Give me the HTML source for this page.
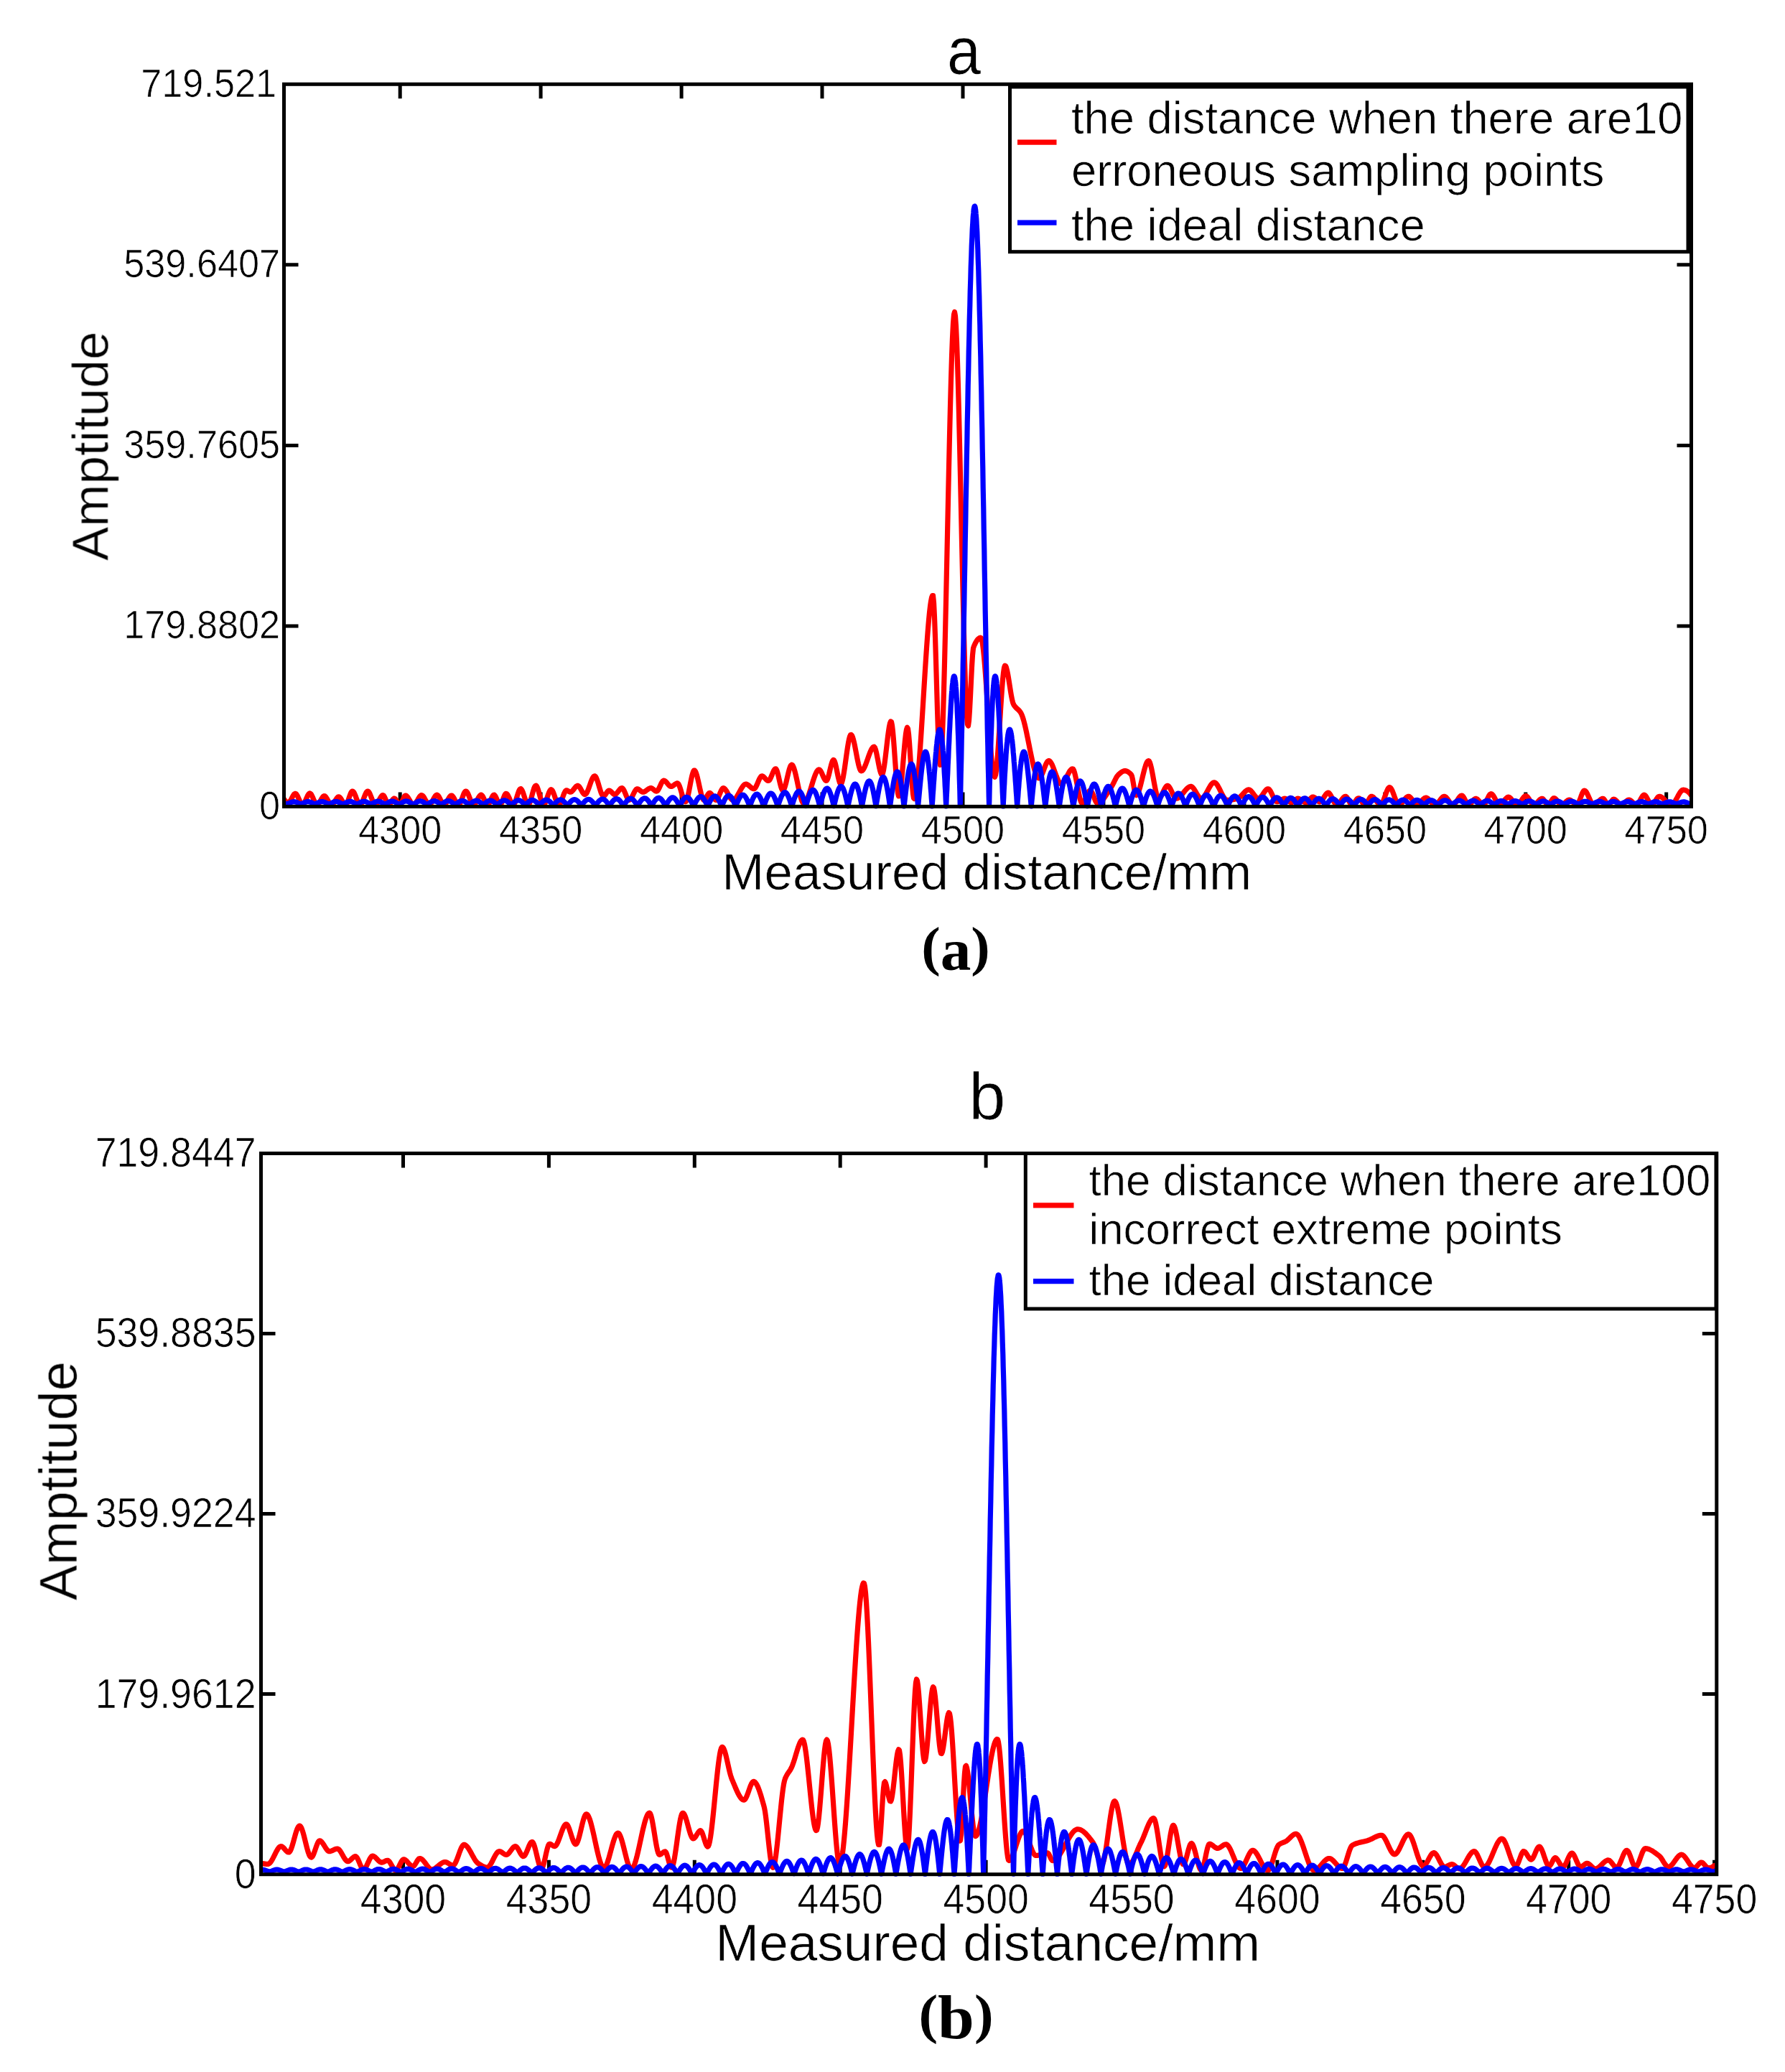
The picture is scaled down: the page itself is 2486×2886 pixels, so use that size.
<!DOCTYPE html>
<html><head><meta charset="utf-8"><title>Figure</title>
<style>html,body{margin:0;padding:0;background:#fff}svg{display:block}text{font-family:"Liberation Sans",Arial,Helvetica,sans-serif;fill:#000;stroke:#fff;stroke-width:0.7px}.cap{font-family:"Liberation Serif","Times New Roman",serif;font-weight:bold;stroke:none}</style></head><body>
<svg width="2486" height="2886" viewBox="0 0 2486 2886">
<rect width="2486" height="2886" fill="#fff"/>
<filter id="soft" x="0" y="0" width="100%" height="100%" filterUnits="userSpaceOnUse"><feGaussianBlur stdDeviation="0.75"/></filter>
<g filter="url(#soft)">
<!-- chart a -->
<clipPath id="clipa"><rect x="395.5" y="117.3" width="1960.0" height="1009.1000000000001"/></clipPath>
<path d="M557.2,1123.4 V1103.4 M557.2,117.3 V137.3 M753.1,1123.4 V1103.4 M753.1,117.3 V137.3 M949.1,1123.4 V1103.4 M949.1,117.3 V137.3 M1145.0,1123.4 V1103.4 M1145.0,117.3 V137.3 M1341.0,1123.4 V1103.4 M1341.0,117.3 V137.3 M1536.9,1123.4 V1103.4 M1536.9,117.3 V137.3 M1732.9,1123.4 V1103.4 M1732.9,117.3 V137.3 M1928.8,1123.4 V1103.4 M1928.8,117.3 V137.3 M2124.8,1123.4 V1103.4 M2124.8,117.3 V137.3 M2320.7,1123.4 V1103.4 M2320.7,117.3 V137.3 M395.5,871.9 H415.5 M2355.5,871.9 H2335.5 M395.5,620.4 H415.5 M2355.5,620.4 H2335.5 M395.5,368.8 H415.5 M2355.5,368.8 H2335.5" stroke="#000" stroke-width="5" fill="none"/>
<g clip-path="url(#clipa)" fill="none" stroke-linejoin="round" stroke-linecap="round">
<path d="M395.5,1113.0 L396.5,1114.5 L397.5,1115.8 L398.5,1116.7 L399.5,1117.4 L400.5,1117.9 L401.5,1118.0 L402.5,1117.6 L403.5,1116.6 L404.5,1115.2 L405.5,1113.4 L406.5,1111.5 L407.5,1109.5 L408.5,1107.8 L409.5,1106.4 L410.5,1105.6 L411.5,1105.3 L412.5,1105.9 L413.5,1107.3 L414.5,1109.1 L415.5,1111.2 L416.5,1113.6 L417.5,1115.8 L418.5,1117.9 L419.5,1119.6 L420.5,1120.7 L421.5,1121.0 L422.5,1120.4 L423.5,1119.1 L424.5,1117.3 L425.5,1115.1 L426.5,1112.7 L427.5,1110.4 L428.5,1108.2 L429.5,1106.5 L430.5,1105.3 L431.5,1104.9 L432.5,1105.4 L433.5,1106.6 L434.5,1108.4 L435.5,1110.6 L436.5,1112.9 L437.5,1115.3 L438.5,1117.5 L439.5,1119.3 L440.5,1120.5 L441.5,1121.0 L442.5,1120.7 L443.5,1119.8 L444.5,1118.4 L445.5,1116.8 L446.5,1115.0 L447.5,1113.2 L448.5,1111.5 L449.5,1110.1 L450.5,1109.1 L451.5,1108.7 L452.5,1108.9 L453.5,1109.8 L454.5,1111.1 L455.5,1112.7 L456.5,1114.5 L457.5,1116.4 L458.5,1118.1 L459.5,1119.5 L460.5,1120.5 L461.5,1121.0 L462.5,1120.8 L463.5,1120.1 L464.5,1118.9 L465.5,1117.4 L466.5,1115.8 L467.5,1114.2 L468.5,1112.6 L469.5,1111.3 L470.5,1110.3 L471.5,1109.8 L472.5,1110.0 L473.5,1110.8 L474.5,1112.0 L475.5,1113.6 L476.5,1115.3 L477.5,1117.0 L478.5,1118.6 L479.5,1119.9 L480.5,1120.8 L481.5,1121.0 L482.5,1120.2 L483.5,1118.5 L484.5,1116.0 L485.5,1113.2 L486.5,1110.2 L487.5,1107.3 L488.5,1104.8 L489.5,1103.0 L490.5,1102.0 L491.5,1102.2 L492.5,1103.2 L493.5,1104.9 L494.5,1107.2 L495.5,1109.7 L496.5,1112.4 L497.5,1115.0 L498.5,1117.3 L499.5,1119.3 L500.5,1120.5 L501.5,1121.0 L502.5,1120.5 L503.5,1119.2 L504.5,1117.3 L505.5,1114.9 L506.5,1112.3 L507.5,1109.6 L508.5,1107.1 L509.5,1104.9 L510.5,1103.2 L511.5,1102.2 L512.5,1102.0 L513.5,1102.8 L514.5,1104.4 L515.5,1106.5 L516.5,1109.0 L517.5,1111.6 L518.5,1114.3 L519.5,1116.7 L520.5,1118.8 L521.5,1120.2 L522.5,1121.0 L523.5,1120.8 L524.5,1120.1 L525.5,1118.8 L526.5,1117.2 L527.5,1115.4 L528.5,1113.5 L529.5,1111.7 L530.5,1110.0 L531.5,1108.7 L532.5,1107.8 L533.5,1107.6 L534.5,1108.3 L535.5,1109.9 L536.5,1112.2 L537.5,1114.7 L538.5,1117.2 L539.5,1119.3 L540.5,1120.6 L541.5,1121.0 L542.5,1120.4 L543.5,1119.2 L544.5,1117.7 L545.5,1116.0 L546.5,1114.4 L547.5,1113.0 L548.5,1112.2 L549.5,1112.1 L550.5,1112.8 L551.5,1114.0 L552.5,1115.6 L553.5,1117.3 L554.5,1118.9 L555.5,1120.2 L556.5,1120.9 L557.5,1120.8 L558.5,1119.7 L559.5,1117.8 L560.5,1115.4 L561.5,1113.0 L562.5,1110.7 L563.5,1108.9 L564.5,1108.1 L565.5,1108.2 L566.5,1108.8 L567.5,1109.9 L568.5,1111.3 L569.5,1113.0 L570.5,1114.7 L571.5,1116.4 L572.5,1118.0 L573.5,1119.4 L574.5,1120.4 L575.5,1120.9 L576.5,1120.9 L577.5,1120.3 L578.5,1119.3 L579.5,1117.9 L580.5,1116.2 L581.5,1114.5 L582.5,1112.7 L583.5,1111.0 L584.5,1109.5 L585.5,1108.4 L586.5,1107.7 L587.5,1107.6 L588.5,1108.1 L589.5,1109.2 L590.5,1110.6 L591.5,1112.4 L592.5,1114.2 L593.5,1116.1 L594.5,1117.9 L595.5,1119.3 L596.5,1120.4 L597.5,1121.0 L598.5,1120.8 L599.5,1120.1 L600.5,1118.8 L601.5,1117.2 L602.5,1115.4 L603.5,1113.4 L604.5,1111.5 L605.5,1109.8 L606.5,1108.4 L607.5,1107.5 L608.5,1107.1 L609.5,1107.5 L610.5,1108.6 L611.5,1110.1 L612.5,1112.0 L613.5,1114.0 L614.5,1116.0 L615.5,1117.9 L616.5,1119.5 L617.5,1120.6 L618.5,1121.0 L619.5,1120.7 L620.5,1119.8 L621.5,1118.3 L622.5,1116.6 L623.5,1114.7 L624.5,1112.8 L625.5,1111.0 L626.5,1109.5 L627.5,1108.5 L628.5,1108.0 L629.5,1108.3 L630.5,1109.2 L631.5,1110.5 L632.5,1112.2 L633.5,1114.1 L634.5,1116.0 L635.5,1117.8 L636.5,1119.4 L637.5,1120.5 L638.5,1121.0 L639.5,1120.7 L640.5,1119.5 L641.5,1117.5 L642.5,1115.0 L643.5,1112.3 L644.5,1109.5 L645.5,1106.8 L646.5,1104.5 L647.5,1102.9 L648.5,1102.0 L649.5,1102.2 L650.5,1103.2 L651.5,1105.0 L652.5,1107.2 L653.5,1109.8 L654.5,1112.4 L655.5,1115.0 L656.5,1117.4 L657.5,1119.3 L658.5,1120.6 L659.5,1121.0 L660.5,1120.6 L661.5,1119.7 L662.5,1118.3 L663.5,1116.5 L664.5,1114.6 L665.5,1112.7 L666.5,1110.8 L667.5,1109.2 L668.5,1108.0 L669.5,1107.2 L670.5,1107.2 L671.5,1108.0 L672.5,1109.5 L673.5,1111.6 L674.5,1113.8 L675.5,1116.1 L676.5,1118.2 L677.5,1119.9 L678.5,1120.8 L679.5,1120.9 L680.5,1120.1 L681.5,1118.5 L682.5,1116.5 L683.5,1114.2 L684.5,1111.9 L685.5,1109.8 L686.5,1108.2 L687.5,1107.3 L688.5,1107.2 L689.5,1108.2 L690.5,1110.0 L691.5,1112.2 L692.5,1114.7 L693.5,1117.1 L694.5,1119.1 L695.5,1120.5 L696.5,1121.0 L697.5,1120.3 L698.5,1118.6 L699.5,1116.3 L700.5,1113.6 L701.5,1110.8 L702.5,1108.3 L703.5,1106.4 L704.5,1105.4 L705.5,1105.5 L706.5,1106.4 L707.5,1108.0 L708.5,1110.0 L709.5,1112.3 L710.5,1114.6 L711.5,1116.8 L712.5,1118.7 L713.5,1120.1 L714.5,1120.9 L715.5,1120.8 L716.5,1119.5 L717.5,1117.4 L718.5,1114.6 L719.5,1111.4 L720.5,1108.0 L721.5,1104.9 L722.5,1102.1 L723.5,1100.0 L724.5,1098.8 L725.5,1098.7 L726.5,1099.8 L727.5,1101.7 L728.5,1104.2 L729.5,1107.2 L730.5,1110.3 L731.5,1113.4 L732.5,1116.3 L733.5,1118.6 L734.5,1120.3 L735.5,1121.0 L736.5,1120.5 L737.5,1118.9 L738.5,1116.3 L739.5,1113.0 L740.5,1109.4 L741.5,1105.6 L742.5,1102.0 L743.5,1098.7 L744.5,1096.2 L745.5,1094.6 L746.5,1094.1 L747.5,1095.1 L748.5,1097.1 L749.5,1099.9 L750.5,1103.4 L751.5,1107.1 L752.5,1110.8 L753.5,1114.4 L754.5,1117.4 L755.5,1119.6 L756.5,1120.9 L757.5,1120.8 L758.5,1119.8 L759.5,1117.9 L760.5,1115.5 L761.5,1112.6 L762.5,1109.7 L763.5,1106.7 L764.5,1104.1 L765.5,1101.9 L766.5,1100.3 L767.5,1099.7 L768.5,1100.2 L769.5,1101.5 L770.5,1103.6 L771.5,1106.2 L772.5,1109.1 L773.5,1112.1 L774.5,1115.0 L775.5,1117.5 L776.5,1119.5 L777.5,1120.7 L778.5,1121.0 L779.5,1120.2 L780.5,1118.7 L781.5,1116.5 L782.5,1113.9 L783.5,1111.1 L784.5,1108.3 L785.5,1105.6 L786.5,1103.4 L787.5,1101.8 L788.5,1100.9 L789.5,1100.9 L790.5,1101.3 L791.5,1101.9 L792.5,1102.6 L793.5,1103.1 L794.5,1103.2 L795.5,1103.0 L796.5,1102.3 L797.5,1101.3 L798.5,1100.1 L799.5,1098.8 L800.5,1097.5 L801.5,1096.3 L802.5,1095.3 L803.5,1094.6 L804.5,1094.3 L805.5,1094.6 L806.5,1095.5 L807.5,1096.8 L808.5,1098.4 L809.5,1100.3 L810.5,1102.1 L811.5,1103.8 L812.5,1105.2 L813.5,1106.2 L814.5,1106.6 L815.5,1106.3 L816.5,1105.3 L817.5,1103.6 L818.5,1101.5 L819.5,1099.0 L820.5,1096.2 L821.5,1093.4 L822.5,1090.5 L823.5,1087.8 L824.5,1085.4 L825.5,1083.4 L826.5,1081.8 L827.5,1081.0 L828.5,1080.9 L829.5,1081.8 L830.5,1083.6 L831.5,1086.1 L832.5,1089.0 L833.5,1092.3 L834.5,1095.7 L835.5,1099.0 L836.5,1102.2 L837.5,1104.9 L838.5,1107.0 L839.5,1108.4 L840.5,1108.8 L841.5,1108.4 L842.5,1107.5 L843.5,1106.2 L844.5,1104.7 L845.5,1103.2 L846.5,1102.0 L847.5,1101.2 L848.5,1101.0 L849.5,1101.4 L850.5,1102.1 L851.5,1103.1 L852.5,1104.1 L853.5,1105.2 L854.5,1106.0 L855.5,1106.5 L856.5,1106.6 L857.5,1106.1 L858.5,1105.3 L859.5,1104.2 L860.5,1103.0 L861.5,1101.7 L862.5,1100.4 L863.5,1099.2 L864.5,1098.3 L865.5,1097.8 L866.5,1097.7 L867.5,1098.4 L868.5,1099.9 L869.5,1101.9 L870.5,1104.2 L871.5,1106.7 L872.5,1109.2 L873.5,1111.3 L874.5,1113.1 L875.5,1114.2 L876.5,1114.4 L877.5,1113.9 L878.5,1112.8 L879.5,1111.3 L880.5,1109.4 L881.5,1107.4 L882.5,1105.3 L883.5,1103.3 L884.5,1101.5 L885.5,1100.1 L886.5,1099.1 L887.5,1098.8 L888.5,1099.0 L889.5,1099.5 L890.5,1100.3 L891.5,1101.1 L892.5,1101.9 L893.5,1102.6 L894.5,1103.1 L895.5,1103.2 L896.5,1103.1 L897.5,1102.7 L898.5,1102.2 L899.5,1101.5 L900.5,1100.8 L901.5,1100.0 L902.5,1099.3 L903.5,1098.7 L904.5,1098.1 L905.5,1097.8 L906.5,1097.6 L907.5,1097.8 L908.5,1098.4 L909.5,1099.1 L910.5,1099.9 L911.5,1100.8 L912.5,1101.5 L913.5,1102.0 L914.5,1102.1 L915.5,1101.6 L916.5,1100.4 L917.5,1098.7 L918.5,1096.6 L919.5,1094.4 L920.5,1092.2 L921.5,1090.2 L922.5,1088.6 L923.5,1087.5 L924.5,1087.1 L925.5,1087.4 L926.5,1088.0 L927.5,1088.9 L928.5,1090.0 L929.5,1091.3 L930.5,1092.5 L931.5,1093.6 L932.5,1094.5 L933.5,1095.2 L934.5,1095.4 L935.5,1095.3 L936.5,1094.9 L937.5,1094.3 L938.5,1093.6 L939.5,1092.8 L940.5,1092.1 L941.5,1091.5 L942.5,1091.1 L943.5,1090.9 L944.5,1091.5 L945.5,1093.1 L946.5,1095.5 L947.5,1098.4 L948.5,1101.7 L949.5,1105.2 L950.5,1108.5 L951.5,1111.6 L952.5,1114.1 L953.5,1115.9 L954.5,1116.7 L955.5,1116.2 L956.5,1114.2 L957.5,1111.0 L958.5,1106.8 L959.5,1102.0 L960.5,1096.8 L961.5,1091.5 L962.5,1086.4 L963.5,1081.7 L964.5,1077.8 L965.5,1074.9 L966.5,1073.2 L967.5,1073.1 L968.5,1074.4 L969.5,1076.7 L970.5,1079.9 L971.5,1083.7 L972.5,1088.0 L973.5,1092.6 L974.5,1097.2 L975.5,1101.6 L976.5,1105.7 L977.5,1109.3 L978.5,1112.0 L979.5,1113.8 L980.5,1114.5 L981.5,1114.0 L982.5,1112.8 L983.5,1111.1 L984.5,1109.2 L985.5,1107.3 L986.5,1105.7 L987.5,1104.7 L988.5,1104.4 L989.5,1104.8 L990.5,1105.9 L991.5,1107.3 L992.5,1108.9 L993.5,1110.6 L994.5,1112.1 L995.5,1113.4 L996.5,1114.2 L997.5,1114.4 L998.5,1113.8 L999.5,1112.4 L1000.5,1110.4 L1001.5,1108.1 L1002.5,1105.6 L1003.5,1103.2 L1004.5,1101.0 L1005.5,1099.2 L1006.5,1098.0 L1007.5,1097.7 L1008.5,1098.0 L1009.5,1098.8 L1010.5,1100.0 L1011.5,1101.4 L1012.5,1103.1 L1013.5,1104.9 L1014.5,1106.8 L1015.5,1108.7 L1016.5,1110.4 L1017.5,1111.9 L1018.5,1113.1 L1019.5,1114.0 L1020.5,1114.4 L1021.5,1114.4 L1022.5,1113.9 L1023.5,1113.1 L1024.5,1112.0 L1025.5,1110.7 L1026.5,1109.1 L1027.5,1107.4 L1028.5,1105.6 L1029.5,1103.8 L1030.5,1101.9 L1031.5,1100.1 L1032.5,1098.3 L1033.5,1096.7 L1034.5,1095.2 L1035.5,1094.0 L1036.5,1093.0 L1037.5,1092.4 L1038.5,1092.1 L1039.5,1092.1 L1040.5,1092.5 L1041.5,1093.1 L1042.5,1093.8 L1043.5,1094.7 L1044.5,1095.5 L1045.5,1096.4 L1046.5,1097.3 L1047.5,1097.9 L1048.5,1098.5 L1049.5,1098.7 L1050.5,1098.6 L1051.5,1097.8 L1052.5,1096.4 L1053.5,1094.5 L1054.5,1092.3 L1055.5,1089.9 L1056.5,1087.5 L1057.5,1085.3 L1058.5,1083.4 L1059.5,1081.9 L1060.5,1081.0 L1061.5,1080.9 L1062.5,1081.3 L1063.5,1082.0 L1064.5,1083.0 L1065.5,1084.1 L1066.5,1085.2 L1067.5,1086.2 L1068.5,1087.0 L1069.5,1087.5 L1070.5,1087.5 L1071.5,1086.7 L1072.5,1085.2 L1073.5,1083.1 L1074.5,1080.8 L1075.5,1078.3 L1076.5,1075.9 L1077.5,1073.7 L1078.5,1072.0 L1079.5,1071.0 L1080.5,1070.8 L1081.5,1072.1 L1082.5,1074.8 L1083.5,1078.4 L1084.5,1082.6 L1085.5,1087.1 L1086.5,1091.4 L1087.5,1095.4 L1088.5,1098.5 L1089.5,1100.5 L1090.5,1101.0 L1091.5,1100.0 L1092.5,1097.9 L1093.5,1094.9 L1094.5,1091.3 L1095.5,1087.2 L1096.5,1082.8 L1097.5,1078.5 L1098.5,1074.4 L1099.5,1070.8 L1100.5,1067.9 L1101.5,1066.0 L1102.5,1065.2 L1103.5,1065.6 L1104.5,1067.1 L1105.5,1069.4 L1106.5,1072.5 L1107.5,1076.2 L1108.5,1080.4 L1109.5,1084.9 L1110.5,1089.6 L1111.5,1094.4 L1112.5,1099.1 L1113.5,1103.7 L1114.5,1107.8 L1115.5,1111.6 L1116.5,1114.7 L1117.5,1117.0 L1118.5,1118.5 L1119.5,1118.9 L1120.5,1118.6 L1121.5,1117.7 L1122.5,1116.3 L1123.5,1114.4 L1124.5,1112.2 L1125.5,1109.6 L1126.5,1106.8 L1127.5,1103.7 L1128.5,1100.5 L1129.5,1097.2 L1130.5,1093.9 L1131.5,1090.6 L1132.5,1087.4 L1133.5,1084.4 L1134.5,1081.5 L1135.5,1078.9 L1136.5,1076.6 L1137.5,1074.7 L1138.5,1073.3 L1139.5,1072.3 L1140.5,1071.9 L1141.5,1072.2 L1142.5,1073.2 L1143.5,1074.8 L1144.5,1076.9 L1145.5,1079.2 L1146.5,1081.5 L1147.5,1083.7 L1148.5,1085.5 L1149.5,1086.9 L1150.5,1087.5 L1151.5,1087.1 L1152.5,1085.3 L1153.5,1082.4 L1154.5,1078.6 L1155.5,1074.4 L1156.5,1070.1 L1157.5,1066.0 L1158.5,1062.5 L1159.5,1059.9 L1160.5,1058.5 L1161.5,1058.8 L1162.5,1060.8 L1163.5,1064.1 L1164.5,1068.4 L1165.5,1073.2 L1166.5,1078.2 L1167.5,1082.9 L1168.5,1087.0 L1169.5,1090.2 L1170.5,1091.8 L1171.5,1091.7 L1172.5,1089.8 L1173.5,1086.2 L1174.5,1081.4 L1175.5,1075.5 L1176.5,1068.9 L1177.5,1061.8 L1178.5,1054.6 L1179.5,1047.5 L1180.5,1040.8 L1181.5,1034.8 L1182.5,1029.7 L1183.5,1026.0 L1184.5,1023.7 L1185.5,1023.3 L1186.5,1024.4 L1187.5,1026.7 L1188.5,1030.0 L1189.5,1034.1 L1190.5,1038.8 L1191.5,1043.9 L1192.5,1049.2 L1193.5,1054.5 L1194.5,1059.5 L1195.5,1064.1 L1196.5,1068.0 L1197.5,1071.1 L1198.5,1073.1 L1199.5,1073.9 L1200.5,1073.6 L1201.5,1072.8 L1202.5,1071.4 L1203.5,1069.7 L1204.5,1067.5 L1205.5,1065.1 L1206.5,1062.5 L1207.5,1059.7 L1208.5,1056.8 L1209.5,1054.0 L1210.5,1051.2 L1211.5,1048.6 L1212.5,1046.2 L1213.5,1044.1 L1214.5,1042.4 L1215.5,1041.1 L1216.5,1040.3 L1217.5,1040.2 L1218.5,1041.4 L1219.5,1044.2 L1220.5,1048.1 L1221.5,1052.9 L1222.5,1058.0 L1223.5,1063.3 L1224.5,1068.4 L1225.5,1072.8 L1226.5,1076.3 L1227.5,1078.4 L1228.5,1078.9 L1229.5,1077.0 L1230.5,1072.9 L1231.5,1067.0 L1232.5,1059.7 L1233.5,1051.5 L1234.5,1042.8 L1235.5,1034.1 L1236.5,1025.7 L1237.5,1018.2 L1238.5,1011.9 L1239.5,1007.3 L1240.5,1004.9 L1241.5,1005.4 L1242.5,1010.4 L1243.5,1019.0 L1244.5,1030.5 L1245.5,1043.8 L1246.5,1057.9 L1247.5,1072.1 L1248.5,1085.2 L1249.5,1096.3 L1250.5,1104.6 L1251.5,1108.9 L1252.5,1108.7 L1253.5,1104.7 L1254.5,1097.7 L1255.5,1088.3 L1256.5,1077.3 L1257.5,1065.4 L1258.5,1053.2 L1259.5,1041.5 L1260.5,1030.9 L1261.5,1022.2 L1262.5,1016.1 L1263.5,1013.2 L1264.5,1015.0 L1265.5,1022.4 L1266.5,1034.1 L1267.5,1048.7 L1268.5,1064.6 L1269.5,1080.4 L1270.5,1094.5 L1271.5,1105.5 L1272.5,1111.8 L1273.5,1112.5 L1274.5,1110.2 L1275.5,1105.7 L1276.5,1099.2 L1277.5,1090.9 L1278.5,1080.9 L1279.5,1069.5 L1280.5,1056.8 L1281.5,1043.0 L1282.5,1028.4 L1283.5,1013.1 L1284.5,997.3 L1285.5,981.1 L1286.5,964.9 L1287.5,948.7 L1288.5,932.8 L1289.5,917.3 L1290.5,902.5 L1291.5,888.5 L1292.5,875.5 L1293.5,863.7 L1294.5,853.4 L1295.5,844.6 L1296.5,837.6 L1297.5,832.5 L1298.5,829.6 L1299.5,829.5 L1300.5,839.3 L1301.5,859.4 L1302.5,887.2 L1303.5,919.8 L1304.5,954.6 L1305.5,988.8 L1306.5,1019.7 L1307.5,1044.5 L1308.5,1060.7 L1309.5,1065.4 L1310.5,1059.6 L1311.5,1045.4 L1312.5,1023.8 L1313.5,995.8 L1314.5,962.2 L1315.5,924.0 L1316.5,882.2 L1317.5,837.7 L1318.5,791.4 L1319.5,744.3 L1320.5,697.3 L1321.5,651.3 L1322.5,607.4 L1323.5,566.3 L1324.5,529.2 L1325.5,496.9 L1326.5,470.3 L1327.5,450.4 L1328.5,438.2 L1329.5,434.5 L1330.5,440.2 L1331.5,454.5 L1332.5,476.3 L1333.5,504.8 L1334.5,538.7 L1335.5,577.2 L1336.5,619.0 L1337.5,663.3 L1338.5,708.9 L1339.5,754.9 L1340.5,800.1 L1341.5,843.6 L1342.5,884.2 L1343.5,921.0 L1344.5,953.0 L1345.5,979.0 L1346.5,998.0 L1347.5,1009.0 L1348.5,1011.0 L1349.5,1003.5 L1350.5,988.7 L1351.5,969.6 L1352.5,948.6 L1353.5,928.7 L1354.5,912.6 L1355.5,902.9 L1356.5,899.9 L1357.5,897.6 L1358.5,895.6 L1359.5,893.8 L1360.5,892.2 L1361.5,890.8 L1362.5,889.8 L1363.5,889.0 L1364.5,888.4 L1365.5,888.1 L1366.5,888.6 L1367.5,891.6 L1368.5,897.3 L1369.5,905.2 L1370.5,915.1 L1371.5,926.7 L1372.5,939.5 L1373.5,953.4 L1374.5,967.9 L1375.5,982.9 L1376.5,997.8 L1377.5,1012.5 L1378.5,1026.6 L1379.5,1039.9 L1380.5,1051.8 L1381.5,1062.3 L1382.5,1070.9 L1383.5,1077.3 L1384.5,1081.2 L1385.5,1082.3 L1386.5,1079.6 L1387.5,1073.1 L1388.5,1063.4 L1389.5,1051.2 L1390.5,1037.0 L1391.5,1021.6 L1392.5,1005.5 L1393.5,989.3 L1394.5,973.8 L1395.5,959.5 L1396.5,947.0 L1397.5,937.0 L1398.5,930.2 L1399.5,927.1 L1400.5,927.5 L1401.5,929.8 L1402.5,933.6 L1403.5,938.4 L1404.5,944.2 L1405.5,950.4 L1406.5,956.8 L1407.5,963.1 L1408.5,969.0 L1409.5,974.1 L1410.5,978.2 L1411.5,980.9 L1412.5,982.6 L1413.5,984.0 L1414.5,985.1 L1415.5,986.1 L1416.5,987.1 L1417.5,987.9 L1418.5,988.9 L1419.5,989.9 L1420.5,991.1 L1421.5,992.5 L1422.5,994.4 L1423.5,996.7 L1424.5,999.6 L1425.5,1002.9 L1426.5,1006.6 L1427.5,1010.7 L1428.5,1015.0 L1429.5,1019.6 L1430.5,1024.4 L1431.5,1029.3 L1432.5,1034.3 L1433.5,1039.3 L1434.5,1044.4 L1435.5,1049.3 L1436.5,1054.1 L1437.5,1058.7 L1438.5,1063.1 L1439.5,1067.3 L1440.5,1071.1 L1441.5,1074.5 L1442.5,1077.5 L1443.5,1079.9 L1444.5,1081.9 L1445.5,1083.2 L1446.5,1084.0 L1447.5,1084.0 L1448.5,1083.3 L1449.5,1081.9 L1450.5,1080.1 L1451.5,1077.8 L1452.5,1075.3 L1453.5,1072.7 L1454.5,1070.0 L1455.5,1067.4 L1456.5,1064.9 L1457.5,1062.8 L1458.5,1061.1 L1459.5,1060.0 L1460.5,1059.6 L1461.5,1059.8 L1462.5,1060.6 L1463.5,1061.9 L1464.5,1063.7 L1465.5,1065.7 L1466.5,1068.1 L1467.5,1070.7 L1468.5,1073.4 L1469.5,1076.2 L1470.5,1079.0 L1471.5,1081.7 L1472.5,1084.2 L1473.5,1086.5 L1474.5,1088.5 L1475.5,1090.1 L1476.5,1091.3 L1477.5,1091.9 L1478.5,1092.0 L1479.5,1091.6 L1480.5,1090.7 L1481.5,1089.5 L1482.5,1088.0 L1483.5,1086.2 L1484.5,1084.3 L1485.5,1082.3 L1486.5,1080.3 L1487.5,1078.3 L1488.5,1076.4 L1489.5,1074.6 L1490.5,1073.2 L1491.5,1072.0 L1492.5,1071.2 L1493.5,1070.8 L1494.5,1071.2 L1495.5,1072.9 L1496.5,1075.9 L1497.5,1079.8 L1498.5,1084.4 L1499.5,1089.5 L1500.5,1094.8 L1501.5,1100.2 L1502.5,1105.3 L1503.5,1109.9 L1504.5,1113.8 L1505.5,1116.8 L1506.5,1118.5 L1507.5,1118.9 L1508.5,1118.3 L1509.5,1117.0 L1510.5,1115.2 L1511.5,1113.1 L1512.5,1110.8 L1513.5,1108.4 L1514.5,1106.1 L1515.5,1104.0 L1516.5,1102.4 L1517.5,1101.4 L1518.5,1101.0 L1519.5,1101.6 L1520.5,1103.0 L1521.5,1105.0 L1522.5,1107.4 L1523.5,1110.0 L1524.5,1112.7 L1525.5,1115.1 L1526.5,1117.1 L1527.5,1118.4 L1528.5,1118.9 L1529.5,1118.8 L1530.5,1118.5 L1531.5,1118.0 L1532.5,1117.3 L1533.5,1116.5 L1534.5,1115.5 L1535.5,1114.4 L1536.5,1113.2 L1537.5,1111.9 L1538.5,1110.5 L1539.5,1109.0 L1540.5,1107.5 L1541.5,1105.9 L1542.5,1104.3 L1543.5,1102.7 L1544.5,1101.2 L1545.5,1099.6 L1546.5,1098.1 L1547.5,1096.6 L1548.5,1095.1 L1549.5,1093.3 L1550.5,1091.4 L1551.5,1089.4 L1552.5,1087.3 L1553.5,1085.3 L1554.5,1083.4 L1555.5,1081.7 L1556.5,1080.3 L1557.5,1079.2 L1558.5,1078.3 L1559.5,1077.4 L1560.5,1076.6 L1561.5,1075.8 L1562.5,1075.1 L1563.5,1074.5 L1564.5,1074.1 L1565.5,1073.8 L1566.5,1073.7 L1567.5,1073.7 L1568.5,1073.9 L1569.5,1074.3 L1570.5,1074.8 L1571.5,1075.4 L1572.5,1076.1 L1573.5,1077.0 L1574.5,1077.9 L1575.5,1079.0 L1576.5,1081.3 L1577.5,1085.8 L1578.5,1091.6 L1579.5,1097.7 L1580.5,1103.1 L1581.5,1106.7 L1582.5,1107.7 L1583.5,1107.1 L1584.5,1105.6 L1585.5,1103.4 L1586.5,1100.5 L1587.5,1097.2 L1588.5,1093.5 L1589.5,1089.6 L1590.5,1085.4 L1591.5,1081.2 L1592.5,1077.1 L1593.5,1073.2 L1594.5,1069.5 L1595.5,1066.3 L1596.5,1063.5 L1597.5,1061.4 L1598.5,1060.1 L1599.5,1059.6 L1600.5,1060.2 L1601.5,1062.3 L1602.5,1065.5 L1603.5,1069.6 L1604.5,1074.4 L1605.5,1079.7 L1606.5,1085.3 L1607.5,1090.8 L1608.5,1096.2 L1609.5,1101.1 L1610.5,1105.4 L1611.5,1108.9 L1612.5,1111.2 L1613.5,1112.2 L1614.5,1112.0 L1615.5,1111.1 L1616.5,1109.8 L1617.5,1108.1 L1618.5,1106.1 L1619.5,1104.0 L1620.5,1101.8 L1621.5,1099.7 L1622.5,1097.8 L1623.5,1096.2 L1624.5,1095.0 L1625.5,1094.4 L1626.5,1094.4 L1627.5,1095.0 L1628.5,1096.2 L1629.5,1097.8 L1630.5,1099.7 L1631.5,1101.8 L1632.5,1104.0 L1633.5,1106.1 L1634.5,1108.1 L1635.5,1109.8 L1636.5,1111.2 L1637.5,1112.0 L1638.5,1112.2 L1639.5,1112.0 L1640.5,1111.7 L1641.5,1111.1 L1642.5,1110.3 L1643.5,1109.5 L1644.5,1108.4 L1645.5,1107.3 L1646.5,1106.2 L1647.5,1104.9 L1648.5,1103.7 L1649.5,1102.4 L1650.5,1101.2 L1651.5,1100.1 L1652.5,1099.0 L1653.5,1098.0 L1654.5,1097.1 L1655.5,1096.4 L1656.5,1095.9 L1657.5,1095.5 L1658.5,1095.4 L1659.5,1095.6 L1660.5,1096.3 L1661.5,1097.3 L1662.5,1098.5 L1663.5,1100.0 L1664.5,1101.6 L1665.5,1103.3 L1666.5,1105.1 L1667.5,1106.7 L1668.5,1108.3 L1669.5,1109.7 L1670.5,1110.8 L1671.5,1111.7 L1672.5,1112.1 L1673.5,1112.2 L1674.5,1111.8 L1675.5,1111.1 L1676.5,1110.0 L1677.5,1108.8 L1678.5,1107.3 L1679.5,1105.6 L1680.5,1103.8 L1681.5,1102.0 L1682.5,1100.1 L1683.5,1098.3 L1684.5,1096.5 L1685.5,1094.8 L1686.5,1093.3 L1687.5,1092.0 L1688.5,1091.0 L1689.5,1090.2 L1690.5,1089.9 L1691.5,1089.9 L1692.5,1090.3 L1693.5,1091.1 L1694.5,1092.3 L1695.5,1093.7 L1696.5,1095.4 L1697.5,1097.2 L1698.5,1099.2 L1699.5,1101.2 L1700.5,1103.3 L1701.5,1105.3 L1702.5,1107.3 L1703.5,1109.1 L1704.5,1110.7 L1705.5,1112.1 L1706.5,1113.2 L1707.5,1114.0 L1708.5,1114.4 L1709.5,1114.4 L1710.5,1114.4 L1711.5,1114.4 L1712.5,1114.3 L1713.5,1114.2 L1714.5,1114.1 L1715.5,1113.9 L1716.5,1113.7 L1717.5,1113.6 L1718.5,1113.4 L1719.5,1113.2 L1720.5,1112.9 L1721.5,1112.7 L1722.5,1112.5 L1723.5,1112.2 L1724.5,1111.8 L1725.5,1111.3 L1726.5,1110.5 L1727.5,1109.6 L1728.5,1108.6 L1729.5,1107.6 L1730.5,1106.5 L1731.5,1105.3 L1732.5,1104.3 L1733.5,1103.2 L1734.5,1102.3 L1735.5,1101.4 L1736.5,1100.7 L1737.5,1100.2 L1738.5,1099.9 L1739.5,1099.9 L1740.5,1100.2 L1741.5,1100.9 L1742.5,1101.8 L1743.5,1102.9 L1744.5,1104.2 L1745.5,1105.5 L1746.5,1106.9 L1747.5,1108.2 L1748.5,1109.5 L1749.5,1110.5 L1750.5,1111.4 L1751.5,1112.0 L1752.5,1112.2 L1753.5,1112.0 L1754.5,1111.5 L1755.5,1110.6 L1756.5,1109.5 L1757.5,1108.2 L1758.5,1106.7 L1759.5,1105.2 L1760.5,1103.7 L1761.5,1102.3 L1762.5,1101.1 L1763.5,1100.0 L1764.5,1099.3 L1765.5,1098.8 L1766.5,1098.8 L1767.5,1099.5 L1768.5,1100.6 L1769.5,1102.2 L1770.5,1104.1 L1771.5,1106.2 L1772.5,1108.4 L1773.5,1110.5 L1774.5,1112.5 L1775.5,1114.2 L1776.5,1115.6 L1777.5,1116.4 L1778.5,1116.7 L1779.5,1116.6 L1780.5,1116.3 L1781.5,1115.8 L1782.5,1115.3 L1783.5,1114.7 L1784.5,1114.1 L1785.5,1113.6 L1786.5,1113.0 L1787.5,1112.6 L1788.5,1112.3 L1789.5,1112.2 L1790.5,1112.4 L1791.5,1112.9 L1792.5,1113.6 L1793.5,1114.5 L1794.5,1115.4 L1795.5,1116.3 L1796.5,1117.1 L1797.5,1117.6 L1798.5,1117.8 L1799.5,1117.6 L1800.5,1117.1 L1801.5,1116.4 L1802.5,1115.5 L1803.5,1114.6 L1804.5,1113.7 L1805.5,1112.9 L1806.5,1112.4 L1807.5,1112.2 L1808.5,1112.3 L1809.5,1112.7 L1810.5,1113.2 L1811.5,1113.8 L1812.5,1114.6 L1813.5,1115.3 L1814.5,1116.0 L1815.5,1116.7 L1816.5,1117.2 L1817.5,1117.6 L1818.5,1117.8 L1819.5,1117.7 L1820.5,1117.2 L1821.5,1116.3 L1822.5,1115.3 L1823.5,1114.2 L1824.5,1113.0 L1825.5,1111.9 L1826.5,1111.0 L1827.5,1110.3 L1828.5,1110.0 L1829.5,1110.1 L1830.5,1110.6 L1831.5,1111.4 L1832.5,1112.5 L1833.5,1113.6 L1834.5,1114.7 L1835.5,1115.7 L1836.5,1116.5 L1837.5,1116.9 L1838.5,1116.9 L1839.5,1116.4 L1840.5,1115.5 L1841.5,1114.2 L1842.5,1112.7 L1843.5,1111.1 L1844.5,1109.5 L1845.5,1107.9 L1846.5,1106.4 L1847.5,1105.3 L1848.5,1104.5 L1849.5,1104.1 L1850.5,1104.3 L1851.5,1105.2 L1852.5,1106.5 L1853.5,1108.1 L1854.5,1110.1 L1855.5,1112.1 L1856.5,1114.2 L1857.5,1116.2 L1858.5,1118.0 L1859.5,1119.4 L1860.5,1120.5 L1861.5,1121.0 L1862.5,1120.9 L1863.5,1120.3 L1864.5,1119.5 L1865.5,1118.3 L1866.5,1117.0 L1867.5,1115.6 L1868.5,1114.1 L1869.5,1112.7 L1870.5,1111.5 L1871.5,1110.4 L1872.5,1109.7 L1873.5,1109.3 L1874.5,1109.4 L1875.5,1110.3 L1876.5,1111.7 L1877.5,1113.4 L1878.5,1115.3 L1879.5,1117.2 L1880.5,1118.9 L1881.5,1120.2 L1882.5,1120.9 L1883.5,1120.9 L1884.5,1120.3 L1885.5,1119.2 L1886.5,1117.8 L1887.5,1116.3 L1888.5,1114.8 L1889.5,1113.4 L1890.5,1112.4 L1891.5,1111.8 L1892.5,1111.8 L1893.5,1112.3 L1894.5,1113.4 L1895.5,1114.7 L1896.5,1116.3 L1897.5,1117.8 L1898.5,1119.2 L1899.5,1120.2 L1900.5,1120.9 L1901.5,1120.9 L1902.5,1120.2 L1903.5,1119.0 L1904.5,1117.3 L1905.5,1115.4 L1906.5,1113.5 L1907.5,1111.7 L1908.5,1110.3 L1909.5,1109.4 L1910.5,1109.3 L1911.5,1109.6 L1912.5,1110.3 L1913.5,1111.3 L1914.5,1112.5 L1915.5,1113.8 L1916.5,1115.2 L1917.5,1116.6 L1918.5,1117.9 L1919.5,1119.1 L1920.5,1120.0 L1921.5,1120.7 L1922.5,1121.0 L1923.5,1120.7 L1924.5,1119.7 L1925.5,1117.9 L1926.5,1115.7 L1927.5,1113.1 L1928.5,1110.2 L1929.5,1107.3 L1930.5,1104.5 L1931.5,1101.9 L1932.5,1099.6 L1933.5,1097.9 L1934.5,1096.8 L1935.5,1096.6 L1936.5,1097.1 L1937.5,1098.4 L1938.5,1100.2 L1939.5,1102.5 L1940.5,1105.1 L1941.5,1107.8 L1942.5,1110.6 L1943.5,1113.3 L1944.5,1115.7 L1945.5,1117.9 L1946.5,1119.6 L1947.5,1120.6 L1948.5,1121.0 L1949.5,1120.8 L1950.5,1120.2 L1951.5,1119.4 L1952.5,1118.3 L1953.5,1117.1 L1954.5,1115.8 L1955.5,1114.5 L1956.5,1113.2 L1957.5,1112.0 L1958.5,1110.9 L1959.5,1110.1 L1960.5,1109.5 L1961.5,1109.3 L1962.5,1109.4 L1963.5,1110.0 L1964.5,1111.0 L1965.5,1112.1 L1966.5,1113.5 L1967.5,1114.9 L1968.5,1116.4 L1969.5,1117.7 L1970.5,1119.0 L1971.5,1120.0 L1972.5,1120.7 L1973.5,1121.0 L1974.5,1120.9 L1975.5,1120.4 L1976.5,1119.6 L1977.5,1118.7 L1978.5,1117.5 L1979.5,1116.3 L1980.5,1115.1 L1981.5,1113.9 L1982.5,1112.9 L1983.5,1112.0 L1984.5,1111.4 L1985.5,1111.1 L1986.5,1111.2 L1987.5,1111.6 L1988.5,1112.2 L1989.5,1113.1 L1990.5,1114.1 L1991.5,1115.2 L1992.5,1116.4 L1993.5,1117.5 L1994.5,1118.6 L1995.5,1119.5 L1996.5,1120.3 L1997.5,1120.8 L1998.5,1121.0 L1999.5,1120.9 L2000.5,1120.3 L2001.5,1119.5 L2002.5,1118.5 L2003.5,1117.3 L2004.5,1115.9 L2005.5,1114.6 L2006.5,1113.2 L2007.5,1112.0 L2008.5,1110.9 L2009.5,1110.0 L2010.5,1109.5 L2011.5,1109.3 L2012.5,1109.5 L2013.5,1110.1 L2014.5,1111.1 L2015.5,1112.2 L2016.5,1113.6 L2017.5,1115.0 L2018.5,1116.5 L2019.5,1117.9 L2020.5,1119.1 L2021.5,1120.1 L2022.5,1120.7 L2023.5,1121.0 L2024.5,1120.8 L2025.5,1120.2 L2026.5,1119.1 L2027.5,1117.8 L2028.5,1116.4 L2029.5,1114.8 L2030.5,1113.2 L2031.5,1111.7 L2032.5,1110.3 L2033.5,1109.2 L2034.5,1108.4 L2035.5,1108.1 L2036.5,1108.3 L2037.5,1109.2 L2038.5,1110.6 L2039.5,1112.3 L2040.5,1114.3 L2041.5,1116.2 L2042.5,1118.0 L2043.5,1119.6 L2044.5,1120.6 L2045.5,1121.0 L2046.5,1120.8 L2047.5,1120.1 L2048.5,1119.1 L2049.5,1117.9 L2050.5,1116.6 L2051.5,1115.3 L2052.5,1114.1 L2053.5,1113.1 L2054.5,1112.5 L2055.5,1112.3 L2056.5,1112.6 L2057.5,1113.2 L2058.5,1114.1 L2059.5,1115.2 L2060.5,1116.4 L2061.5,1117.7 L2062.5,1118.8 L2063.5,1119.8 L2064.5,1120.5 L2065.5,1121.0 L2066.5,1120.9 L2067.5,1120.1 L2068.5,1118.8 L2069.5,1117.0 L2070.5,1115.0 L2071.5,1112.8 L2072.5,1110.7 L2073.5,1108.7 L2074.5,1107.1 L2075.5,1106.1 L2076.5,1105.6 L2077.5,1105.9 L2078.5,1106.7 L2079.5,1107.9 L2080.5,1109.5 L2081.5,1111.2 L2082.5,1113.1 L2083.5,1115.0 L2084.5,1116.8 L2085.5,1118.4 L2086.5,1119.7 L2087.5,1120.6 L2088.5,1121.0 L2089.5,1120.8 L2090.5,1120.3 L2091.5,1119.5 L2092.5,1118.4 L2093.5,1117.2 L2094.5,1115.9 L2095.5,1114.5 L2096.5,1113.2 L2097.5,1112.1 L2098.5,1111.2 L2099.5,1110.5 L2100.5,1110.2 L2101.5,1110.3 L2102.5,1110.8 L2103.5,1111.6 L2104.5,1112.6 L2105.5,1113.9 L2106.5,1115.2 L2107.5,1116.5 L2108.5,1117.8 L2109.5,1119.0 L2110.5,1119.9 L2111.5,1120.6 L2112.5,1121.0 L2113.5,1120.9 L2114.5,1120.4 L2115.5,1119.5 L2116.5,1118.3 L2117.5,1116.9 L2118.5,1115.4 L2119.5,1113.9 L2120.5,1112.4 L2121.5,1111.1 L2122.5,1110.0 L2123.5,1109.1 L2124.5,1108.7 L2125.5,1108.7 L2126.5,1109.3 L2127.5,1110.2 L2128.5,1111.5 L2129.5,1113.0 L2130.5,1114.6 L2131.5,1116.2 L2132.5,1117.8 L2133.5,1119.1 L2134.5,1120.2 L2135.5,1120.8 L2136.5,1121.0 L2137.5,1120.7 L2138.5,1120.1 L2139.5,1119.3 L2140.5,1118.3 L2141.5,1117.2 L2142.5,1116.0 L2143.5,1114.9 L2144.5,1113.9 L2145.5,1113.1 L2146.5,1112.5 L2147.5,1112.3 L2148.5,1112.5 L2149.5,1113.4 L2150.5,1114.7 L2151.5,1116.2 L2152.5,1117.7 L2153.5,1119.2 L2154.5,1120.3 L2155.5,1120.9 L2156.5,1120.9 L2157.5,1120.2 L2158.5,1118.9 L2159.5,1117.4 L2160.5,1115.7 L2161.5,1114.1 L2162.5,1112.8 L2163.5,1111.9 L2164.5,1111.7 L2165.5,1112.0 L2166.5,1112.7 L2167.5,1113.7 L2168.5,1114.9 L2169.5,1116.2 L2170.5,1117.5 L2171.5,1118.8 L2172.5,1119.8 L2173.5,1120.6 L2174.5,1121.0 L2175.5,1120.9 L2176.5,1120.6 L2177.5,1119.9 L2178.5,1119.1 L2179.5,1118.2 L2180.5,1117.2 L2181.5,1116.3 L2182.5,1115.4 L2183.5,1114.7 L2184.5,1114.3 L2185.5,1114.1 L2186.5,1114.3 L2187.5,1114.8 L2188.5,1115.5 L2189.5,1116.3 L2190.5,1117.3 L2191.5,1118.3 L2192.5,1119.2 L2193.5,1120.0 L2194.5,1120.6 L2195.5,1120.9 L2196.5,1120.9 L2197.5,1120.0 L2198.5,1118.3 L2199.5,1116.0 L2200.5,1113.4 L2201.5,1110.6 L2202.5,1107.8 L2203.5,1105.3 L2204.5,1103.2 L2205.5,1101.7 L2206.5,1101.1 L2207.5,1101.4 L2208.5,1102.2 L2209.5,1103.6 L2210.5,1105.4 L2211.5,1107.5 L2212.5,1109.7 L2213.5,1112.1 L2214.5,1114.3 L2215.5,1116.4 L2216.5,1118.3 L2217.5,1119.7 L2218.5,1120.7 L2219.5,1121.0 L2220.5,1120.8 L2221.5,1120.4 L2222.5,1119.8 L2223.5,1119.0 L2224.5,1118.1 L2225.5,1117.1 L2226.5,1116.1 L2227.5,1115.1 L2228.5,1114.2 L2229.5,1113.4 L2230.5,1112.8 L2231.5,1112.4 L2232.5,1112.3 L2233.5,1112.8 L2234.5,1114.0 L2235.5,1115.6 L2236.5,1117.3 L2237.5,1118.9 L2238.5,1120.2 L2239.5,1120.9 L2240.5,1120.9 L2241.5,1120.1 L2242.5,1118.9 L2243.5,1117.4 L2244.5,1115.9 L2245.5,1114.5 L2246.5,1113.5 L2247.5,1113.2 L2248.5,1113.4 L2249.5,1113.9 L2250.5,1114.7 L2251.5,1115.7 L2252.5,1116.8 L2253.5,1117.9 L2254.5,1118.9 L2255.5,1119.9 L2256.5,1120.5 L2257.5,1120.9 L2258.5,1121.0 L2259.5,1120.7 L2260.5,1120.1 L2261.5,1119.3 L2262.5,1118.4 L2263.5,1117.4 L2264.5,1116.4 L2265.5,1115.6 L2266.5,1114.8 L2267.5,1114.3 L2268.5,1114.1 L2269.5,1114.2 L2270.5,1114.7 L2271.5,1115.3 L2272.5,1116.2 L2273.5,1117.1 L2274.5,1118.1 L2275.5,1119.0 L2276.5,1119.9 L2277.5,1120.5 L2278.5,1120.9 L2279.5,1121.0 L2280.5,1120.5 L2281.5,1119.4 L2282.5,1117.9 L2283.5,1116.1 L2284.5,1114.1 L2285.5,1112.2 L2286.5,1110.4 L2287.5,1108.9 L2288.5,1107.7 L2289.5,1107.2 L2290.5,1107.3 L2291.5,1108.1 L2292.5,1109.3 L2293.5,1111.0 L2294.5,1112.9 L2295.5,1114.8 L2296.5,1116.7 L2297.5,1118.4 L2298.5,1119.8 L2299.5,1120.7 L2300.5,1121.0 L2301.5,1120.7 L2302.5,1119.8 L2303.5,1118.6 L2304.5,1117.1 L2305.5,1115.5 L2306.5,1113.8 L2307.5,1112.3 L2308.5,1110.9 L2309.5,1109.9 L2310.5,1109.3 L2311.5,1109.3 L2312.5,1109.5 L2313.5,1110.0 L2314.5,1110.6 L2315.5,1111.4 L2316.5,1112.3 L2317.5,1113.2 L2318.5,1114.3 L2319.5,1115.3 L2320.5,1116.4 L2321.5,1117.4 L2322.5,1118.3 L2323.5,1119.2 L2324.5,1119.9 L2325.5,1120.5 L2326.5,1120.8 L2327.5,1121.0 L2328.5,1120.8 L2329.5,1120.3 L2330.5,1119.4 L2331.5,1118.2 L2332.5,1116.7 L2333.5,1115.1 L2334.5,1113.3 L2335.5,1111.5 L2336.5,1109.6 L2337.5,1107.7 L2338.5,1106.0 L2339.5,1104.3 L2340.5,1102.9 L2341.5,1101.7 L2342.5,1100.8 L2343.5,1100.3 L2344.5,1100.2 L2345.5,1100.3 L2346.5,1100.5 L2347.5,1100.8 L2348.5,1101.2 L2349.5,1101.8 L2350.5,1102.5 L2351.5,1103.3 L2352.5,1104.2 L2353.5,1105.3 L2354.5,1106.6 L2355.5,1108.0" stroke="#f00" stroke-width="7.2"/>
<path d="M395.5,1118.4 L396.5,1118.9 L397.5,1119.2 L398.5,1119.5 L399.5,1119.6 L399.5,1119.6 L400.5,1119.5 L401.5,1119.2 L402.5,1118.8 L403.5,1118.4 L404.5,1117.9 L405.5,1117.5 L406.5,1117.2 L407.5,1116.9 L408.5,1116.8 L409.5,1116.7 L410.5,1116.8 L411.5,1117.0 L412.5,1117.3 L413.5,1117.7 L414.5,1118.1 L415.5,1118.6 L416.5,1119.0 L417.5,1119.4 L418.5,1119.6 L419.0,1119.6 L419.5,1119.6 L420.5,1119.4 L421.5,1119.0 L422.5,1118.6 L423.5,1118.1 L424.5,1117.7 L425.5,1117.3 L426.5,1117.0 L427.5,1116.7 L428.5,1116.6 L429.5,1116.7 L430.5,1116.8 L431.5,1117.1 L432.5,1117.4 L433.5,1117.8 L434.5,1118.3 L435.5,1118.8 L436.5,1119.2 L437.5,1119.5 L438.5,1119.6 L438.5,1119.6 L439.5,1119.5 L440.5,1119.2 L441.5,1118.8 L442.5,1118.3 L443.5,1117.9 L444.5,1117.4 L445.5,1117.0 L446.5,1116.8 L447.5,1116.6 L448.5,1116.6 L449.5,1116.6 L450.5,1116.8 L451.5,1117.1 L452.5,1117.6 L453.5,1118.0 L454.5,1118.5 L455.5,1119.0 L456.5,1119.4 L457.5,1119.6 L458.1,1119.7 L458.5,1119.6 L459.5,1119.4 L460.5,1119.1 L461.5,1118.6 L462.5,1118.1 L463.5,1117.6 L464.5,1117.2 L465.5,1116.8 L466.5,1116.6 L467.5,1116.5 L468.5,1116.5 L469.5,1116.6 L470.5,1116.9 L471.5,1117.3 L472.5,1117.7 L473.5,1118.2 L474.5,1118.7 L475.5,1119.2 L476.5,1119.5 L477.5,1119.7 L477.6,1119.7 L478.5,1119.6 L479.5,1119.3 L480.5,1118.8 L481.5,1118.3 L482.5,1117.8 L483.5,1117.3 L484.5,1116.9 L485.5,1116.6 L486.5,1116.4 L487.5,1116.4 L488.5,1116.4 L489.5,1116.6 L490.5,1117.0 L491.5,1117.4 L492.5,1117.9 L493.5,1118.4 L494.5,1118.9 L495.5,1119.4 L496.5,1119.7 L497.1,1119.7 L497.5,1119.7 L498.5,1119.5 L499.5,1119.1 L500.5,1118.6 L501.5,1118.0 L502.5,1117.5 L503.5,1117.0 L504.5,1116.7 L505.5,1116.4 L506.5,1116.3 L507.5,1116.3 L508.5,1116.4 L509.5,1116.7 L510.5,1117.1 L511.5,1117.6 L512.5,1118.1 L513.5,1118.7 L514.5,1119.2 L515.5,1119.6 L516.5,1119.7 L516.7,1119.7 L517.5,1119.7 L518.5,1119.3 L519.5,1118.8 L520.5,1118.3 L521.5,1117.7 L522.5,1117.2 L523.5,1116.8 L524.5,1116.4 L525.5,1116.2 L526.5,1116.2 L527.5,1116.2 L528.5,1116.4 L529.5,1116.8 L530.5,1117.2 L531.5,1117.7 L532.5,1118.3 L533.5,1118.9 L534.5,1119.4 L535.5,1119.7 L536.2,1119.8 L536.5,1119.8 L537.5,1119.6 L538.5,1119.1 L539.5,1118.6 L540.5,1118.0 L541.5,1117.4 L542.5,1116.9 L543.5,1116.5 L544.5,1116.2 L545.5,1116.1 L546.5,1116.1 L547.5,1116.2 L548.5,1116.5 L549.5,1116.9 L550.5,1117.4 L551.5,1118.0 L552.5,1118.6 L553.5,1119.1 L554.5,1119.6 L555.5,1119.8 L555.8,1119.8 L556.5,1119.7 L557.5,1119.4 L558.5,1118.9 L559.5,1118.3 L560.5,1117.6 L561.5,1117.1 L562.5,1116.6 L563.5,1116.2 L564.5,1116.0 L565.5,1115.9 L566.5,1116.0 L567.5,1116.2 L568.5,1116.5 L569.5,1117.0 L570.5,1117.6 L571.5,1118.2 L572.5,1118.8 L573.5,1119.4 L574.5,1119.8 L575.3,1119.9 L575.5,1119.8 L576.5,1119.6 L577.5,1119.2 L578.5,1118.6 L579.5,1117.9 L580.5,1117.3 L581.5,1116.7 L582.5,1116.3 L583.5,1116.0 L584.5,1115.8 L585.5,1115.8 L586.5,1115.9 L587.5,1116.2 L588.5,1116.7 L589.5,1117.2 L590.5,1117.8 L591.5,1118.5 L592.5,1119.1 L593.5,1119.6 L594.5,1119.9 L594.8,1119.9 L595.5,1119.8 L596.5,1119.5 L597.5,1118.9 L598.5,1118.2 L599.5,1117.6 L600.5,1116.9 L601.5,1116.4 L602.5,1116.0 L603.5,1115.8 L604.5,1115.7 L605.5,1115.7 L606.5,1115.9 L607.5,1116.3 L608.5,1116.8 L609.5,1117.4 L610.5,1118.1 L611.5,1118.8 L612.5,1119.4 L613.5,1119.8 L614.4,1120.0 L614.5,1119.9 L615.5,1119.7 L616.5,1119.2 L617.5,1118.6 L618.5,1117.9 L619.5,1117.2 L620.5,1116.6 L621.5,1116.1 L622.5,1115.7 L623.5,1115.6 L624.5,1115.5 L625.5,1115.7 L626.5,1116.0 L627.5,1116.4 L628.5,1117.0 L629.5,1117.6 L630.5,1118.4 L631.5,1119.1 L632.5,1119.6 L633.5,1120.0 L633.9,1120.0 L634.5,1119.9 L635.5,1119.5 L636.5,1118.9 L637.5,1118.2 L638.5,1117.5 L639.5,1116.8 L640.5,1116.2 L641.5,1115.8 L642.5,1115.5 L643.5,1115.4 L644.5,1115.4 L645.5,1115.6 L646.5,1116.0 L647.5,1116.5 L648.5,1117.2 L649.5,1117.9 L650.5,1118.7 L651.5,1119.4 L652.5,1119.9 L653.4,1120.1 L653.5,1120.1 L654.5,1119.8 L655.5,1119.3 L656.5,1118.6 L657.5,1117.8 L658.5,1117.0 L659.5,1116.4 L660.5,1115.9 L661.5,1115.5 L662.5,1115.3 L663.5,1115.2 L664.5,1115.3 L665.5,1115.7 L666.5,1116.1 L667.5,1116.7 L668.5,1117.4 L669.5,1118.2 L670.5,1119.0 L671.5,1119.7 L672.5,1120.1 L673.0,1120.1 L673.5,1120.1 L674.5,1119.6 L675.5,1119.0 L676.5,1118.2 L677.5,1117.4 L678.5,1116.6 L679.5,1116.0 L680.5,1115.5 L681.5,1115.2 L682.5,1115.0 L683.5,1115.1 L684.5,1115.3 L685.5,1115.7 L686.5,1116.3 L687.5,1116.9 L688.5,1117.7 L689.5,1118.6 L690.5,1119.3 L691.5,1120.0 L692.5,1120.2 L693.5,1120.0 L694.5,1119.4 L695.5,1118.6 L696.5,1117.7 L697.5,1116.9 L698.5,1116.2 L699.5,1115.6 L700.5,1115.2 L701.5,1114.9 L702.5,1114.8 L703.5,1115.0 L704.5,1115.3 L705.5,1115.8 L706.5,1116.4 L707.5,1117.2 L708.5,1118.1 L709.5,1118.9 L710.5,1119.7 L711.5,1120.2 L712.0,1120.3 L712.5,1120.2 L713.5,1119.8 L714.5,1119.0 L715.5,1118.1 L716.5,1117.2 L717.5,1116.4 L718.5,1115.7 L719.5,1115.2 L720.5,1114.8 L721.5,1114.7 L722.5,1114.7 L723.5,1114.9 L724.5,1115.3 L725.5,1115.9 L726.5,1116.6 L727.5,1117.5 L728.5,1118.4 L729.5,1119.3 L730.5,1120.0 L731.5,1120.3 L731.6,1120.4 L732.5,1120.1 L733.5,1119.4 L734.5,1118.5 L735.5,1117.6 L736.5,1116.7 L737.5,1115.9 L738.5,1115.3 L739.5,1114.8 L740.5,1114.5 L741.5,1114.4 L742.5,1114.6 L743.5,1114.9 L744.5,1115.4 L745.5,1116.1 L746.5,1116.9 L747.5,1117.8 L748.5,1118.8 L749.5,1119.7 L750.5,1120.3 L751.1,1120.4 L751.5,1120.4 L752.5,1119.9 L753.5,1119.0 L754.5,1118.0 L755.5,1117.1 L756.5,1116.2 L757.5,1115.4 L758.5,1114.8 L759.5,1114.4 L760.5,1114.2 L761.5,1114.2 L762.5,1114.5 L763.5,1114.9 L764.5,1115.5 L765.5,1116.3 L766.5,1117.2 L767.5,1118.2 L768.5,1119.2 L769.5,1120.1 L770.5,1120.5 L770.6,1120.5 L771.5,1120.3 L772.5,1119.5 L773.5,1118.5 L774.5,1117.5 L775.5,1116.5 L776.5,1115.6 L777.5,1114.9 L778.5,1114.4 L779.5,1114.0 L780.5,1113.9 L781.5,1114.1 L782.5,1114.4 L783.5,1114.9 L784.5,1115.7 L785.5,1116.6 L786.5,1117.6 L787.5,1118.7 L788.5,1119.7 L789.5,1120.4 L790.2,1120.6 L790.5,1120.6 L791.5,1120.0 L792.5,1119.1 L793.5,1118.0 L794.5,1116.9 L795.5,1115.9 L796.5,1115.0 L797.5,1114.4 L798.5,1113.9 L799.5,1113.7 L800.5,1113.7 L801.5,1113.9 L802.5,1114.4 L803.5,1115.0 L804.5,1115.9 L805.5,1116.9 L806.5,1118.0 L807.5,1119.1 L808.5,1120.1 L809.5,1120.7 L809.7,1120.7 L810.5,1120.5 L811.5,1119.6 L812.5,1118.5 L813.5,1117.3 L814.5,1116.2 L815.5,1115.3 L816.5,1114.5 L817.5,1113.9 L818.5,1113.5 L819.5,1113.4 L820.5,1113.5 L821.5,1113.8 L822.5,1114.4 L823.5,1115.2 L824.5,1116.2 L825.5,1117.3 L826.5,1118.5 L827.5,1119.6 L828.5,1120.6 L829.3,1120.8 L829.5,1120.8 L830.5,1120.2 L831.5,1119.1 L832.5,1117.8 L833.5,1116.6 L834.5,1115.5 L835.5,1114.6 L836.5,1113.9 L837.5,1113.4 L838.5,1113.1 L839.5,1113.1 L840.5,1113.3 L841.5,1113.8 L842.5,1114.5 L843.5,1115.4 L844.5,1116.5 L845.5,1117.7 L846.5,1119.0 L847.5,1120.1 L848.5,1120.9 L848.8,1120.9 L849.5,1120.7 L850.5,1119.7 L851.5,1118.4 L852.5,1117.1 L853.5,1115.9 L854.5,1114.8 L855.5,1113.9 L856.5,1113.3 L857.5,1112.9 L858.5,1112.7 L859.5,1112.8 L860.5,1113.1 L861.5,1113.7 L862.5,1114.6 L863.5,1115.6 L864.5,1116.9 L865.5,1118.2 L866.5,1119.5 L867.5,1120.6 L868.3,1121.0 L868.5,1121.0 L869.5,1120.3 L870.5,1119.1 L871.5,1117.7 L872.5,1116.3 L873.5,1115.1 L874.5,1114.1 L875.5,1113.3 L876.5,1112.7 L877.5,1112.4 L878.5,1112.3 L879.5,1112.5 L880.5,1113.0 L881.5,1113.8 L882.5,1114.8 L883.5,1116.0 L884.5,1117.3 L885.5,1118.7 L886.5,1120.1 L887.5,1121.1 L887.9,1121.2 L888.5,1120.9 L889.5,1119.7 L890.5,1118.3 L891.5,1116.8 L892.5,1115.5 L893.5,1114.3 L894.5,1113.3 L895.5,1112.6 L896.5,1112.1 L897.5,1111.9 L898.5,1112.0 L899.5,1112.3 L900.5,1113.0 L901.5,1113.9 L902.5,1115.0 L903.5,1116.3 L904.5,1117.8 L905.5,1119.3 L906.5,1120.7 L907.4,1121.3 L907.5,1121.3 L908.5,1120.5 L909.5,1119.0 L910.5,1117.4 L911.5,1115.9 L912.5,1114.6 L913.5,1113.4 L914.5,1112.5 L915.5,1111.9 L916.5,1111.5 L917.5,1111.4 L918.5,1111.6 L919.5,1112.1 L920.5,1112.9 L921.5,1114.0 L922.5,1115.3 L923.5,1116.8 L924.5,1118.4 L925.5,1120.0 L926.5,1121.2 L926.9,1121.4 L927.5,1121.1 L928.5,1119.8 L929.5,1118.1 L930.5,1116.5 L931.5,1115.0 L932.5,1113.6 L933.5,1112.5 L934.5,1111.7 L935.5,1111.1 L936.5,1110.9 L937.5,1110.9 L938.5,1111.3 L939.5,1112.0 L940.5,1113.0 L941.5,1114.2 L942.5,1115.7 L943.5,1117.3 L944.5,1119.0 L945.5,1120.7 L946.5,1121.5 L946.5,1121.5 L947.5,1120.6 L948.5,1118.9 L949.5,1117.1 L950.5,1115.5 L951.5,1113.9 L952.5,1112.6 L953.5,1111.6 L954.5,1110.8 L955.5,1110.4 L956.5,1110.3 L957.5,1110.5 L958.5,1111.1 L959.5,1111.9 L960.5,1113.1 L961.5,1114.5 L962.5,1116.1 L963.5,1117.9 L964.5,1119.8 L965.5,1121.3 L966.0,1121.7 L966.5,1121.4 L967.5,1119.8 L968.5,1117.9 L969.5,1116.0 L970.5,1114.3 L971.5,1112.8 L972.5,1111.6 L973.5,1110.6 L974.5,1110.0 L975.5,1109.7 L976.5,1109.7 L977.5,1110.1 L978.5,1110.8 L979.5,1111.9 L980.5,1113.2 L981.5,1114.8 L982.5,1116.7 L983.5,1118.6 L984.5,1120.6 L985.5,1121.8 L985.5,1121.8 L986.5,1120.7 L987.5,1118.8 L988.5,1116.7 L989.5,1114.8 L990.5,1113.1 L991.5,1111.7 L992.5,1110.5 L993.5,1109.6 L994.5,1109.1 L995.5,1108.9 L996.5,1109.1 L997.5,1109.7 L998.5,1110.7 L999.5,1111.9 L1000.5,1113.5 L1001.5,1115.3 L1002.5,1117.3 L1003.5,1119.4 L1004.5,1121.4 L1005.1,1121.9 L1005.5,1121.6 L1006.5,1119.7 L1007.5,1117.6 L1008.5,1115.5 L1009.5,1113.5 L1010.5,1111.8 L1011.5,1110.4 L1012.5,1109.3 L1013.5,1108.5 L1014.5,1108.2 L1015.5,1108.2 L1016.5,1108.6 L1017.5,1109.4 L1018.5,1110.5 L1019.5,1112.0 L1020.5,1113.8 L1021.5,1115.8 L1022.5,1118.0 L1023.5,1120.3 L1024.5,1122.0 L1024.6,1122.0 L1025.5,1120.8 L1026.5,1118.5 L1027.5,1116.2 L1028.5,1114.0 L1029.5,1112.1 L1030.5,1110.4 L1031.5,1109.0 L1032.5,1108.0 L1033.5,1107.4 L1034.5,1107.2 L1035.5,1107.4 L1036.5,1108.0 L1037.5,1109.1 L1038.5,1110.4 L1039.5,1112.2 L1040.5,1114.2 L1041.5,1116.5 L1042.5,1118.9 L1043.5,1121.3 L1044.2,1122.2 L1044.5,1121.9 L1045.5,1119.6 L1046.5,1117.1 L1047.5,1114.7 L1048.5,1112.5 L1049.5,1110.5 L1050.5,1108.9 L1051.5,1107.6 L1052.5,1106.7 L1053.5,1106.3 L1054.5,1106.2 L1055.5,1106.6 L1056.5,1107.5 L1057.5,1108.8 L1058.5,1110.4 L1059.5,1112.4 L1060.5,1114.7 L1061.5,1117.2 L1062.5,1119.9 L1063.5,1122.2 L1063.7,1122.3 L1064.5,1120.8 L1065.5,1118.2 L1066.5,1115.5 L1067.5,1113.0 L1068.5,1110.8 L1069.5,1108.8 L1070.5,1107.2 L1071.5,1106.0 L1072.5,1105.3 L1073.5,1105.0 L1074.5,1105.2 L1075.5,1105.9 L1076.5,1107.0 L1077.5,1108.5 L1078.5,1110.5 L1079.5,1112.8 L1080.5,1115.3 L1081.5,1118.1 L1082.5,1121.0 L1083.2,1122.4 L1083.5,1122.1 L1084.5,1119.4 L1085.5,1116.5 L1086.5,1113.7 L1087.5,1111.1 L1088.5,1108.8 L1089.5,1106.9 L1090.5,1105.4 L1091.5,1104.3 L1092.5,1103.8 L1093.5,1103.7 L1094.5,1104.1 L1095.5,1105.1 L1096.5,1106.5 L1097.5,1108.4 L1098.5,1110.6 L1099.5,1113.2 L1100.5,1116.1 L1101.5,1119.2 L1102.5,1122.2 L1102.8,1122.5 L1103.5,1120.8 L1104.5,1117.7 L1105.5,1114.5 L1106.5,1111.6 L1107.5,1109.0 L1108.5,1106.7 L1109.5,1104.8 L1110.5,1103.4 L1111.5,1102.5 L1112.5,1102.1 L1113.5,1102.3 L1114.5,1103.0 L1115.5,1104.2 L1116.5,1106.0 L1117.5,1108.2 L1118.5,1110.9 L1119.5,1113.8 L1120.5,1117.1 L1121.5,1120.5 L1122.3,1122.6 L1122.5,1122.4 L1123.5,1119.1 L1124.5,1115.6 L1125.5,1112.3 L1126.5,1109.3 L1127.5,1106.6 L1128.5,1104.3 L1129.5,1102.4 L1130.5,1101.1 L1131.5,1100.4 L1132.5,1100.3 L1133.5,1100.7 L1134.5,1101.8 L1135.5,1103.4 L1136.5,1105.5 L1137.5,1108.2 L1138.5,1111.2 L1139.5,1114.6 L1140.5,1118.2 L1141.5,1121.9 L1141.8,1122.8 L1142.5,1120.7 L1143.5,1116.9 L1144.5,1113.2 L1145.5,1109.7 L1146.5,1106.5 L1147.5,1103.8 L1148.5,1101.5 L1149.5,1099.7 L1150.5,1098.6 L1151.5,1098.1 L1152.5,1098.2 L1153.5,1099.0 L1154.5,1100.4 L1155.5,1102.5 L1156.5,1105.1 L1157.5,1108.2 L1158.0,1109.9 L1158.5,1111.7 L1159.0,1113.6 L1159.5,1115.6 L1160.0,1117.6 L1160.5,1119.7 L1161.0,1121.7 L1161.4,1122.9 L1161.5,1122.6 L1162.0,1120.7 L1162.5,1118.5 L1163.0,1116.4 L1163.5,1114.4 L1164.0,1112.3 L1164.5,1110.4 L1165.0,1108.5 L1165.5,1106.6 L1166.0,1104.9 L1166.5,1103.3 L1167.0,1101.8 L1167.5,1100.5 L1168.0,1099.3 L1168.5,1098.2 L1169.0,1097.3 L1169.5,1096.6 L1170.0,1096.0 L1170.5,1095.6 L1171.0,1095.4 L1171.5,1095.4 L1172.0,1095.5 L1172.5,1095.8 L1173.0,1096.4 L1173.5,1097.0 L1174.0,1097.9 L1174.5,1098.9 L1175.0,1100.1 L1175.5,1101.5 L1176.0,1103.0 L1176.5,1104.6 L1177.0,1106.4 L1177.5,1108.3 L1178.0,1110.3 L1178.5,1112.4 L1179.0,1114.5 L1179.5,1116.8 L1180.0,1119.1 L1180.5,1121.4 L1180.9,1123.0 L1181.0,1122.8 L1181.5,1120.5 L1182.0,1118.2 L1182.5,1115.8 L1183.0,1113.5 L1183.5,1111.2 L1184.0,1109.0 L1184.5,1106.9 L1185.0,1104.9 L1185.5,1103.0 L1186.0,1101.2 L1186.5,1099.5 L1187.0,1098.0 L1187.5,1096.6 L1188.0,1095.4 L1188.5,1094.4 L1189.0,1093.5 L1189.5,1092.9 L1190.0,1092.4 L1190.5,1092.1 L1191.0,1092.1 L1191.5,1092.2 L1192.0,1092.5 L1192.5,1093.1 L1193.0,1093.8 L1193.5,1094.8 L1194.0,1095.9 L1194.5,1097.2 L1195.0,1098.7 L1195.5,1100.4 L1196.0,1102.2 L1196.5,1104.2 L1197.0,1106.3 L1197.5,1108.5 L1198.0,1110.8 L1198.5,1113.3 L1199.0,1115.8 L1199.5,1118.4 L1200.0,1121.0 L1200.5,1123.0 L1200.5,1122.9 L1201.0,1120.4 L1201.5,1117.7 L1202.0,1115.1 L1202.5,1112.5 L1203.0,1109.9 L1203.5,1107.4 L1204.0,1105.0 L1204.5,1102.7 L1205.0,1100.5 L1205.5,1098.4 L1206.0,1096.5 L1206.5,1094.8 L1207.0,1093.2 L1207.5,1091.8 L1208.0,1090.6 L1208.5,1089.6 L1209.0,1088.9 L1209.5,1088.3 L1210.0,1088.0 L1210.5,1087.9 L1211.0,1088.0 L1211.5,1088.4 L1212.0,1088.9 L1212.5,1089.8 L1213.0,1090.8 L1213.5,1092.0 L1214.0,1093.5 L1214.5,1095.2 L1215.0,1097.1 L1215.5,1099.1 L1216.0,1101.3 L1216.5,1103.7 L1217.0,1106.2 L1217.5,1108.9 L1218.0,1111.7 L1218.5,1114.5 L1219.0,1117.5 L1219.5,1120.5 L1220.0,1123.1 L1220.0,1123.1 L1220.5,1120.2 L1221.0,1117.1 L1221.5,1114.1 L1222.0,1111.1 L1222.5,1108.1 L1223.0,1105.3 L1223.5,1102.5 L1224.0,1099.8 L1224.5,1097.3 L1225.0,1094.9 L1225.5,1092.7 L1226.0,1090.6 L1226.5,1088.8 L1227.0,1087.2 L1227.5,1085.8 L1228.0,1084.6 L1228.5,1083.7 L1229.0,1083.0 L1229.5,1082.6 L1230.0,1082.4 L1230.5,1082.5 L1231.0,1082.9 L1231.5,1083.5 L1232.0,1084.4 L1232.5,1085.6 L1233.0,1087.0 L1233.5,1088.6 L1234.0,1090.6 L1234.5,1092.7 L1235.0,1095.0 L1235.5,1097.6 L1236.0,1100.3 L1236.5,1103.2 L1237.0,1106.3 L1237.5,1109.5 L1238.0,1112.8 L1238.5,1116.2 L1239.0,1119.7 L1239.5,1123.2 L1239.5,1123.2 L1240.0,1119.9 L1240.5,1116.4 L1241.0,1112.8 L1241.5,1109.3 L1242.0,1105.8 L1242.5,1102.4 L1243.0,1099.1 L1243.5,1096.0 L1244.0,1093.0 L1244.5,1090.1 L1245.0,1087.5 L1245.5,1085.1 L1246.0,1082.8 L1246.5,1080.9 L1247.0,1079.2 L1247.5,1077.7 L1248.0,1076.6 L1248.5,1075.7 L1249.0,1075.2 L1249.5,1074.9 L1250.0,1075.0 L1250.5,1075.4 L1251.0,1076.1 L1251.5,1077.1 L1252.0,1078.4 L1252.5,1080.0 L1253.0,1082.0 L1253.5,1084.2 L1254.0,1086.6 L1254.5,1089.4 L1255.0,1092.4 L1255.5,1095.6 L1256.0,1099.1 L1256.5,1102.7 L1257.0,1106.5 L1257.5,1110.4 L1258.0,1114.5 L1258.5,1118.7 L1259.0,1122.9 L1259.0,1123.3 L1259.5,1119.6 L1260.0,1115.3 L1260.5,1110.9 L1261.0,1106.7 L1261.5,1102.5 L1262.0,1098.4 L1262.5,1094.4 L1263.0,1090.5 L1263.5,1086.8 L1264.0,1083.4 L1264.5,1080.1 L1265.0,1077.1 L1265.5,1074.3 L1266.0,1071.9 L1266.5,1069.7 L1267.0,1067.9 L1267.5,1066.4 L1268.0,1065.3 L1268.5,1064.5 L1269.0,1064.2 L1269.5,1064.1 L1270.0,1064.5 L1270.5,1065.3 L1271.0,1066.4 L1271.5,1068.0 L1272.0,1069.9 L1272.5,1072.2 L1273.0,1074.8 L1273.5,1077.8 L1274.0,1081.1 L1274.5,1084.7 L1275.0,1088.7 L1275.5,1092.9 L1276.0,1097.3 L1276.5,1102.0 L1277.0,1106.9 L1277.5,1112.0 L1278.0,1117.1 L1278.5,1122.4 L1278.6,1123.3 L1279.0,1119.0 L1279.5,1113.6 L1280.0,1108.2 L1280.5,1102.8 L1281.0,1097.5 L1281.5,1092.2 L1282.0,1087.1 L1282.5,1082.2 L1283.0,1077.5 L1283.5,1073.0 L1284.0,1068.8 L1284.5,1064.8 L1285.0,1061.2 L1285.5,1058.0 L1286.0,1055.1 L1286.5,1052.6 L1287.0,1050.6 L1287.5,1049.0 L1287.8,1048.4 L1288.0,1047.9 L1288.2,1047.5 L1288.5,1047.2 L1288.8,1047.1 L1289.0,1047.0 L1289.2,1047.1 L1289.5,1047.4 L1289.8,1047.7 L1290.0,1048.2 L1290.2,1048.8 L1290.5,1049.5 L1290.8,1050.4 L1291.0,1051.3 L1291.2,1052.4 L1291.5,1053.6 L1291.8,1055.0 L1292.0,1056.5 L1292.2,1058.0 L1292.5,1059.8 L1292.8,1061.6 L1293.0,1063.5 L1293.2,1065.6 L1293.5,1067.7 L1293.8,1070.0 L1294.0,1072.3 L1294.2,1074.8 L1294.5,1077.4 L1294.8,1080.1 L1295.0,1082.8 L1295.2,1085.7 L1295.5,1088.6 L1295.8,1091.6 L1296.0,1094.7 L1296.2,1097.9 L1296.5,1101.1 L1296.8,1104.4 L1297.0,1107.7 L1297.2,1111.1 L1297.5,1114.6 L1297.8,1118.1 L1298.0,1121.6 L1298.1,1123.3 L1298.2,1121.6 L1298.5,1118.0 L1298.8,1114.4 L1299.0,1110.8 L1299.2,1107.1 L1299.5,1103.5 L1299.8,1099.8 L1300.0,1096.2 L1300.2,1092.6 L1300.5,1089.0 L1300.8,1085.4 L1301.0,1081.8 L1301.2,1078.3 L1301.5,1074.8 L1301.8,1071.4 L1302.0,1068.0 L1302.2,1064.7 L1302.5,1061.4 L1302.8,1058.2 L1303.0,1055.1 L1303.2,1052.1 L1303.5,1049.1 L1303.8,1046.3 L1304.0,1043.5 L1304.2,1040.9 L1304.5,1038.3 L1304.8,1035.9 L1305.0,1033.6 L1305.2,1031.4 L1305.5,1029.3 L1305.8,1027.4 L1306.0,1025.6 L1306.2,1024.0 L1306.5,1022.5 L1306.8,1021.1 L1307.0,1019.9 L1307.2,1018.9 L1307.5,1018.0 L1307.8,1017.3 L1308.0,1016.7 L1308.2,1016.3 L1308.5,1016.1 L1308.8,1016.1 L1309.0,1016.2 L1309.2,1016.5 L1309.5,1017.0 L1309.8,1017.6 L1310.0,1018.5 L1310.2,1019.5 L1310.5,1020.7 L1310.8,1022.0 L1311.0,1023.6 L1311.2,1025.3 L1311.5,1027.2 L1311.8,1029.3 L1312.0,1031.6 L1312.2,1034.0 L1312.5,1036.6 L1312.8,1039.4 L1313.0,1042.4 L1313.2,1045.5 L1313.5,1048.7 L1313.8,1052.2 L1314.0,1055.8 L1314.2,1059.5 L1314.5,1063.4 L1314.8,1067.5 L1315.0,1071.6 L1315.2,1075.9 L1315.5,1080.4 L1315.8,1084.9 L1316.0,1089.6 L1316.2,1094.4 L1316.5,1099.3 L1316.8,1104.3 L1317.0,1109.4 L1317.2,1114.6 L1317.5,1119.9 L1317.7,1123.3 L1317.8,1121.6 L1318.0,1116.2 L1318.2,1110.7 L1318.5,1105.2 L1318.8,1099.7 L1319.0,1094.1 L1319.2,1088.5 L1319.5,1082.9 L1319.8,1077.2 L1320.0,1071.6 L1320.2,1065.9 L1320.5,1060.3 L1320.8,1054.7 L1321.0,1049.1 L1321.2,1043.6 L1321.5,1038.2 L1321.8,1032.7 L1322.0,1027.4 L1322.2,1022.1 L1322.5,1017.0 L1322.8,1011.9 L1323.0,1006.9 L1323.2,1002.1 L1323.5,997.3 L1323.8,992.7 L1324.0,988.3 L1324.2,984.0 L1324.5,979.8 L1324.8,975.9 L1325.0,972.1 L1325.2,968.5 L1325.5,965.1 L1325.8,961.8 L1326.0,958.8 L1326.2,956.0 L1326.5,953.5 L1326.8,951.2 L1327.0,949.1 L1327.2,947.2 L1327.5,945.6 L1327.8,944.3 L1328.0,943.3 L1328.2,942.5 L1328.5,942.0 L1328.8,941.8 L1329.0,941.8 L1329.2,942.2 L1329.5,942.9 L1329.8,943.8 L1330.0,945.1 L1330.2,946.7 L1330.5,948.6 L1330.8,950.9 L1331.0,953.4 L1331.2,956.3 L1331.5,959.5 L1331.8,963.0 L1332.0,966.9 L1332.2,971.1 L1332.5,975.6 L1332.8,980.5 L1333.0,985.7 L1333.2,991.2 L1333.5,997.0 L1333.8,1003.2 L1334.0,1009.7 L1334.2,1016.5 L1334.5,1023.7 L1334.8,1031.2 L1335.0,1039.0 L1335.2,1047.1 L1335.5,1055.5 L1335.8,1064.2 L1336.0,1073.2 L1336.2,1082.6 L1336.5,1092.2 L1336.8,1102.1 L1337.0,1112.2 L1337.2,1120.6 L1337.2,1122.7 L1337.5,1113.4 L1337.8,1102.4 L1338.0,1091.2 L1338.2,1079.7 L1338.5,1068.0 L1338.8,1056.1 L1339.0,1044.0 L1339.2,1031.6 L1339.5,1019.0 L1339.8,1006.3 L1340.0,993.4 L1340.2,980.3 L1340.5,967.0 L1340.8,953.6 L1341.0,940.0 L1341.2,926.4 L1341.5,912.5 L1341.8,898.6 L1342.0,884.6 L1342.2,870.5 L1342.5,856.4 L1342.8,842.2 L1343.0,827.9 L1343.2,813.6 L1343.5,799.3 L1343.8,784.9 L1344.0,770.6 L1344.2,756.2 L1344.5,741.9 L1344.8,727.6 L1345.0,713.4 L1345.2,699.2 L1345.5,685.1 L1345.8,671.1 L1346.0,657.2 L1346.2,643.3 L1346.5,629.6 L1346.8,616.1 L1347.0,602.6 L1347.2,589.4 L1347.5,576.3 L1347.8,563.3 L1348.0,550.6 L1348.2,538.0 L1348.5,525.7 L1348.8,513.6 L1349.0,501.7 L1349.2,490.0 L1349.5,478.6 L1349.8,467.4 L1350.0,456.5 L1350.2,445.9 L1350.5,435.6 L1350.8,425.5 L1351.0,415.8 L1351.2,406.3 L1351.5,397.2 L1351.8,388.4 L1352.0,380.0 L1352.2,371.8 L1352.5,364.0 L1352.8,356.6 L1353.0,349.5 L1353.2,342.8 L1353.5,336.4 L1353.8,330.4 L1354.0,324.8 L1354.2,319.6 L1354.5,314.7 L1354.8,310.2 L1355.0,306.1 L1355.2,302.4 L1355.5,299.2 L1355.8,296.3 L1356.0,293.8 L1356.2,291.7 L1356.5,290.0 L1356.8,288.7 L1357.0,287.8 L1357.2,287.3 L1357.5,287.2 L1357.8,287.6 L1358.0,288.3 L1358.2,289.5 L1358.5,291.0 L1358.8,293.0 L1359.0,295.3 L1359.2,298.1 L1359.5,301.3 L1359.8,304.8 L1360.0,308.8 L1360.2,313.1 L1360.5,317.8 L1360.8,322.9 L1361.0,328.4 L1361.2,334.3 L1361.5,340.5 L1361.8,347.1 L1362.0,354.1 L1362.2,361.4 L1362.5,369.1 L1362.8,377.1 L1363.0,385.4 L1363.2,394.1 L1363.5,403.1 L1363.8,412.5 L1364.0,422.1 L1364.2,432.0 L1364.5,442.3 L1364.8,452.8 L1365.0,463.6 L1365.2,474.7 L1365.5,486.0 L1365.8,497.6 L1366.0,509.4 L1366.2,521.4 L1366.5,533.7 L1366.8,546.2 L1367.0,558.9 L1367.2,571.7 L1367.5,584.8 L1367.8,598.0 L1368.0,611.4 L1368.2,624.9 L1368.5,638.6 L1368.8,652.3 L1369.0,666.2 L1369.2,680.2 L1369.5,694.3 L1369.8,708.4 L1370.0,722.7 L1370.2,736.9 L1370.5,751.2 L1370.8,765.6 L1371.0,779.9 L1371.2,794.3 L1371.5,808.6 L1371.8,822.9 L1372.0,837.2 L1372.2,851.4 L1372.5,865.6 L1372.8,879.7 L1373.0,893.8 L1373.2,907.7 L1373.5,921.6 L1373.8,935.3 L1374.0,948.9 L1374.2,962.3 L1374.5,975.7 L1374.8,988.8 L1375.0,1001.8 L1375.2,1014.6 L1375.5,1027.2 L1375.8,1039.7 L1376.0,1051.9 L1376.2,1063.9 L1376.5,1075.7 L1376.8,1087.2 L1377.0,1098.5 L1377.2,1109.6 L1377.5,1120.4 L1377.6,1120.5 L1377.8,1115.9 L1378.0,1105.6 L1378.2,1095.6 L1378.5,1085.9 L1378.8,1076.5 L1379.0,1067.3 L1379.2,1058.5 L1379.5,1050.0 L1379.8,1041.8 L1380.0,1033.9 L1380.2,1026.3 L1380.5,1019.0 L1380.8,1012.1 L1381.0,1005.4 L1381.2,999.1 L1381.5,993.2 L1381.8,987.5 L1382.0,982.2 L1382.2,977.3 L1382.5,972.6 L1382.8,968.3 L1383.0,964.3 L1383.2,960.7 L1383.5,957.4 L1383.8,954.4 L1384.0,951.7 L1384.2,949.4 L1384.5,947.4 L1384.8,945.7 L1385.0,944.3 L1385.2,943.2 L1385.5,942.4 L1385.8,941.9 L1386.0,941.8 L1386.2,941.9 L1386.5,942.3 L1386.8,943.0 L1387.0,943.9 L1387.2,945.2 L1387.5,946.6 L1387.8,948.4 L1388.0,950.4 L1388.2,952.6 L1388.5,955.1 L1388.8,957.8 L1389.0,960.8 L1389.2,963.9 L1389.5,967.3 L1389.8,970.8 L1390.0,974.5 L1390.2,978.4 L1390.5,982.5 L1390.8,986.8 L1391.0,991.2 L1391.2,995.7 L1391.5,1000.4 L1391.8,1005.2 L1392.0,1010.2 L1392.2,1015.2 L1392.5,1020.3 L1392.8,1025.6 L1393.0,1030.9 L1393.2,1036.3 L1393.5,1041.7 L1393.8,1047.2 L1394.0,1052.8 L1394.2,1058.4 L1394.5,1064.0 L1394.8,1069.6 L1395.0,1075.2 L1395.2,1080.9 L1395.5,1086.5 L1395.8,1092.1 L1396.0,1097.7 L1396.2,1103.3 L1396.5,1108.8 L1396.8,1114.3 L1397.0,1119.7 L1397.2,1123.4 L1397.2,1121.7 L1397.5,1116.4 L1397.8,1111.2 L1398.0,1106.1 L1398.2,1101.0 L1398.5,1096.1 L1398.8,1091.3 L1399.0,1086.6 L1399.2,1082.0 L1399.5,1077.5 L1399.8,1073.1 L1400.0,1068.9 L1400.2,1064.8 L1400.5,1060.9 L1400.8,1057.1 L1401.0,1053.4 L1401.2,1049.9 L1401.5,1046.6 L1401.8,1043.4 L1402.0,1040.4 L1402.2,1037.6 L1402.5,1034.9 L1402.8,1032.4 L1403.0,1030.1 L1403.2,1027.9 L1403.5,1026.0 L1403.8,1024.2 L1404.0,1022.5 L1404.2,1021.1 L1404.5,1019.9 L1404.8,1018.8 L1405.0,1017.9 L1405.2,1017.2 L1405.5,1016.6 L1405.8,1016.3 L1406.0,1016.1 L1406.2,1016.1 L1406.5,1016.2 L1406.8,1016.6 L1407.0,1017.1 L1407.2,1017.7 L1407.5,1018.6 L1407.8,1019.6 L1408.0,1020.7 L1408.2,1022.0 L1408.5,1023.4 L1408.8,1025.0 L1409.0,1026.8 L1409.2,1028.7 L1409.5,1030.7 L1409.8,1032.8 L1410.0,1035.1 L1410.2,1037.5 L1410.5,1040.0 L1410.8,1042.6 L1411.0,1045.3 L1411.2,1048.1 L1411.5,1051.0 L1411.8,1054.0 L1412.0,1057.1 L1412.2,1060.3 L1412.5,1063.5 L1412.8,1066.8 L1413.0,1070.2 L1413.2,1073.6 L1413.5,1077.1 L1413.8,1080.6 L1414.0,1084.1 L1414.2,1087.7 L1414.5,1091.3 L1414.8,1094.9 L1415.0,1098.6 L1415.2,1102.2 L1415.5,1105.9 L1415.8,1109.5 L1416.0,1113.2 L1416.2,1116.8 L1416.5,1120.4 L1416.7,1123.3 L1416.8,1122.8 L1417.0,1119.3 L1417.2,1115.8 L1417.5,1112.3 L1417.8,1108.9 L1418.0,1105.5 L1418.2,1102.2 L1418.5,1099.0 L1418.8,1095.8 L1419.0,1092.7 L1419.2,1089.6 L1419.5,1086.7 L1419.8,1083.8 L1420.0,1081.0 L1420.2,1078.3 L1420.5,1075.7 L1420.8,1073.2 L1421.0,1070.8 L1421.2,1068.5 L1421.5,1066.3 L1421.8,1064.2 L1422.0,1062.2 L1422.2,1060.4 L1422.5,1058.6 L1422.8,1057.0 L1423.0,1055.5 L1423.2,1054.1 L1423.5,1052.8 L1423.8,1051.7 L1424.0,1050.7 L1424.2,1049.8 L1424.5,1049.0 L1424.8,1048.4 L1425.0,1047.9 L1425.2,1047.5 L1425.5,1047.2 L1425.8,1047.1 L1426.0,1047.0 L1426.2,1047.1 L1426.5,1047.4 L1426.8,1047.7 L1427.0,1048.2 L1427.2,1048.8 L1427.5,1049.5 L1428.0,1051.2 L1428.5,1053.4 L1429.0,1056.0 L1429.5,1059.0 L1430.0,1062.4 L1430.5,1066.1 L1431.0,1070.1 L1431.5,1074.4 L1432.0,1079.0 L1432.5,1083.8 L1433.0,1088.8 L1433.5,1093.9 L1434.0,1099.2 L1434.5,1104.5 L1435.0,1109.9 L1435.5,1115.3 L1436.0,1120.7 L1436.2,1123.3 L1436.5,1120.7 L1437.0,1115.4 L1437.5,1110.3 L1438.0,1105.3 L1438.5,1100.5 L1439.0,1095.9 L1439.5,1091.5 L1440.0,1087.4 L1440.5,1083.5 L1441.0,1080.0 L1441.5,1076.8 L1442.0,1073.9 L1442.5,1071.4 L1443.0,1069.2 L1443.5,1067.4 L1444.0,1066.0 L1444.5,1065.0 L1445.0,1064.4 L1445.5,1064.1 L1446.0,1064.2 L1446.5,1064.8 L1447.0,1065.6 L1447.5,1066.9 L1448.0,1068.5 L1448.5,1070.4 L1449.0,1072.7 L1449.5,1075.2 L1450.0,1078.0 L1450.5,1081.1 L1451.0,1084.5 L1451.5,1088.0 L1452.0,1091.7 L1452.5,1095.6 L1453.0,1099.7 L1453.5,1103.8 L1454.0,1108.1 L1454.5,1112.3 L1455.0,1116.7 L1455.5,1121.0 L1455.8,1123.3 L1456.0,1121.5 L1456.5,1117.3 L1457.0,1113.2 L1457.5,1109.1 L1458.0,1105.2 L1458.5,1101.5 L1459.0,1097.9 L1459.5,1094.5 L1460.0,1091.4 L1460.5,1088.5 L1461.0,1085.8 L1461.5,1083.4 L1462.0,1081.3 L1462.5,1079.5 L1463.0,1077.9 L1463.5,1076.7 L1464.0,1075.8 L1464.5,1075.2 L1465.0,1074.9 L1465.5,1075.0 L1466.0,1075.3 L1466.5,1076.0 L1467.0,1076.9 L1467.5,1078.2 L1468.0,1079.7 L1468.5,1081.5 L1469.0,1083.5 L1469.5,1085.8 L1470.0,1088.3 L1470.5,1091.0 L1471.0,1093.9 L1471.5,1097.0 L1472.0,1100.2 L1472.5,1103.5 L1473.0,1106.9 L1473.5,1110.4 L1474.0,1113.9 L1474.5,1117.5 L1475.0,1121.1 L1475.3,1123.2 L1475.5,1122.1 L1476.0,1118.6 L1476.5,1115.1 L1477.0,1111.7 L1477.5,1108.4 L1478.0,1105.3 L1478.5,1102.3 L1479.0,1099.4 L1479.5,1096.7 L1480.0,1094.2 L1480.5,1092.0 L1481.0,1089.9 L1481.5,1088.1 L1482.0,1086.5 L1482.5,1085.2 L1483.0,1084.1 L1483.5,1083.3 L1484.0,1082.7 L1484.5,1082.4 L1485.0,1082.4 L1485.5,1082.7 L1486.0,1083.2 L1486.5,1083.9 L1487.0,1085.0 L1487.5,1086.2 L1488.0,1087.7 L1488.5,1089.4 L1489.0,1091.3 L1489.5,1093.4 L1490.0,1095.6 L1490.5,1098.1 L1491.0,1100.7 L1491.5,1103.4 L1492.0,1106.2 L1492.5,1109.1 L1493.0,1112.1 L1493.5,1115.1 L1494.0,1118.1 L1494.5,1121.2 L1494.9,1123.1 L1495.0,1122.5 L1495.5,1119.5 L1496.0,1116.5 L1496.5,1113.6 L1497.0,1110.7 L1497.5,1108.0 L1498.0,1105.4 L1498.5,1102.9 L1499.0,1100.6 L1499.5,1098.4 L1500.0,1096.4 L1500.5,1094.6 L1501.0,1093.0 L1501.5,1091.6 L1502.0,1090.4 L1502.5,1089.5 L1503.0,1088.7 L1503.5,1088.2 L1504.0,1087.9 L1504.5,1087.9 L1505.0,1088.1 L1505.5,1088.5 L1506.0,1089.1 L1506.5,1089.9 L1507.0,1091.0 L1507.5,1092.2 L1508.0,1093.7 L1508.5,1095.3 L1509.0,1097.1 L1509.5,1099.1 L1510.0,1101.2 L1510.5,1103.4 L1511.0,1105.8 L1511.5,1108.2 L1512.0,1110.7 L1512.5,1113.3 L1513.0,1115.9 L1513.5,1118.6 L1514.0,1121.3 L1514.4,1123.0 L1514.5,1122.7 L1515.0,1120.1 L1515.5,1117.5 L1516.0,1115.0 L1516.5,1112.5 L1517.0,1110.1 L1517.5,1107.8 L1518.0,1105.6 L1518.5,1103.5 L1519.0,1101.6 L1519.5,1099.8 L1520.0,1098.2 L1520.5,1096.8 L1521.0,1095.5 L1521.5,1094.4 L1522.0,1093.6 L1522.5,1092.9 L1523.0,1092.4 L1523.5,1092.1 L1524.0,1092.1 L1524.5,1092.2 L1525.0,1092.5 L1525.5,1093.1 L1526.0,1093.8 L1526.5,1094.7 L1527.0,1095.8 L1527.5,1097.0 L1528.0,1098.4 L1528.5,1100.0 L1529.0,1101.7 L1529.5,1103.6 L1530.0,1105.5 L1530.5,1107.6 L1531.0,1109.7 L1531.5,1112.0 L1532.0,1114.3 L1532.5,1116.6 L1533.0,1119.0 L1533.5,1121.3 L1533.9,1123.0 L1534.0,1122.8 L1534.5,1120.7 L1535.0,1118.3 L1535.5,1116.1 L1536.0,1113.8 L1536.5,1111.7 L1537.0,1109.6 L1537.5,1107.6 L1538.0,1105.8 L1538.5,1104.1 L1539.0,1102.5 L1539.5,1101.0 L1540.0,1099.7 L1540.5,1098.6 L1541.0,1097.6 L1541.5,1096.8 L1542.0,1096.2 L1542.5,1095.7 L1543.0,1095.4 L1543.5,1095.4 L1544.0,1095.5 L1544.5,1095.7 L1545.0,1096.2 L1545.5,1096.8 L1546.0,1097.6 L1546.5,1098.6 L1547.0,1099.7 L1547.5,1100.9 L1548.0,1102.3 L1548.5,1103.8 L1549.0,1105.5 L1549.5,1107.2 L1550.0,1109.1 L1550.5,1111.0 L1551.0,1113.0 L1551.5,1115.0 L1552.0,1117.1 L1552.5,1119.2 L1553.0,1121.3 L1553.5,1122.9 L1553.5,1122.8 L1554.0,1121.1 L1554.5,1119.0 L1555.0,1116.9 L1555.5,1114.9 L1556.0,1113.0 L1556.5,1111.1 L1557.0,1109.3 L1557.5,1107.6 L1558.5,1104.6 L1559.5,1102.1 L1560.5,1100.1 L1561.5,1098.8 L1562.5,1098.1 L1563.5,1098.1 L1564.5,1098.7 L1565.5,1100.0 L1566.5,1101.8 L1567.5,1104.2 L1568.5,1107.0 L1569.5,1110.3 L1570.5,1113.8 L1571.5,1117.5 L1572.5,1121.3 L1573.0,1122.8 L1573.5,1121.4 L1574.5,1117.6 L1575.5,1114.0 L1576.5,1110.7 L1577.5,1107.7 L1578.5,1105.1 L1579.5,1103.1 L1580.5,1101.5 L1581.5,1100.6 L1582.5,1100.2 L1583.5,1100.5 L1584.5,1101.3 L1585.5,1102.7 L1586.5,1104.6 L1587.5,1107.0 L1588.5,1109.7 L1589.5,1112.8 L1590.5,1116.2 L1591.5,1119.6 L1592.5,1122.6 L1592.5,1122.6 L1593.5,1119.9 L1594.5,1116.5 L1595.5,1113.3 L1596.5,1110.4 L1597.5,1107.8 L1598.5,1105.7 L1599.5,1104.0 L1600.5,1102.8 L1601.5,1102.2 L1602.5,1102.1 L1603.5,1102.6 L1604.5,1103.6 L1605.5,1105.1 L1606.5,1107.0 L1607.5,1109.4 L1608.5,1112.1 L1609.5,1115.0 L1610.5,1118.2 L1611.5,1121.3 L1612.1,1122.5 L1612.5,1121.8 L1613.5,1118.7 L1614.5,1115.6 L1615.5,1112.8 L1616.5,1110.2 L1617.5,1108.0 L1618.5,1106.2 L1619.5,1104.9 L1620.5,1104.0 L1621.5,1103.7 L1622.5,1103.8 L1623.5,1104.5 L1624.5,1105.6 L1625.5,1107.2 L1626.5,1109.2 L1627.5,1111.5 L1628.5,1114.1 L1629.5,1117.0 L1630.5,1119.9 L1631.5,1122.4 L1631.6,1122.4 L1632.5,1120.5 L1633.5,1117.7 L1634.5,1114.9 L1635.5,1112.4 L1636.5,1110.1 L1637.5,1108.3 L1638.5,1106.8 L1639.5,1105.7 L1640.5,1105.1 L1641.5,1105.0 L1642.5,1105.4 L1643.5,1106.2 L1644.5,1107.4 L1645.5,1109.1 L1646.5,1111.1 L1647.5,1113.4 L1648.5,1115.9 L1649.5,1118.6 L1650.5,1121.3 L1651.2,1122.3 L1651.5,1121.9 L1652.5,1119.4 L1653.5,1116.8 L1654.5,1114.3 L1655.5,1112.1 L1656.5,1110.1 L1657.5,1108.5 L1658.5,1107.3 L1659.5,1106.6 L1660.5,1106.2 L1661.5,1106.3 L1662.5,1106.8 L1663.5,1107.8 L1664.5,1109.1 L1665.5,1110.8 L1666.5,1112.8 L1667.5,1115.1 L1668.5,1117.5 L1669.5,1120.0 L1670.5,1122.1 L1670.7,1122.2 L1671.5,1120.9 L1672.5,1118.5 L1673.5,1116.1 L1674.5,1113.8 L1675.5,1111.9 L1676.5,1110.2 L1677.5,1108.9 L1678.5,1107.9 L1679.5,1107.4 L1680.5,1107.2 L1681.5,1107.5 L1682.5,1108.2 L1683.5,1109.2 L1684.5,1110.7 L1685.5,1112.4 L1686.5,1114.4 L1687.5,1116.6 L1688.5,1118.9 L1689.5,1121.1 L1690.2,1122.0 L1690.5,1121.9 L1691.5,1119.9 L1692.5,1117.7 L1693.5,1115.5 L1694.5,1113.5 L1695.5,1111.7 L1696.5,1110.3 L1697.5,1109.2 L1698.5,1108.5 L1699.5,1108.1 L1700.5,1108.2 L1701.5,1108.6 L1702.5,1109.4 L1703.5,1110.6 L1704.5,1112.1 L1705.5,1113.8 L1706.5,1115.8 L1707.5,1117.9 L1708.5,1120.1 L1709.5,1121.8 L1709.8,1121.9 L1710.5,1121.1 L1711.5,1119.1 L1712.5,1117.0 L1713.5,1115.0 L1714.5,1113.2 L1715.5,1111.7 L1716.5,1110.5 L1717.5,1109.6 L1718.5,1109.1 L1719.5,1108.9 L1720.5,1109.1 L1721.5,1109.7 L1722.5,1110.6 L1723.5,1111.9 L1724.5,1113.4 L1725.5,1115.1 L1726.5,1117.1 L1727.5,1119.1 L1728.5,1121.0 L1729.3,1121.8 L1729.5,1121.7 L1730.5,1120.2 L1731.5,1118.3 L1732.5,1116.4 L1733.5,1114.6 L1734.5,1113.0 L1735.5,1111.7 L1736.5,1110.7 L1737.5,1110.0 L1738.5,1109.7 L1739.5,1109.7 L1740.5,1110.1 L1741.5,1110.8 L1742.5,1111.8 L1743.5,1113.1 L1744.5,1114.6 L1745.5,1116.3 L1746.5,1118.2 L1747.5,1120.1 L1748.5,1121.5 L1748.8,1121.7 L1749.5,1121.1 L1750.5,1119.5 L1751.5,1117.6 L1752.5,1115.8 L1753.5,1114.2 L1754.5,1112.9 L1755.5,1111.8 L1756.5,1111.0 L1757.5,1110.5 L1758.5,1110.3 L1759.5,1110.5 L1760.5,1110.9 L1761.5,1111.7 L1762.5,1112.8 L1763.5,1114.2 L1764.5,1115.7 L1765.5,1117.4 L1766.5,1119.2 L1767.5,1120.8 L1768.4,1121.5 L1768.5,1121.5 L1769.5,1120.4 L1770.5,1118.8 L1771.5,1117.0 L1772.5,1115.4 L1773.5,1114.0 L1774.5,1112.8 L1775.5,1111.9 L1776.5,1111.2 L1777.5,1110.9 L1778.5,1110.9 L1779.5,1111.2 L1780.5,1111.8 L1781.5,1112.7 L1782.5,1113.8 L1783.5,1115.2 L1784.5,1116.8 L1785.5,1118.4 L1786.5,1120.0 L1787.5,1121.3 L1787.9,1121.4 L1788.5,1121.1 L1789.5,1119.7 L1790.5,1118.1 L1791.5,1116.5 L1792.5,1115.1 L1793.5,1113.8 L1794.5,1112.8 L1795.5,1112.0 L1796.5,1111.6 L1797.5,1111.4 L1798.5,1111.5 L1799.5,1111.9 L1800.5,1112.6 L1801.5,1113.6 L1802.5,1114.8 L1803.5,1116.2 L1804.5,1117.7 L1805.5,1119.3 L1806.5,1120.7 L1807.4,1121.3 L1807.5,1121.3 L1808.5,1120.5 L1809.5,1119.1 L1810.5,1117.6 L1811.5,1116.1 L1812.5,1114.8 L1813.5,1113.7 L1814.5,1112.8 L1815.5,1112.2 L1816.5,1111.9 L1817.5,1111.9 L1818.5,1112.1 L1819.5,1112.7 L1820.5,1113.5 L1821.5,1114.5 L1822.5,1115.7 L1823.5,1117.1 L1824.5,1118.5 L1825.5,1120.0 L1826.5,1121.0 L1827.0,1121.2 L1827.5,1121.0 L1828.5,1119.9 L1829.5,1118.5 L1830.5,1117.1 L1831.5,1115.7 L1832.5,1114.6 L1833.5,1113.6 L1834.5,1112.9 L1835.5,1112.5 L1836.5,1112.3 L1837.5,1112.4 L1838.5,1112.8 L1839.5,1113.4 L1840.5,1114.2 L1841.5,1115.3 L1842.5,1116.5 L1843.5,1117.9 L1844.5,1119.3 L1845.5,1120.5 L1846.5,1121.0 L1846.5,1121.0 L1847.5,1120.5 L1848.5,1119.3 L1849.5,1118.0 L1850.5,1116.6 L1851.5,1115.5 L1852.5,1114.4 L1853.5,1113.6 L1854.5,1113.1 L1855.5,1112.8 L1856.5,1112.7 L1857.5,1112.9 L1858.5,1113.4 L1859.5,1114.1 L1860.5,1115.0 L1861.5,1116.1 L1862.5,1117.3 L1863.5,1118.6 L1864.5,1119.9 L1865.5,1120.8 L1866.0,1120.9 L1866.5,1120.8 L1867.5,1120.0 L1868.5,1118.8 L1869.5,1117.5 L1870.5,1116.3 L1871.5,1115.2 L1872.5,1114.3 L1873.5,1113.7 L1874.5,1113.2 L1875.5,1113.1 L1876.5,1113.1 L1877.5,1113.4 L1878.5,1114.0 L1879.5,1114.7 L1880.5,1115.7 L1881.5,1116.8 L1882.5,1118.0 L1883.5,1119.3 L1884.5,1120.3 L1885.5,1120.8 L1885.6,1120.8 L1886.5,1120.4 L1887.5,1119.4 L1888.5,1118.3 L1889.5,1117.1 L1890.5,1116.0 L1891.5,1115.0 L1892.5,1114.3 L1893.5,1113.8 L1894.5,1113.4 L1895.5,1113.4 L1896.5,1113.5 L1897.5,1114.0 L1898.5,1114.6 L1899.5,1115.4 L1900.5,1116.4 L1901.5,1117.5 L1902.5,1118.7 L1903.5,1119.8 L1904.5,1120.6 L1905.1,1120.7 L1905.5,1120.7 L1906.5,1120.0 L1907.5,1119.0 L1908.5,1117.8 L1909.5,1116.7 L1910.5,1115.7 L1911.5,1114.9 L1912.5,1114.3 L1913.5,1113.9 L1914.5,1113.7 L1915.5,1113.7 L1916.5,1114.0 L1917.5,1114.5 L1918.5,1115.2 L1919.5,1116.0 L1920.5,1117.0 L1921.5,1118.1 L1922.5,1119.2 L1923.5,1120.1 L1924.5,1120.6 L1924.7,1120.6 L1925.5,1120.3 L1926.5,1119.5 L1927.5,1118.5 L1928.5,1117.4 L1929.5,1116.4 L1930.5,1115.5 L1931.5,1114.8 L1932.5,1114.3 L1933.5,1114.0 L1934.5,1113.9 L1935.5,1114.1 L1936.5,1114.4 L1937.5,1115.0 L1938.5,1115.8 L1939.5,1116.6 L1940.5,1117.6 L1941.5,1118.7 L1942.5,1119.7 L1943.5,1120.4 L1944.2,1120.5 L1944.5,1120.5 L1945.5,1120.0 L1946.5,1119.1 L1947.5,1118.1 L1948.5,1117.1 L1949.5,1116.2 L1950.5,1115.4 L1951.5,1114.8 L1952.5,1114.4 L1953.5,1114.2 L1954.5,1114.2 L1955.5,1114.5 L1956.5,1114.9 L1957.5,1115.5 L1958.5,1116.3 L1959.5,1117.2 L1960.5,1118.2 L1961.5,1119.2 L1962.5,1120.0 L1963.5,1120.4 L1963.7,1120.4 L1964.5,1120.2 L1965.5,1119.6 L1966.5,1118.7 L1967.5,1117.7 L1968.5,1116.8 L1969.5,1116.0 L1970.5,1115.3 L1971.5,1114.8 L1972.5,1114.5 L1973.5,1114.4 L1974.5,1114.5 L1975.5,1114.9 L1976.5,1115.4 L1977.5,1116.0 L1978.5,1116.8 L1979.5,1117.8 L1980.5,1118.7 L1981.5,1119.6 L1982.5,1120.2 L1983.3,1120.4 L1983.5,1120.3 L1984.5,1119.9 L1985.5,1119.2 L1986.5,1118.3 L1987.5,1117.4 L1988.5,1116.5 L1989.5,1115.8 L1990.5,1115.2 L1991.5,1114.9 L1992.5,1114.7 L1993.5,1114.7 L1994.5,1114.9 L1995.5,1115.3 L1996.5,1115.8 L1997.5,1116.5 L1998.5,1117.4 L1999.5,1118.3 L2000.5,1119.1 L2001.5,1119.9 L2002.5,1120.2 L2002.8,1120.3 L2003.5,1120.1 L2004.5,1119.6 L2005.5,1118.8 L2006.5,1117.9 L2007.5,1117.1 L2008.5,1116.3 L2009.5,1115.7 L2010.5,1115.2 L2011.5,1114.9 L2012.5,1114.8 L2013.5,1114.9 L2014.5,1115.2 L2015.5,1115.7 L2016.5,1116.3 L2017.5,1117.0 L2018.5,1117.8 L2019.5,1118.7 L2020.5,1119.5 L2021.5,1120.0 L2022.3,1120.2 L2022.5,1120.2 L2023.5,1119.9 L2024.5,1119.2 L2025.5,1118.4 L2026.5,1117.6 L2027.5,1116.8 L2028.5,1116.2 L2029.5,1115.6 L2030.5,1115.3 L2031.5,1115.1 L2032.5,1115.1 L2033.5,1115.2 L2034.5,1115.6 L2035.5,1116.1 L2036.5,1116.7 L2037.5,1117.5 L2038.5,1118.3 L2039.5,1119.1 L2040.5,1119.7 L2041.5,1120.1 L2041.9,1120.1 L2042.5,1120.0 L2043.5,1119.6 L2044.5,1118.9 L2045.5,1118.1 L2046.5,1117.3 L2047.5,1116.6 L2048.5,1116.0 L2049.5,1115.6 L2050.5,1115.3 L2051.5,1115.2 L2052.5,1115.3 L2053.5,1115.5 L2054.5,1115.9 L2055.5,1116.5 L2056.5,1117.2 L2057.5,1117.9 L2058.5,1118.7 L2059.5,1119.4 L2060.5,1119.9 L2061.4,1120.1 L2061.5,1120.1 L2062.5,1119.8 L2063.5,1119.3 L2064.5,1118.5 L2065.5,1117.8 L2066.5,1117.1 L2067.5,1116.4 L2068.5,1115.9 L2069.5,1115.6 L2070.5,1115.4 L2071.5,1115.4 L2072.5,1115.5 L2073.5,1115.8 L2074.5,1116.3 L2075.5,1116.9 L2076.5,1117.6 L2077.5,1118.3 L2078.5,1119.0 L2079.5,1119.6 L2080.5,1120.0 L2080.9,1120.0 L2081.5,1119.9 L2082.5,1119.6 L2083.5,1119.0 L2084.5,1118.2 L2085.5,1117.5 L2086.5,1116.9 L2087.5,1116.3 L2088.5,1115.9 L2089.5,1115.6 L2090.5,1115.5 L2091.5,1115.6 L2092.5,1115.8 L2093.5,1116.2 L2094.5,1116.7 L2095.5,1117.3 L2096.5,1118.0 L2097.5,1118.7 L2098.5,1119.3 L2099.5,1119.8 L2100.5,1120.0 L2100.5,1120.0 L2101.5,1119.8 L2102.5,1119.3 L2103.5,1118.7 L2104.5,1118.0 L2105.5,1117.3 L2106.5,1116.7 L2107.5,1116.2 L2108.5,1115.9 L2109.5,1115.7 L2110.5,1115.7 L2111.5,1115.8 L2112.5,1116.1 L2113.5,1116.5 L2114.5,1117.0 L2115.5,1117.7 L2116.5,1118.3 L2117.5,1119.0 L2118.5,1119.5 L2119.5,1119.9 L2120.0,1119.9 L2120.5,1119.9 L2121.5,1119.5 L2122.5,1119.0 L2123.5,1118.4 L2124.5,1117.7 L2125.5,1117.1 L2126.5,1116.6 L2127.5,1116.2 L2128.5,1115.9 L2129.5,1115.8 L2130.5,1115.8 L2131.5,1116.0 L2132.5,1116.4 L2133.5,1116.8 L2134.5,1117.4 L2135.5,1118.0 L2136.5,1118.7 L2137.5,1119.3 L2138.5,1119.7 L2139.5,1119.9 L2139.6,1119.9 L2140.5,1119.7 L2141.5,1119.3 L2142.5,1118.7 L2143.5,1118.1 L2144.5,1117.5 L2145.5,1116.9 L2146.5,1116.5 L2147.5,1116.2 L2148.5,1116.0 L2149.5,1115.9 L2150.5,1116.0 L2151.5,1116.3 L2152.5,1116.7 L2153.5,1117.2 L2154.5,1117.7 L2155.5,1118.4 L2156.5,1119.0 L2157.5,1119.5 L2158.5,1119.8 L2159.1,1119.8 L2159.5,1119.8 L2160.5,1119.5 L2161.5,1119.1 L2162.5,1118.5 L2163.5,1117.9 L2164.5,1117.3 L2165.5,1116.8 L2166.5,1116.4 L2167.5,1116.2 L2168.5,1116.0 L2169.5,1116.1 L2170.5,1116.2 L2171.5,1116.5 L2172.5,1117.0 L2173.5,1117.5 L2174.5,1118.1 L2175.5,1118.7 L2176.5,1119.2 L2177.5,1119.6 L2178.5,1119.8 L2178.6,1119.8 L2179.5,1119.7 L2180.5,1119.3 L2181.5,1118.8 L2182.5,1118.2 L2183.5,1117.7 L2184.5,1117.1 L2185.5,1116.7 L2186.5,1116.4 L2187.5,1116.2 L2188.5,1116.2 L2189.5,1116.2 L2190.5,1116.5 L2191.5,1116.8 L2192.5,1117.3 L2193.5,1117.8 L2194.5,1118.4 L2195.5,1118.9 L2196.5,1119.4 L2197.5,1119.7 L2198.2,1119.7 L2198.5,1119.7 L2199.5,1119.5 L2200.5,1119.1 L2201.5,1118.6 L2202.5,1118.0 L2203.5,1117.5 L2204.5,1117.0 L2205.5,1116.6 L2206.5,1116.4 L2207.5,1116.3 L2208.5,1116.3 L2209.5,1116.4 L2210.5,1116.7 L2211.5,1117.1 L2212.5,1117.6 L2213.5,1118.1 L2214.5,1118.7 L2215.5,1119.2 L2216.5,1119.5 L2217.5,1119.7 L2217.7,1119.7 L2218.5,1119.6 L2219.5,1119.3 L2220.5,1118.9 L2221.5,1118.3 L2222.5,1117.8 L2223.5,1117.3 L2224.5,1116.9 L2225.5,1116.6 L2226.5,1116.4 L2227.5,1116.4 L2228.5,1116.4 L2229.5,1116.6 L2230.5,1117.0 L2231.5,1117.4 L2232.5,1117.9 L2233.5,1118.4 L2234.5,1118.9 L2235.5,1119.3 L2236.5,1119.6 L2237.2,1119.7 L2237.5,1119.7 L2238.5,1119.5 L2239.5,1119.1 L2240.5,1118.6 L2241.5,1118.1 L2242.5,1117.6 L2243.5,1117.2 L2244.5,1116.8 L2245.5,1116.6 L2246.5,1116.5 L2247.5,1116.5 L2248.5,1116.6 L2249.5,1116.9 L2250.5,1117.2 L2251.5,1117.7 L2252.5,1118.2 L2253.5,1118.7 L2254.5,1119.1 L2255.5,1119.5 L2256.5,1119.7 L2256.8,1119.7 L2257.5,1119.6 L2258.5,1119.3 L2259.5,1118.9 L2260.5,1118.4 L2261.5,1117.9 L2262.5,1117.5 L2263.5,1117.1 L2264.5,1116.8 L2265.5,1116.6 L2266.5,1116.6 L2267.5,1116.6 L2268.5,1116.8 L2269.5,1117.1 L2270.5,1117.5 L2271.5,1117.9 L2272.5,1118.4 L2273.5,1118.9 L2274.5,1119.3 L2275.5,1119.6 L2276.3,1119.6 L2276.5,1119.6 L2277.5,1119.5 L2278.5,1119.2 L2279.5,1118.7 L2280.5,1118.2 L2281.5,1117.8 L2282.5,1117.4 L2283.5,1117.0 L2284.5,1116.8 L2285.5,1116.7 L2286.5,1116.7 L2287.5,1116.8 L2288.5,1117.0 L2289.5,1117.3 L2290.5,1117.7 L2291.5,1118.2 L2292.5,1118.7 L2293.5,1119.1 L2294.5,1119.4 L2295.5,1119.6 L2295.8,1119.6 L2296.5,1119.6 L2297.5,1119.3 L2298.5,1119.0 L2299.5,1118.5 L2300.5,1118.1 L2301.5,1117.6 L2302.5,1117.3 L2303.5,1117.0 L2304.5,1116.8 L2305.5,1116.7 L2306.5,1116.8 L2307.5,1116.9 L2308.5,1117.2 L2309.5,1117.6 L2310.5,1118.0 L2311.5,1118.4 L2312.5,1118.9 L2313.5,1119.3 L2314.5,1119.5 L2315.4,1119.6 L2315.5,1119.6 L2316.5,1119.5 L2317.5,1119.2 L2318.5,1118.8 L2319.5,1118.3 L2320.5,1117.9 L2321.5,1117.5 L2322.5,1117.2 L2323.5,1117.0 L2324.5,1116.8 L2325.5,1116.8 L2326.5,1116.9 L2327.5,1117.1 L2328.5,1117.4 L2329.5,1117.8 L2330.5,1118.2 L2331.5,1118.7 L2332.5,1119.1 L2333.5,1119.4 L2334.5,1119.6 L2334.9,1119.6 L2335.5,1119.6 L2336.5,1119.4 L2337.5,1119.0 L2338.5,1118.6 L2339.5,1118.2 L2340.5,1117.8 L2341.5,1117.4 L2342.5,1117.1 L2343.5,1117.0 L2344.5,1116.9 L2345.5,1116.9 L2346.5,1117.1 L2347.5,1117.3 L2348.5,1117.7 L2349.5,1118.0 L2350.5,1118.5 L2351.5,1118.9 L2352.5,1119.2 L2353.5,1119.5 L2354.4,1119.6 L2354.5,1119.6 L2355.5,1119.5" stroke="#00f" stroke-width="7.2"/>
</g>
<rect x="395.5" y="117.3" width="1960.0" height="1006.1000000000001" fill="none" stroke="#000" stroke-width="5"/>
<rect x="1406.5" y="121.0" width="944.5" height="229.7" fill="#fff" stroke="#000" stroke-width="5"/>
<path d="M1417,198.2 H1471.5" stroke="#f00" stroke-width="7.2"/>
<path d="M1417,310.2 H1471.5" stroke="#00f" stroke-width="7.2"/>
<text transform="translate(1492.00,185.60)" font-size="63.3">the distance when there are10</text>
<text transform="translate(1492.00,258.80)" font-size="63.3">erroneous sampling points</text>
<text transform="translate(1492.00,334.70)" font-size="63.3">the ideal distance</text>
<text transform="translate(557.16,1174.60) scale(1.0000,1.0450)" font-size="52.3" text-anchor="middle">4300</text>
<text transform="translate(753.11,1174.60) scale(1.0000,1.0450)" font-size="52.3" text-anchor="middle">4350</text>
<text transform="translate(949.06,1174.60) scale(1.0000,1.0450)" font-size="52.3" text-anchor="middle">4400</text>
<text transform="translate(1145.01,1174.60) scale(1.0000,1.0450)" font-size="52.3" text-anchor="middle">4450</text>
<text transform="translate(1340.96,1174.60) scale(1.0000,1.0450)" font-size="52.3" text-anchor="middle">4500</text>
<text transform="translate(1536.91,1174.60) scale(1.0000,1.0450)" font-size="52.3" text-anchor="middle">4550</text>
<text transform="translate(1732.86,1174.60) scale(1.0000,1.0450)" font-size="52.3" text-anchor="middle">4600</text>
<text transform="translate(1928.81,1174.60) scale(1.0000,1.0450)" font-size="52.3" text-anchor="middle">4650</text>
<text transform="translate(2124.76,1174.60) scale(1.0000,1.0450)" font-size="52.3" text-anchor="middle">4700</text>
<text transform="translate(2320.71,1174.60) scale(1.0000,1.0450)" font-size="52.3" text-anchor="middle">4750</text>
<text transform="translate(390.20,1141.00) scale(1.0000,1.0450)" font-size="52.3" text-anchor="end">0</text>
<text transform="translate(390.20,889.48) scale(1.0000,1.0450)" font-size="52.3" text-anchor="end">179.8802</text>
<text transform="translate(390.20,637.95) scale(1.0000,1.0450)" font-size="52.3" text-anchor="end">359.7605</text>
<text transform="translate(390.20,386.43) scale(1.0000,1.0450)" font-size="52.3" text-anchor="end">539.6407</text>
<text transform="translate(385.20,134.90) scale(1.0000,1.0450)" font-size="52.3" text-anchor="end">719.521</text>
<text transform="translate(1342.50,102.50) scale(0.9200,1.0000)" font-size="92" text-anchor="middle">a</text>
<text transform="translate(1374.30,1238.60)" font-size="71" text-anchor="middle">Measured distance/mm</text>
<text transform="translate(150.40,621.30) rotate(-90)" font-size="71" text-anchor="middle">Amptitude</text>
<text class="cap" transform="translate(1331,1350.8) scale(1.04,1)" text-anchor="middle" font-size="82"><tspan font-size="76.4" dy="-7.1">(</tspan><tspan dy="7.1">a</tspan><tspan font-size="76.4" dy="-7.1">)</tspan></text>
<!-- chart b -->
<clipPath id="clipb"><rect x="363.5" y="1606.5" width="2027.3000000000002" height="1007.1999999999998"/></clipPath>
<path d="M561.5,2610.7 V2590.7 M561.5,1606.5 V1626.5 M764.4,2610.7 V2590.7 M764.4,1606.5 V1626.5 M967.3,2610.7 V2590.7 M967.3,1606.5 V1626.5 M1170.2,2610.7 V2590.7 M1170.2,1606.5 V1626.5 M1373.1,2610.7 V2590.7 M1373.1,1606.5 V1626.5 M1576.0,2610.7 V2590.7 M1576.0,1606.5 V1626.5 M1778.9,2610.7 V2590.7 M1778.9,1606.5 V1626.5 M1981.8,2610.7 V2590.7 M1981.8,1606.5 V1626.5 M2184.7,2610.7 V2590.7 M2184.7,1606.5 V1626.5 M2387.6,2610.7 V2590.7 M2387.6,1606.5 V1626.5 M363.5,2359.6 H383.5 M2390.8,2359.6 H2370.8 M363.5,2108.6 H383.5 M2390.8,2108.6 H2370.8 M363.5,1857.5 H383.5 M2390.8,1857.5 H2370.8" stroke="#000" stroke-width="5" fill="none"/>
<g clip-path="url(#clipb)" fill="none" stroke-linejoin="round" stroke-linecap="round">
<path d="M363.5,2594.5 L364.5,2595.0 L365.5,2595.4 L366.5,2595.7 L367.5,2595.9 L368.5,2596.1 L369.5,2596.2 L370.5,2596.3 L371.5,2596.3 L372.5,2596.3 L373.5,2596.3 L374.5,2595.9 L375.5,2595.2 L376.5,2594.2 L377.5,2592.8 L378.5,2591.3 L379.5,2589.5 L380.5,2587.6 L381.5,2585.6 L382.5,2583.6 L383.5,2581.6 L384.5,2579.6 L385.5,2577.8 L386.5,2576.1 L387.5,2574.6 L388.5,2573.3 L389.5,2572.4 L390.5,2571.8 L391.5,2571.7 L392.5,2571.9 L393.5,2572.5 L394.5,2573.4 L395.5,2574.4 L396.5,2575.6 L397.5,2576.8 L398.5,2577.9 L399.5,2578.8 L400.5,2579.6 L401.5,2580.0 L402.5,2580.0 L403.5,2579.1 L404.5,2577.5 L405.5,2575.2 L406.5,2572.4 L407.5,2569.1 L408.5,2565.7 L409.5,2562.0 L410.5,2558.4 L411.5,2554.8 L412.5,2551.5 L413.5,2548.6 L414.5,2546.2 L415.5,2544.4 L416.5,2543.3 L417.5,2543.1 L418.5,2543.9 L419.5,2545.5 L420.5,2547.8 L421.5,2550.7 L422.5,2554.1 L423.5,2557.8 L424.5,2561.8 L425.5,2565.8 L426.5,2569.9 L427.5,2573.8 L428.5,2577.4 L429.5,2580.6 L430.5,2583.3 L431.5,2585.3 L432.5,2586.6 L433.5,2587.1 L434.5,2586.5 L435.5,2585.2 L436.5,2583.1 L437.5,2580.6 L438.5,2577.8 L439.5,2574.9 L440.5,2572.0 L441.5,2569.3 L442.5,2566.9 L443.5,2565.1 L444.5,2564.0 L445.5,2563.8 L446.5,2564.2 L447.5,2565.0 L448.5,2566.1 L449.5,2567.4 L450.5,2568.9 L451.5,2570.5 L452.5,2572.2 L453.5,2573.8 L454.5,2575.3 L455.5,2576.6 L456.5,2577.6 L457.5,2578.4 L458.5,2578.7 L459.5,2578.6 L460.5,2578.4 L461.5,2578.1 L462.5,2577.7 L463.5,2577.2 L464.5,2576.7 L465.5,2576.2 L466.5,2575.8 L467.5,2575.4 L468.5,2575.2 L469.5,2575.0 L470.5,2575.1 L471.5,2575.6 L472.5,2576.6 L473.5,2577.8 L474.5,2579.3 L475.5,2580.9 L476.5,2582.7 L477.5,2584.5 L478.5,2586.3 L479.5,2588.0 L480.5,2589.5 L481.5,2590.8 L482.5,2591.8 L483.5,2592.5 L484.5,2592.7 L485.5,2592.5 L486.5,2592.0 L487.5,2591.2 L488.5,2590.4 L489.5,2589.4 L490.5,2588.4 L491.5,2587.5 L492.5,2586.7 L493.5,2586.1 L494.5,2585.7 L495.5,2585.7 L496.5,2586.5 L497.5,2587.9 L498.5,2589.8 L499.5,2592.0 L500.5,2594.4 L501.5,2596.8 L502.5,2599.1 L503.5,2601.1 L504.5,2602.7 L505.5,2603.6 L506.5,2603.8 L507.5,2603.4 L508.5,2602.3 L509.5,2600.8 L510.5,2598.9 L511.5,2596.8 L512.5,2594.6 L513.5,2592.4 L514.5,2590.3 L515.5,2588.4 L516.5,2586.8 L517.5,2585.7 L518.5,2585.1 L519.5,2585.2 L520.5,2585.5 L521.5,2586.1 L522.5,2586.9 L523.5,2587.8 L524.5,2588.9 L525.5,2589.9 L526.5,2591.0 L527.5,2592.0 L528.5,2592.8 L529.5,2593.5 L530.5,2593.9 L531.5,2594.1 L532.5,2593.9 L533.5,2593.7 L534.5,2593.2 L535.5,2592.7 L536.5,2592.3 L537.5,2591.8 L538.5,2591.5 L539.5,2591.3 L540.5,2591.4 L541.5,2592.1 L542.5,2593.2 L543.5,2594.7 L544.5,2596.5 L545.5,2598.3 L546.5,2600.2 L547.5,2601.9 L548.5,2603.4 L549.5,2604.5 L550.5,2605.2 L551.5,2605.2 L552.5,2604.6 L553.5,2603.4 L554.5,2601.8 L555.5,2600.0 L556.5,2597.9 L557.5,2595.9 L558.5,2593.9 L559.5,2592.2 L560.5,2590.9 L561.5,2590.1 L562.5,2589.9 L563.5,2590.1 L564.5,2590.7 L565.5,2591.4 L566.5,2592.4 L567.5,2593.5 L568.5,2594.7 L569.5,2595.8 L570.5,2596.9 L571.5,2597.9 L572.5,2598.7 L573.5,2599.3 L574.5,2599.6 L575.5,2599.5 L576.5,2598.9 L577.5,2597.7 L578.5,2596.2 L579.5,2594.6 L580.5,2592.9 L581.5,2591.2 L582.5,2589.9 L583.5,2588.9 L584.5,2588.5 L585.5,2588.6 L586.5,2589.0 L587.5,2589.6 L588.5,2590.5 L589.5,2591.5 L590.5,2592.7 L591.5,2594.0 L592.5,2595.3 L593.5,2596.7 L594.5,2598.1 L595.5,2599.4 L596.5,2600.6 L597.5,2601.7 L598.5,2602.6 L599.5,2603.3 L600.5,2603.7 L601.5,2603.9 L602.5,2603.8 L603.5,2603.5 L604.5,2603.1 L605.5,2602.6 L606.5,2601.9 L607.5,2601.2 L608.5,2600.4 L609.5,2599.6 L610.5,2598.8 L611.5,2597.9 L612.5,2597.1 L613.5,2596.3 L614.5,2595.6 L615.5,2594.9 L616.5,2594.4 L617.5,2593.9 L618.5,2593.6 L619.5,2593.5 L620.5,2593.6 L621.5,2593.8 L622.5,2594.2 L623.5,2594.8 L624.5,2595.4 L625.5,2596.0 L626.5,2596.6 L627.5,2597.2 L628.5,2597.7 L629.5,2598.1 L630.5,2598.2 L631.5,2598.1 L632.5,2597.4 L633.5,2596.1 L634.5,2594.3 L635.5,2592.1 L636.5,2589.6 L637.5,2586.9 L638.5,2584.2 L639.5,2581.4 L640.5,2578.6 L641.5,2576.1 L642.5,2573.8 L643.5,2572.0 L644.5,2570.5 L645.5,2569.6 L646.5,2569.4 L647.5,2569.6 L648.5,2570.2 L649.5,2571.0 L650.5,2572.0 L651.5,2573.3 L652.5,2574.7 L653.5,2576.3 L654.5,2578.0 L655.5,2579.7 L656.5,2581.6 L657.5,2583.4 L658.5,2585.2 L659.5,2587.0 L660.5,2588.8 L661.5,2590.4 L662.5,2591.9 L663.5,2593.2 L664.5,2594.3 L665.5,2595.2 L666.5,2595.8 L667.5,2596.5 L668.5,2597.1 L669.5,2597.7 L670.5,2598.3 L671.5,2598.9 L672.5,2599.4 L673.5,2599.9 L674.5,2600.3 L675.5,2600.6 L676.5,2600.9 L677.5,2601.0 L678.5,2601.1 L679.5,2600.8 L680.5,2600.2 L681.5,2599.2 L682.5,2597.9 L683.5,2596.3 L684.5,2594.6 L685.5,2592.7 L686.5,2590.7 L687.5,2588.7 L688.5,2586.8 L689.5,2584.9 L690.5,2583.2 L691.5,2581.6 L692.5,2580.4 L693.5,2579.4 L694.5,2578.8 L695.5,2578.7 L696.5,2578.8 L697.5,2579.2 L698.5,2579.8 L699.5,2580.5 L700.5,2581.2 L701.5,2581.9 L702.5,2582.6 L703.5,2583.1 L704.5,2583.4 L705.5,2583.4 L706.5,2583.0 L707.5,2582.3 L708.5,2581.4 L709.5,2580.2 L710.5,2578.8 L711.5,2577.5 L712.5,2576.1 L713.5,2574.8 L714.5,2573.6 L715.5,2572.6 L716.5,2572.0 L717.5,2571.7 L718.5,2571.8 L719.5,2572.6 L720.5,2573.8 L721.5,2575.3 L722.5,2577.1 L723.5,2578.9 L724.5,2580.8 L725.5,2582.5 L726.5,2583.9 L727.5,2585.0 L728.5,2585.6 L729.5,2585.5 L730.5,2584.7 L731.5,2583.3 L732.5,2581.4 L733.5,2579.2 L734.5,2576.8 L735.5,2574.3 L736.5,2571.8 L737.5,2569.6 L738.5,2567.7 L739.5,2566.3 L740.5,2565.6 L741.5,2565.6 L742.5,2566.8 L743.5,2569.0 L744.5,2572.0 L745.5,2575.5 L746.5,2579.5 L747.5,2583.7 L748.5,2587.8 L749.5,2591.8 L750.5,2595.5 L751.5,2598.5 L752.5,2600.9 L753.5,2602.2 L754.5,2602.4 L755.5,2601.1 L756.5,2598.6 L757.5,2595.2 L758.5,2591.1 L759.5,2586.6 L760.5,2582.0 L761.5,2577.7 L762.5,2573.8 L763.5,2570.8 L764.5,2568.9 L765.5,2568.3 L766.5,2568.5 L767.5,2569.0 L768.5,2569.7 L769.5,2570.4 L770.5,2571.1 L771.5,2571.5 L772.5,2571.6 L773.5,2571.2 L774.5,2570.2 L775.5,2568.7 L776.5,2566.7 L777.5,2564.4 L778.5,2561.8 L779.5,2559.0 L780.5,2556.2 L781.5,2553.4 L782.5,2550.6 L783.5,2548.1 L784.5,2545.8 L785.5,2543.8 L786.5,2542.3 L787.5,2541.3 L788.5,2540.8 L789.5,2541.2 L790.5,2542.4 L791.5,2544.3 L792.5,2546.7 L793.5,2549.6 L794.5,2552.6 L795.5,2555.8 L796.5,2559.0 L797.5,2561.9 L798.5,2564.5 L799.5,2566.6 L800.5,2568.1 L801.5,2568.8 L802.5,2568.6 L803.5,2567.3 L804.5,2565.1 L805.5,2562.3 L806.5,2558.8 L807.5,2554.9 L808.5,2550.8 L809.5,2546.6 L810.5,2542.4 L811.5,2538.4 L812.5,2534.8 L813.5,2531.6 L814.5,2529.2 L815.5,2527.5 L816.5,2526.8 L817.5,2527.1 L818.5,2528.1 L819.5,2529.7 L820.5,2531.9 L821.5,2534.6 L822.5,2537.8 L823.5,2541.4 L824.5,2545.3 L825.5,2549.5 L826.5,2553.8 L827.5,2558.3 L828.5,2562.9 L829.5,2567.6 L830.5,2572.1 L831.5,2576.6 L832.5,2580.9 L833.5,2585.0 L834.5,2588.8 L835.5,2592.2 L836.5,2595.2 L837.5,2597.7 L838.5,2599.7 L839.5,2601.1 L840.5,2601.8 L841.5,2601.8 L842.5,2601.1 L843.5,2599.7 L844.5,2597.8 L845.5,2595.4 L846.5,2592.5 L847.5,2589.4 L848.5,2585.9 L849.5,2582.3 L850.5,2578.6 L851.5,2574.9 L852.5,2571.2 L853.5,2567.7 L854.5,2564.4 L855.5,2561.3 L856.5,2558.7 L857.5,2556.4 L858.5,2554.7 L859.5,2553.6 L860.5,2553.1 L861.5,2553.4 L862.5,2554.6 L863.5,2556.4 L864.5,2558.8 L865.5,2561.7 L866.5,2565.1 L867.5,2568.7 L868.5,2572.6 L869.5,2576.6 L870.5,2580.7 L871.5,2584.7 L872.5,2588.6 L873.5,2592.2 L874.5,2595.4 L875.5,2598.3 L876.5,2600.6 L877.5,2602.3 L878.5,2603.3 L879.5,2603.5 L880.5,2602.9 L881.5,2601.7 L882.5,2599.9 L883.5,2597.6 L884.5,2594.7 L885.5,2591.4 L886.5,2587.8 L887.5,2583.8 L888.5,2579.6 L889.5,2575.2 L890.5,2570.7 L891.5,2566.1 L892.5,2561.4 L893.5,2556.8 L894.5,2552.3 L895.5,2547.9 L896.5,2543.8 L897.5,2539.9 L898.5,2536.3 L899.5,2533.2 L900.5,2530.4 L901.5,2528.2 L902.5,2526.5 L903.5,2525.5 L904.5,2525.1 L905.5,2525.9 L906.5,2528.3 L907.5,2531.9 L908.5,2536.6 L909.5,2542.1 L910.5,2548.1 L911.5,2554.3 L912.5,2560.6 L913.5,2566.6 L914.5,2572.0 L915.5,2576.7 L916.5,2580.3 L917.5,2582.6 L918.5,2583.4 L919.5,2583.1 L920.5,2582.6 L921.5,2581.8 L922.5,2581.0 L923.5,2580.2 L924.5,2579.5 L925.5,2579.0 L926.5,2578.9 L927.5,2580.0 L928.5,2582.3 L929.5,2585.5 L930.5,2589.1 L931.5,2592.8 L932.5,2596.3 L933.5,2599.1 L934.5,2600.9 L935.5,2601.2 L936.5,2599.9 L937.5,2597.0 L938.5,2592.8 L939.5,2587.5 L940.5,2581.3 L941.5,2574.6 L942.5,2567.4 L943.5,2560.1 L944.5,2553.0 L945.5,2546.1 L946.5,2539.9 L947.5,2534.4 L948.5,2530.0 L949.5,2526.9 L950.5,2525.3 L951.5,2525.3 L952.5,2526.3 L953.5,2528.1 L954.5,2530.5 L955.5,2533.5 L956.5,2536.8 L957.5,2540.4 L958.5,2544.1 L959.5,2547.7 L960.5,2551.2 L961.5,2554.4 L962.5,2557.0 L963.5,2559.1 L964.5,2560.5 L965.5,2561.0 L966.5,2560.6 L967.5,2559.8 L968.5,2558.6 L969.5,2557.0 L970.5,2555.4 L971.5,2553.8 L972.5,2552.2 L973.5,2551.0 L974.5,2550.1 L975.5,2549.7 L976.5,2550.3 L977.5,2551.9 L978.5,2554.3 L979.5,2557.3 L980.5,2560.6 L981.5,2563.9 L982.5,2566.9 L983.5,2569.5 L984.5,2571.3 L985.5,2572.1 L986.5,2571.5 L987.5,2568.9 L988.5,2564.7 L989.5,2559.0 L990.5,2552.0 L991.5,2543.9 L992.5,2535.0 L993.5,2525.5 L994.5,2515.5 L995.5,2505.2 L996.5,2494.9 L997.5,2484.7 L998.5,2474.9 L999.5,2465.7 L1000.5,2457.2 L1001.5,2449.7 L1002.5,2443.3 L1003.5,2438.3 L1004.5,2434.9 L1005.5,2433.3 L1006.5,2433.5 L1007.5,2434.7 L1008.5,2436.9 L1009.5,2439.7 L1010.5,2443.3 L1011.5,2447.2 L1012.5,2451.5 L1013.5,2456.0 L1014.5,2460.5 L1015.5,2464.9 L1016.5,2469.1 L1017.5,2472.8 L1018.5,2476.0 L1019.5,2478.6 L1020.5,2480.9 L1021.5,2483.3 L1022.5,2485.7 L1023.5,2488.1 L1024.5,2490.5 L1025.5,2492.8 L1026.5,2495.0 L1027.5,2497.1 L1028.5,2499.1 L1029.5,2500.9 L1030.5,2502.5 L1031.5,2504.0 L1032.5,2505.2 L1033.5,2506.1 L1034.5,2506.8 L1035.5,2507.1 L1036.5,2507.1 L1037.5,2506.4 L1038.5,2505.0 L1039.5,2503.0 L1040.5,2500.6 L1041.5,2498.0 L1042.5,2495.2 L1043.5,2492.3 L1044.5,2489.5 L1045.5,2486.9 L1046.5,2484.7 L1047.5,2483.0 L1048.5,2481.8 L1049.5,2481.4 L1050.5,2481.6 L1051.5,2482.3 L1052.5,2483.4 L1053.5,2484.9 L1054.5,2486.8 L1055.5,2488.9 L1056.5,2491.4 L1057.5,2494.1 L1058.5,2497.1 L1059.5,2500.2 L1060.5,2503.5 L1061.5,2506.9 L1062.5,2510.4 L1063.5,2514.0 L1064.5,2517.8 L1065.5,2523.2 L1066.5,2530.2 L1067.5,2538.5 L1068.5,2547.6 L1069.5,2557.1 L1070.5,2566.6 L1071.5,2575.7 L1072.5,2584.0 L1073.5,2591.1 L1074.5,2596.7 L1075.5,2600.2 L1076.5,2601.3 L1077.5,2600.0 L1078.5,2596.7 L1079.5,2591.6 L1080.5,2585.0 L1081.5,2577.1 L1082.5,2568.3 L1083.5,2558.6 L1084.5,2548.5 L1085.5,2538.2 L1086.5,2527.8 L1087.5,2517.8 L1088.5,2508.2 L1089.5,2499.5 L1090.5,2491.8 L1091.5,2485.3 L1092.5,2480.5 L1093.5,2477.3 L1094.5,2475.0 L1095.5,2473.0 L1096.5,2471.3 L1097.5,2469.8 L1098.5,2468.3 L1099.5,2466.9 L1100.5,2465.4 L1101.5,2463.7 L1102.5,2461.7 L1103.5,2459.3 L1104.5,2456.6 L1105.5,2453.7 L1106.5,2450.5 L1107.5,2447.2 L1108.5,2443.8 L1109.5,2440.5 L1110.5,2437.3 L1111.5,2434.2 L1112.5,2431.3 L1113.5,2428.8 L1114.5,2426.6 L1115.5,2424.9 L1116.5,2423.8 L1117.5,2423.2 L1118.5,2423.5 L1119.5,2425.8 L1120.5,2429.7 L1121.5,2435.2 L1122.5,2441.9 L1123.5,2449.8 L1124.5,2458.5 L1125.5,2467.8 L1126.5,2477.5 L1127.5,2487.5 L1128.5,2497.4 L1129.5,2507.1 L1130.5,2516.3 L1131.5,2524.8 L1132.5,2532.5 L1133.5,2539.0 L1134.5,2544.1 L1135.5,2547.7 L1136.5,2549.6 L1137.5,2549.2 L1138.5,2545.6 L1139.5,2539.2 L1140.5,2530.6 L1141.5,2520.1 L1142.5,2508.2 L1143.5,2495.6 L1144.5,2482.6 L1145.5,2469.7 L1146.5,2457.5 L1147.5,2446.4 L1148.5,2436.9 L1149.5,2429.5 L1150.5,2424.8 L1151.5,2423.1 L1152.5,2424.7 L1153.5,2429.2 L1154.5,2436.2 L1155.5,2445.4 L1156.5,2456.3 L1157.5,2468.7 L1158.5,2482.1 L1159.5,2496.2 L1160.5,2510.7 L1161.5,2525.2 L1162.5,2539.3 L1163.5,2552.6 L1164.5,2564.8 L1165.5,2575.6 L1166.5,2584.6 L1167.5,2591.3 L1168.5,2595.5 L1169.5,2596.8 L1170.5,2595.6 L1171.5,2592.5 L1172.5,2587.5 L1173.5,2580.8 L1174.5,2572.6 L1175.5,2562.9 L1176.5,2551.8 L1177.5,2539.6 L1178.5,2526.3 L1179.5,2512.0 L1180.5,2496.9 L1181.5,2481.1 L1182.5,2464.7 L1183.5,2447.9 L1184.5,2430.7 L1185.5,2413.3 L1186.5,2395.8 L1187.5,2378.3 L1188.5,2361.0 L1189.5,2344.0 L1190.5,2327.4 L1191.5,2311.3 L1192.5,2295.9 L1193.5,2281.3 L1194.5,2267.5 L1195.5,2254.8 L1196.5,2243.2 L1197.5,2233.0 L1198.5,2224.1 L1199.5,2216.7 L1200.5,2211.0 L1201.5,2207.0 L1202.5,2204.9 L1203.5,2205.2 L1204.5,2209.8 L1205.5,2218.6 L1206.5,2231.3 L1207.5,2247.2 L1208.5,2266.0 L1209.5,2287.2 L1210.5,2310.3 L1211.5,2334.8 L1212.5,2360.3 L1213.5,2386.3 L1214.5,2412.2 L1215.5,2437.8 L1216.5,2462.4 L1217.5,2485.6 L1218.5,2507.0 L1219.5,2526.0 L1220.5,2542.3 L1221.5,2555.2 L1222.5,2564.4 L1223.5,2569.4 L1224.5,2569.4 L1225.5,2562.7 L1226.5,2550.7 L1227.5,2535.5 L1228.5,2519.1 L1229.5,2503.5 L1230.5,2490.8 L1231.5,2482.9 L1232.5,2481.6 L1233.5,2483.5 L1234.5,2487.2 L1235.5,2491.9 L1236.5,2497.0 L1237.5,2502.0 L1238.5,2506.0 L1239.5,2508.6 L1240.5,2509.0 L1241.5,2506.7 L1242.5,2501.8 L1243.5,2495.0 L1244.5,2486.8 L1245.5,2477.8 L1246.5,2468.4 L1247.5,2459.4 L1248.5,2451.1 L1249.5,2444.3 L1250.5,2439.3 L1251.5,2436.8 L1252.5,2437.8 L1253.5,2444.2 L1254.5,2454.9 L1255.5,2468.9 L1256.5,2485.3 L1257.5,2502.9 L1258.5,2520.7 L1259.5,2537.6 L1260.5,2552.6 L1261.5,2564.6 L1262.5,2572.6 L1263.5,2575.5 L1264.5,2571.6 L1265.5,2560.7 L1266.5,2544.0 L1267.5,2522.8 L1268.5,2498.4 L1269.5,2472.0 L1270.5,2444.9 L1271.5,2418.4 L1272.5,2393.8 L1273.5,2372.2 L1274.5,2355.1 L1275.5,2343.5 L1276.5,2338.9 L1277.5,2341.1 L1278.5,2347.9 L1279.5,2358.4 L1280.5,2371.5 L1281.5,2386.3 L1282.5,2401.7 L1283.5,2416.8 L1284.5,2430.5 L1285.5,2441.9 L1286.5,2449.9 L1287.5,2453.5 L1288.5,2452.3 L1289.5,2447.3 L1290.5,2439.4 L1291.5,2429.0 L1292.5,2417.1 L1293.5,2404.4 L1294.5,2391.4 L1295.5,2379.1 L1296.5,2368.0 L1297.5,2359.0 L1298.5,2352.6 L1299.5,2349.7 L1300.5,2350.9 L1301.5,2355.9 L1302.5,2363.8 L1303.5,2374.0 L1304.5,2385.6 L1305.5,2397.9 L1306.5,2410.1 L1307.5,2421.4 L1308.5,2431.1 L1309.5,2438.3 L1310.5,2442.3 L1311.5,2442.5 L1312.5,2439.9 L1313.5,2435.1 L1314.5,2428.7 L1315.5,2421.2 L1316.5,2413.3 L1317.5,2405.4 L1318.5,2398.2 L1319.5,2392.1 L1320.5,2387.7 L1321.5,2385.6 L1322.5,2386.7 L1323.5,2391.9 L1324.5,2400.7 L1325.5,2412.5 L1326.5,2426.6 L1327.5,2442.5 L1328.5,2459.6 L1329.5,2477.1 L1330.5,2494.6 L1331.5,2511.5 L1332.5,2527.0 L1333.5,2540.7 L1334.5,2551.8 L1335.5,2559.9 L1336.5,2564.2 L1337.5,2563.6 L1338.5,2555.2 L1339.5,2540.7 L1340.5,2522.4 L1341.5,2502.9 L1342.5,2484.4 L1343.5,2469.5 L1344.5,2460.5 L1345.5,2459.3 L1346.5,2462.1 L1347.5,2467.5 L1348.5,2474.9 L1349.5,2484.0 L1350.5,2494.2 L1351.5,2505.0 L1352.5,2516.0 L1353.5,2526.6 L1354.5,2536.4 L1355.5,2544.9 L1356.5,2551.6 L1357.5,2556.0 L1358.5,2557.6 L1359.5,2557.2 L1360.5,2556.0 L1361.5,2554.0 L1362.5,2551.3 L1363.5,2547.9 L1364.5,2544.0 L1365.5,2539.5 L1366.5,2534.6 L1367.5,2529.3 L1368.5,2523.6 L1369.5,2517.5 L1370.5,2511.3 L1371.5,2504.9 L1372.5,2498.3 L1373.5,2491.6 L1374.5,2485.0 L1375.5,2478.4 L1376.5,2471.8 L1377.5,2465.5 L1378.5,2459.3 L1379.5,2453.5 L1380.5,2447.9 L1381.5,2442.8 L1382.5,2438.1 L1383.5,2433.9 L1384.5,2430.2 L1385.5,2427.2 L1386.5,2424.8 L1387.5,2423.2 L1388.5,2422.4 L1389.5,2422.7 L1390.5,2426.4 L1391.5,2433.2 L1392.5,2442.7 L1393.5,2454.5 L1394.5,2467.9 L1395.5,2482.6 L1396.5,2498.1 L1397.5,2513.8 L1398.5,2529.3 L1399.5,2544.2 L1400.5,2557.8 L1401.5,2569.8 L1402.5,2579.6 L1403.5,2586.8 L1404.5,2590.9 L1405.5,2591.6 L1406.5,2591.1 L1407.5,2590.0 L1408.5,2588.5 L1409.5,2586.5 L1410.5,2584.2 L1411.5,2581.5 L1412.5,2578.7 L1413.5,2575.7 L1414.5,2572.6 L1415.5,2569.4 L1416.5,2566.3 L1417.5,2563.3 L1418.5,2560.5 L1419.5,2557.9 L1420.5,2555.6 L1421.5,2553.6 L1422.5,2552.0 L1423.5,2551.0 L1424.5,2550.5 L1425.5,2550.6 L1426.5,2551.2 L1427.5,2552.4 L1428.5,2554.1 L1429.5,2556.1 L1430.5,2558.4 L1431.5,2561.0 L1432.5,2563.7 L1433.5,2566.6 L1434.5,2569.4 L1435.5,2572.2 L1436.5,2574.9 L1437.5,2577.4 L1438.5,2579.6 L1439.5,2581.5 L1440.5,2583.0 L1441.5,2584.0 L1442.5,2584.5 L1443.5,2584.5 L1444.5,2584.4 L1445.5,2584.2 L1446.5,2584.0 L1447.5,2583.7 L1448.5,2583.5 L1449.5,2583.1 L1450.5,2582.8 L1451.5,2582.5 L1452.5,2582.2 L1453.5,2581.8 L1454.5,2581.6 L1455.5,2581.3 L1456.5,2581.1 L1457.5,2581.0 L1458.5,2580.9 L1459.5,2581.1 L1460.5,2582.2 L1461.5,2584.1 L1462.5,2586.3 L1463.5,2588.5 L1464.5,2590.3 L1465.5,2591.5 L1466.5,2591.6 L1467.5,2591.5 L1468.5,2591.1 L1469.5,2590.5 L1470.5,2589.7 L1471.5,2588.8 L1472.5,2587.8 L1473.5,2586.6 L1474.5,2585.3 L1475.5,2583.8 L1476.5,2582.3 L1477.5,2580.7 L1478.5,2579.0 L1479.5,2577.2 L1480.5,2575.4 L1481.5,2573.6 L1482.5,2571.7 L1483.5,2569.8 L1484.5,2568.0 L1485.5,2566.1 L1486.5,2564.2 L1487.5,2562.4 L1488.5,2560.7 L1489.5,2559.0 L1490.5,2557.4 L1491.5,2555.8 L1492.5,2554.4 L1493.5,2553.0 L1494.5,2551.8 L1495.5,2550.8 L1496.5,2549.8 L1497.5,2549.1 L1498.5,2548.5 L1499.5,2548.1 L1500.5,2547.9 L1501.5,2547.9 L1502.5,2548.0 L1503.5,2548.2 L1504.5,2548.5 L1505.5,2549.0 L1506.5,2549.5 L1507.5,2550.1 L1508.5,2550.8 L1509.5,2551.6 L1510.5,2552.5 L1511.5,2553.4 L1512.5,2554.4 L1513.5,2555.5 L1514.5,2556.6 L1515.5,2557.7 L1516.5,2558.9 L1517.5,2560.2 L1518.5,2561.4 L1519.5,2562.7 L1520.5,2564.0 L1521.5,2565.4 L1522.5,2566.8 L1523.5,2568.8 L1524.5,2571.3 L1525.5,2574.2 L1526.5,2577.5 L1527.5,2580.8 L1528.5,2584.2 L1529.5,2587.4 L1530.5,2590.3 L1531.5,2592.9 L1532.5,2594.9 L1533.5,2596.3 L1534.5,2596.9 L1535.5,2596.2 L1536.5,2594.1 L1537.5,2590.6 L1538.5,2586.0 L1539.5,2580.4 L1540.5,2574.0 L1541.5,2567.1 L1542.5,2559.8 L1543.5,2552.3 L1544.5,2544.9 L1545.5,2537.6 L1546.5,2530.8 L1547.5,2524.5 L1548.5,2519.0 L1549.5,2514.5 L1550.5,2511.1 L1551.5,2509.1 L1552.5,2508.7 L1553.5,2509.6 L1554.5,2511.6 L1555.5,2514.7 L1556.5,2518.6 L1557.5,2523.4 L1558.5,2528.7 L1559.5,2534.5 L1560.5,2540.7 L1561.5,2547.2 L1562.5,2553.7 L1563.5,2560.2 L1564.5,2566.6 L1565.5,2572.7 L1566.5,2578.4 L1567.5,2583.6 L1568.5,2588.1 L1569.5,2591.8 L1570.5,2594.6 L1571.5,2596.3 L1572.5,2596.9 L1573.5,2596.6 L1574.5,2596.0 L1575.5,2595.0 L1576.5,2593.7 L1577.5,2592.2 L1578.5,2590.4 L1579.5,2588.4 L1580.5,2586.2 L1581.5,2583.9 L1582.5,2581.5 L1583.5,2579.1 L1584.5,2576.6 L1585.5,2574.2 L1586.5,2571.9 L1587.5,2569.6 L1588.5,2567.5 L1589.5,2565.6 L1590.5,2563.5 L1591.5,2561.3 L1592.5,2558.9 L1593.5,2556.4 L1594.5,2553.9 L1595.5,2551.3 L1596.5,2548.7 L1597.5,2546.2 L1598.5,2543.8 L1599.5,2541.5 L1600.5,2539.4 L1601.5,2537.5 L1602.5,2535.8 L1603.5,2534.4 L1604.5,2533.4 L1605.5,2532.7 L1606.5,2532.4 L1607.5,2533.1 L1608.5,2535.4 L1609.5,2539.1 L1610.5,2543.9 L1611.5,2549.5 L1612.5,2555.8 L1613.5,2562.4 L1614.5,2569.2 L1615.5,2575.9 L1616.5,2582.2 L1617.5,2587.9 L1618.5,2592.7 L1619.5,2596.5 L1620.5,2598.9 L1621.5,2599.7 L1622.5,2598.5 L1623.5,2595.6 L1624.5,2591.2 L1625.5,2585.7 L1626.5,2579.4 L1627.5,2572.7 L1628.5,2565.9 L1629.5,2559.4 L1630.5,2553.4 L1631.5,2548.4 L1632.5,2544.7 L1633.5,2542.6 L1634.5,2542.4 L1635.5,2543.9 L1636.5,2546.6 L1637.5,2550.5 L1638.5,2555.2 L1639.5,2560.6 L1640.5,2566.3 L1641.5,2572.1 L1642.5,2577.8 L1643.5,2583.2 L1644.5,2588.0 L1645.5,2592.0 L1646.5,2595.0 L1647.5,2596.6 L1648.5,2596.7 L1649.5,2595.5 L1650.5,2593.3 L1651.5,2590.3 L1652.5,2586.7 L1653.5,2582.8 L1654.5,2578.9 L1655.5,2575.2 L1656.5,2572.0 L1657.5,2569.4 L1658.5,2567.9 L1659.5,2567.5 L1660.5,2568.3 L1661.5,2570.0 L1662.5,2572.6 L1663.5,2575.7 L1664.5,2579.3 L1665.5,2583.2 L1666.5,2587.3 L1667.5,2591.3 L1668.5,2595.1 L1669.5,2598.5 L1670.5,2601.4 L1671.5,2603.6 L1672.5,2604.9 L1673.5,2605.2 L1674.5,2604.0 L1675.5,2601.5 L1676.5,2597.8 L1677.5,2593.5 L1678.5,2588.7 L1679.5,2583.7 L1680.5,2579.0 L1681.5,2574.8 L1682.5,2571.4 L1683.5,2569.1 L1684.5,2568.3 L1685.5,2568.4 L1686.5,2568.8 L1687.5,2569.4 L1688.5,2570.1 L1689.5,2570.9 L1690.5,2571.7 L1691.5,2572.5 L1692.5,2573.2 L1693.5,2573.8 L1694.5,2574.3 L1695.5,2574.4 L1696.5,2574.4 L1697.5,2574.1 L1698.5,2573.6 L1699.5,2573.1 L1700.5,2572.4 L1701.5,2571.7 L1702.5,2571.0 L1703.5,2570.3 L1704.5,2569.7 L1705.5,2569.3 L1706.5,2569.0 L1707.5,2568.9 L1708.5,2569.1 L1709.5,2569.8 L1710.5,2570.9 L1711.5,2572.3 L1712.5,2574.0 L1713.5,2575.9 L1714.5,2578.1 L1715.5,2580.4 L1716.5,2582.8 L1717.5,2585.2 L1718.5,2587.7 L1719.5,2590.1 L1720.5,2592.4 L1721.5,2594.6 L1722.5,2596.7 L1723.5,2598.5 L1724.5,2600.0 L1725.5,2601.2 L1726.5,2602.0 L1727.5,2602.4 L1728.5,2602.4 L1729.5,2601.8 L1730.5,2600.8 L1731.5,2599.5 L1732.5,2597.8 L1733.5,2595.9 L1734.5,2593.9 L1735.5,2591.7 L1736.5,2589.4 L1737.5,2587.2 L1738.5,2585.0 L1739.5,2583.0 L1740.5,2581.2 L1741.5,2579.7 L1742.5,2578.4 L1743.5,2577.6 L1744.5,2577.3 L1745.5,2577.4 L1746.5,2577.8 L1747.5,2578.6 L1748.5,2579.7 L1749.5,2581.0 L1750.5,2582.5 L1751.5,2584.1 L1752.5,2586.0 L1753.5,2587.9 L1754.5,2589.8 L1755.5,2591.8 L1756.5,2593.8 L1757.5,2595.8 L1758.5,2597.6 L1759.5,2599.4 L1760.5,2600.9 L1761.5,2602.3 L1762.5,2603.5 L1763.5,2604.4 L1764.5,2605.0 L1765.5,2605.3 L1766.5,2605.0 L1767.5,2604.1 L1768.5,2602.5 L1769.5,2600.4 L1770.5,2597.8 L1771.5,2594.9 L1772.5,2591.8 L1773.5,2588.5 L1774.5,2585.2 L1775.5,2582.0 L1776.5,2578.9 L1777.5,2576.0 L1778.5,2573.6 L1779.5,2571.5 L1780.5,2570.0 L1781.5,2569.1 L1782.5,2568.5 L1783.5,2567.9 L1784.5,2567.4 L1785.5,2567.0 L1786.5,2566.6 L1787.5,2566.2 L1788.5,2565.8 L1789.5,2565.4 L1790.5,2564.9 L1791.5,2564.3 L1792.5,2563.6 L1793.5,2562.7 L1794.5,2561.8 L1795.5,2560.9 L1796.5,2559.9 L1797.5,2558.9 L1798.5,2557.9 L1799.5,2557.0 L1800.5,2556.2 L1801.5,2555.5 L1802.5,2554.9 L1803.5,2554.5 L1804.5,2554.3 L1805.5,2554.4 L1806.5,2554.9 L1807.5,2555.8 L1808.5,2557.1 L1809.5,2558.7 L1810.5,2560.7 L1811.5,2562.9 L1812.5,2565.3 L1813.5,2568.0 L1814.5,2570.7 L1815.5,2573.7 L1816.5,2576.6 L1817.5,2579.7 L1818.5,2582.7 L1819.5,2585.7 L1820.5,2588.6 L1821.5,2591.4 L1822.5,2594.1 L1823.5,2596.5 L1824.5,2598.8 L1825.5,2600.7 L1826.5,2602.4 L1827.5,2603.7 L1828.5,2604.6 L1829.5,2605.2 L1830.5,2605.3 L1831.5,2605.1 L1832.5,2604.7 L1833.5,2604.1 L1834.5,2603.4 L1835.5,2602.5 L1836.5,2601.6 L1837.5,2600.5 L1838.5,2599.4 L1839.5,2598.2 L1840.5,2597.0 L1841.5,2595.8 L1842.5,2594.7 L1843.5,2593.5 L1844.5,2592.4 L1845.5,2591.5 L1846.5,2590.6 L1847.5,2589.8 L1848.5,2589.2 L1849.5,2588.8 L1850.5,2588.5 L1851.5,2588.5 L1852.5,2588.7 L1853.5,2589.1 L1854.5,2589.7 L1855.5,2590.5 L1856.5,2591.4 L1857.5,2592.4 L1858.5,2593.5 L1859.5,2594.6 L1860.5,2595.7 L1861.5,2596.9 L1862.5,2598.0 L1863.5,2599.1 L1864.5,2600.0 L1865.5,2600.8 L1866.5,2601.5 L1867.5,2602.1 L1868.5,2602.4 L1869.5,2602.5 L1870.5,2601.9 L1871.5,2600.6 L1872.5,2598.6 L1873.5,2596.2 L1874.5,2593.3 L1875.5,2590.2 L1876.5,2586.9 L1877.5,2583.6 L1878.5,2580.4 L1879.5,2577.4 L1880.5,2574.8 L1881.5,2572.6 L1882.5,2571.0 L1883.5,2570.2 L1884.5,2569.6 L1885.5,2569.1 L1886.5,2568.7 L1887.5,2568.2 L1888.5,2567.8 L1889.5,2567.5 L1890.5,2567.2 L1891.5,2566.9 L1892.5,2566.6 L1893.5,2566.3 L1894.5,2566.1 L1895.5,2565.9 L1896.5,2565.6 L1897.5,2565.4 L1898.5,2565.2 L1899.5,2565.0 L1900.5,2564.7 L1901.5,2564.5 L1902.5,2564.2 L1903.5,2564.0 L1904.5,2563.7 L1905.5,2563.3 L1906.5,2563.0 L1907.5,2562.6 L1908.5,2562.1 L1909.5,2561.7 L1910.5,2561.2 L1911.5,2560.7 L1912.5,2560.2 L1913.5,2559.6 L1914.5,2559.1 L1915.5,2558.7 L1916.5,2558.2 L1917.5,2557.8 L1918.5,2557.4 L1919.5,2557.0 L1920.5,2556.7 L1921.5,2556.5 L1922.5,2556.3 L1923.5,2556.3 L1924.5,2556.3 L1925.5,2556.8 L1926.5,2557.6 L1927.5,2558.8 L1928.5,2560.4 L1929.5,2562.1 L1930.5,2564.0 L1931.5,2566.1 L1932.5,2568.3 L1933.5,2570.5 L1934.5,2572.6 L1935.5,2574.7 L1936.5,2576.7 L1937.5,2578.5 L1938.5,2580.0 L1939.5,2581.3 L1940.5,2582.2 L1941.5,2582.7 L1942.5,2582.8 L1943.5,2582.5 L1944.5,2581.8 L1945.5,2580.7 L1946.5,2579.3 L1947.5,2577.7 L1948.5,2575.9 L1949.5,2573.9 L1950.5,2571.8 L1951.5,2569.7 L1952.5,2567.5 L1953.5,2565.4 L1954.5,2563.3 L1955.5,2561.4 L1956.5,2559.6 L1957.5,2558.1 L1958.5,2556.7 L1959.5,2555.7 L1960.5,2555.1 L1961.5,2554.8 L1962.5,2555.1 L1963.5,2555.9 L1964.5,2557.2 L1965.5,2559.0 L1966.5,2561.2 L1967.5,2563.7 L1968.5,2566.4 L1969.5,2569.4 L1970.5,2572.5 L1971.5,2575.7 L1972.5,2578.9 L1973.5,2582.1 L1974.5,2585.2 L1975.5,2588.1 L1976.5,2590.8 L1977.5,2593.3 L1978.5,2595.4 L1979.5,2597.1 L1980.5,2598.3 L1981.5,2599.0 L1982.5,2599.1 L1983.5,2598.8 L1984.5,2598.0 L1985.5,2596.8 L1986.5,2595.3 L1987.5,2593.7 L1988.5,2591.9 L1989.5,2590.0 L1990.5,2588.1 L1991.5,2586.3 L1992.5,2584.6 L1993.5,2583.1 L1994.5,2581.9 L1995.5,2581.1 L1996.5,2580.6 L1997.5,2580.7 L1998.5,2581.2 L1999.5,2582.2 L2000.5,2583.5 L2001.5,2585.1 L2002.5,2586.9 L2003.5,2588.8 L2004.5,2590.8 L2005.5,2592.7 L2006.5,2594.6 L2007.5,2596.4 L2008.5,2597.9 L2009.5,2599.1 L2010.5,2600.0 L2011.5,2600.4 L2012.5,2600.4 L2013.5,2600.2 L2014.5,2599.8 L2015.5,2599.3 L2016.5,2598.8 L2017.5,2598.2 L2018.5,2597.7 L2019.5,2597.2 L2020.5,2596.9 L2021.5,2596.6 L2022.5,2596.6 L2023.5,2596.9 L2024.5,2597.4 L2025.5,2598.2 L2026.5,2599.1 L2027.5,2600.0 L2028.5,2600.9 L2029.5,2601.7 L2030.5,2602.4 L2031.5,2602.9 L2032.5,2603.0 L2033.5,2602.8 L2034.5,2602.4 L2035.5,2601.6 L2036.5,2600.6 L2037.5,2599.4 L2038.5,2598.0 L2039.5,2596.4 L2040.5,2594.8 L2041.5,2593.0 L2042.5,2591.3 L2043.5,2589.5 L2044.5,2587.7 L2045.5,2586.0 L2046.5,2584.4 L2047.5,2583.0 L2048.5,2581.6 L2049.5,2580.5 L2050.5,2579.6 L2051.5,2579.0 L2052.5,2578.6 L2053.5,2578.6 L2054.5,2579.2 L2055.5,2580.2 L2056.5,2581.8 L2057.5,2583.6 L2058.5,2585.7 L2059.5,2588.0 L2060.5,2590.3 L2061.5,2592.5 L2062.5,2594.7 L2063.5,2596.7 L2064.5,2598.3 L2065.5,2599.5 L2066.5,2600.3 L2067.5,2600.4 L2068.5,2600.2 L2069.5,2599.5 L2070.5,2598.6 L2071.5,2597.3 L2072.5,2595.8 L2073.5,2594.1 L2074.5,2592.1 L2075.5,2590.0 L2076.5,2587.8 L2077.5,2585.5 L2078.5,2583.1 L2079.5,2580.7 L2080.5,2578.3 L2081.5,2575.9 L2082.5,2573.6 L2083.5,2571.4 L2084.5,2569.3 L2085.5,2567.4 L2086.5,2565.7 L2087.5,2564.2 L2088.5,2562.9 L2089.5,2561.9 L2090.5,2561.3 L2091.5,2561.0 L2092.5,2561.2 L2093.5,2561.9 L2094.5,2563.1 L2095.5,2564.8 L2096.5,2566.8 L2097.5,2569.2 L2098.5,2571.8 L2099.5,2574.5 L2100.5,2577.4 L2101.5,2580.4 L2102.5,2583.3 L2103.5,2586.2 L2104.5,2588.9 L2105.5,2591.5 L2106.5,2593.8 L2107.5,2595.7 L2108.5,2597.3 L2109.5,2598.5 L2110.5,2599.1 L2111.5,2599.1 L2112.5,2598.2 L2113.5,2596.6 L2114.5,2594.4 L2115.5,2591.9 L2116.5,2589.1 L2117.5,2586.4 L2118.5,2583.8 L2119.5,2581.5 L2120.5,2579.8 L2121.5,2578.7 L2122.5,2578.6 L2123.5,2579.1 L2124.5,2580.1 L2125.5,2581.4 L2126.5,2583.0 L2127.5,2584.7 L2128.5,2586.3 L2129.5,2587.8 L2130.5,2589.0 L2131.5,2589.9 L2132.5,2590.1 L2133.5,2589.7 L2134.5,2588.6 L2135.5,2586.9 L2136.5,2584.9 L2137.5,2582.6 L2138.5,2580.2 L2139.5,2577.9 L2140.5,2575.8 L2141.5,2574.0 L2142.5,2572.8 L2143.5,2572.1 L2144.5,2572.3 L2145.5,2573.3 L2146.5,2574.9 L2147.5,2577.0 L2148.5,2579.5 L2149.5,2582.3 L2150.5,2585.3 L2151.5,2588.2 L2152.5,2591.1 L2153.5,2593.7 L2154.5,2595.9 L2155.5,2597.7 L2156.5,2598.8 L2157.5,2599.2 L2158.5,2598.7 L2159.5,2597.5 L2160.5,2595.8 L2161.5,2593.8 L2162.5,2591.8 L2163.5,2589.9 L2164.5,2588.5 L2165.5,2587.7 L2166.5,2587.7 L2167.5,2588.3 L2168.5,2589.4 L2169.5,2590.8 L2170.5,2592.5 L2171.5,2594.2 L2172.5,2596.0 L2173.5,2597.6 L2174.5,2599.0 L2175.5,2600.0 L2176.5,2600.4 L2177.5,2600.3 L2178.5,2599.4 L2179.5,2598.1 L2180.5,2596.3 L2181.5,2594.2 L2182.5,2591.9 L2183.5,2589.5 L2184.5,2587.3 L2185.5,2585.2 L2186.5,2583.4 L2187.5,2582.1 L2188.5,2581.3 L2189.5,2581.2 L2190.5,2581.8 L2191.5,2583.0 L2192.5,2584.7 L2193.5,2586.8 L2194.5,2589.1 L2195.5,2591.5 L2196.5,2593.8 L2197.5,2596.0 L2198.5,2597.9 L2199.5,2599.3 L2200.5,2600.2 L2201.5,2600.4 L2202.5,2600.2 L2203.5,2599.7 L2204.5,2598.9 L2205.5,2598.1 L2206.5,2597.3 L2207.5,2596.5 L2208.5,2595.8 L2209.5,2595.4 L2210.5,2595.3 L2211.5,2595.5 L2212.5,2596.0 L2213.5,2596.8 L2214.5,2597.6 L2215.5,2598.6 L2216.5,2599.6 L2217.5,2600.6 L2218.5,2601.4 L2219.5,2602.2 L2220.5,2602.7 L2221.5,2603.0 L2222.5,2603.0 L2223.5,2602.8 L2224.5,2602.3 L2225.5,2601.8 L2226.5,2601.0 L2227.5,2600.2 L2228.5,2599.3 L2229.5,2598.4 L2230.5,2597.4 L2231.5,2596.4 L2232.5,2595.4 L2233.5,2594.4 L2234.5,2593.5 L2235.5,2592.7 L2236.5,2592.1 L2237.5,2591.5 L2238.5,2591.1 L2239.5,2590.9 L2240.5,2591.0 L2241.5,2591.4 L2242.5,2592.2 L2243.5,2593.3 L2244.5,2594.5 L2245.5,2595.8 L2246.5,2597.1 L2247.5,2598.4 L2248.5,2599.5 L2249.5,2600.4 L2250.5,2601.0 L2251.5,2601.2 L2252.5,2600.9 L2253.5,2599.9 L2254.5,2598.5 L2255.5,2596.6 L2256.5,2594.4 L2257.5,2592.0 L2258.5,2589.5 L2259.5,2587.0 L2260.5,2584.5 L2261.5,2582.3 L2262.5,2580.3 L2263.5,2578.8 L2264.5,2577.7 L2265.5,2577.3 L2266.5,2577.6 L2267.5,2578.7 L2268.5,2580.4 L2269.5,2582.7 L2270.5,2585.3 L2271.5,2588.1 L2272.5,2591.0 L2273.5,2593.8 L2274.5,2596.2 L2275.5,2598.3 L2276.5,2599.7 L2277.5,2600.4 L2278.5,2600.3 L2279.5,2599.4 L2280.5,2597.8 L2281.5,2595.8 L2282.5,2593.4 L2283.5,2590.7 L2284.5,2587.9 L2285.5,2585.1 L2286.5,2582.4 L2287.5,2579.9 L2288.5,2577.8 L2289.5,2576.1 L2290.5,2575.0 L2291.5,2574.7 L2292.5,2574.7 L2293.5,2574.9 L2294.5,2575.1 L2295.5,2575.3 L2296.5,2575.7 L2297.5,2576.1 L2298.5,2576.6 L2299.5,2577.1 L2300.5,2577.6 L2301.5,2578.2 L2302.5,2578.9 L2303.5,2579.6 L2304.5,2580.3 L2305.5,2581.0 L2306.5,2581.7 L2307.5,2582.5 L2308.5,2583.2 L2309.5,2584.0 L2310.5,2584.8 L2311.5,2585.6 L2312.5,2586.7 L2313.5,2588.0 L2314.5,2589.5 L2315.5,2591.1 L2316.5,2592.8 L2317.5,2594.4 L2318.5,2595.9 L2319.5,2597.3 L2320.5,2598.5 L2321.5,2599.5 L2322.5,2600.2 L2323.5,2600.4 L2324.5,2600.3 L2325.5,2600.0 L2326.5,2599.3 L2327.5,2598.4 L2328.5,2597.4 L2329.5,2596.2 L2330.5,2594.9 L2331.5,2593.5 L2332.5,2592.1 L2333.5,2590.7 L2334.5,2589.3 L2335.5,2587.9 L2336.5,2586.7 L2337.5,2585.6 L2338.5,2584.6 L2339.5,2583.9 L2340.5,2583.4 L2341.5,2583.2 L2342.5,2583.3 L2343.5,2583.7 L2344.5,2584.4 L2345.5,2585.3 L2346.5,2586.4 L2347.5,2587.7 L2348.5,2589.1 L2349.5,2590.6 L2350.5,2592.1 L2351.5,2593.6 L2352.5,2595.2 L2353.5,2596.6 L2354.5,2597.9 L2355.5,2599.1 L2356.5,2600.1 L2357.5,2600.9 L2358.5,2601.5 L2359.5,2601.7 L2360.5,2601.6 L2361.5,2601.1 L2362.5,2600.3 L2363.5,2599.2 L2364.5,2598.0 L2365.5,2596.9 L2366.5,2595.8 L2367.5,2594.9 L2368.5,2594.3 L2369.5,2594.0 L2370.5,2594.2 L2371.5,2594.8 L2372.5,2595.8 L2373.5,2596.9 L2374.5,2598.1 L2375.5,2599.3 L2376.5,2600.3 L2377.5,2601.2 L2378.5,2601.7 L2379.5,2601.7 L2380.5,2601.7 L2381.5,2601.5 L2382.5,2601.3 L2383.5,2601.0 L2384.5,2600.6 L2385.5,2600.0 L2386.5,2599.3 L2387.5,2598.5" stroke="#f00" stroke-width="7.2"/>
<path d="M363.5,2604.4 L364.5,2604.2 L365.5,2604.2 L366.5,2604.3 L367.5,2604.5 L368.5,2604.7 L369.5,2605.1 L370.5,2605.4 L371.5,2605.9 L372.5,2606.3 L373.5,2606.6 L374.5,2606.8 L375.4,2606.9 L375.5,2606.9 L376.5,2606.8 L377.5,2606.5 L378.5,2606.2 L379.5,2605.7 L380.5,2605.3 L381.5,2604.9 L382.5,2604.6 L383.5,2604.3 L384.5,2604.2 L385.5,2604.1 L386.5,2604.2 L387.5,2604.3 L388.5,2604.6 L389.5,2604.9 L390.5,2605.3 L391.5,2605.7 L392.5,2606.1 L393.5,2606.5 L394.5,2606.8 L395.5,2606.9 L395.7,2606.9 L396.5,2606.8 L397.5,2606.6 L398.5,2606.3 L399.5,2605.8 L400.5,2605.4 L401.5,2605.0 L402.5,2604.6 L403.5,2604.3 L404.5,2604.1 L405.5,2604.0 L406.5,2604.1 L407.5,2604.2 L408.5,2604.4 L409.5,2604.7 L410.5,2605.1 L411.5,2605.5 L412.5,2606.0 L413.5,2606.4 L414.5,2606.7 L415.5,2606.9 L415.9,2606.9 L416.5,2606.9 L417.5,2606.7 L418.5,2606.4 L419.5,2605.9 L420.5,2605.5 L421.5,2605.0 L422.5,2604.6 L423.5,2604.3 L424.5,2604.1 L425.5,2604.0 L426.5,2604.0 L427.5,2604.1 L428.5,2604.3 L429.5,2604.6 L430.5,2604.9 L431.5,2605.4 L432.5,2605.8 L433.5,2606.3 L434.5,2606.7 L435.5,2606.9 L436.2,2606.9 L436.5,2606.9 L437.5,2606.8 L438.5,2606.5 L439.5,2606.0 L440.5,2605.6 L441.5,2605.1 L442.5,2604.7 L443.5,2604.3 L444.5,2604.1 L445.5,2603.9 L446.5,2603.9 L447.5,2603.9 L448.5,2604.1 L449.5,2604.4 L450.5,2604.8 L451.5,2605.2 L452.5,2605.7 L453.5,2606.1 L454.5,2606.6 L455.5,2606.9 L456.5,2607.0 L456.5,2607.0 L457.5,2606.9 L458.5,2606.6 L459.5,2606.2 L460.5,2605.7 L461.5,2605.2 L462.5,2604.7 L463.5,2604.4 L464.5,2604.1 L465.5,2603.9 L466.5,2603.8 L467.5,2603.8 L468.5,2604.0 L469.5,2604.2 L470.5,2604.6 L471.5,2605.0 L472.5,2605.5 L473.5,2606.0 L474.5,2606.4 L475.5,2606.8 L476.5,2607.0 L476.8,2607.0 L477.5,2606.9 L478.5,2606.7 L479.5,2606.3 L480.5,2605.8 L481.5,2605.3 L482.5,2604.8 L483.5,2604.4 L484.5,2604.0 L485.5,2603.8 L486.5,2603.7 L487.5,2603.7 L488.5,2603.8 L489.5,2604.0 L490.5,2604.4 L491.5,2604.8 L492.5,2605.3 L493.5,2605.8 L494.5,2606.3 L495.5,2606.7 L496.5,2607.0 L497.1,2607.0 L497.5,2607.0 L498.5,2606.8 L499.5,2606.4 L500.5,2605.9 L501.5,2605.4 L502.5,2604.9 L503.5,2604.4 L504.5,2604.0 L505.5,2603.8 L506.5,2603.6 L507.5,2603.6 L508.5,2603.7 L509.5,2603.9 L510.5,2604.2 L511.5,2604.6 L512.5,2605.1 L513.5,2605.6 L514.5,2606.2 L515.5,2606.6 L516.5,2606.9 L517.4,2607.0 L517.5,2607.0 L518.5,2606.9 L519.5,2606.5 L520.5,2606.1 L521.5,2605.5 L522.5,2605.0 L523.5,2604.5 L524.5,2604.1 L525.5,2603.7 L526.5,2603.5 L527.5,2603.5 L528.5,2603.5 L529.5,2603.7 L530.5,2604.0 L531.5,2604.4 L532.5,2604.9 L533.5,2605.4 L534.5,2606.0 L535.5,2606.5 L536.5,2606.9 L537.5,2607.1 L537.7,2607.1 L538.5,2607.0 L539.5,2606.7 L540.5,2606.2 L541.5,2605.6 L542.5,2605.1 L543.5,2604.5 L544.5,2604.1 L545.5,2603.7 L546.5,2603.5 L547.5,2603.4 L548.5,2603.4 L549.5,2603.5 L550.5,2603.8 L551.5,2604.2 L552.5,2604.7 L553.5,2605.2 L554.5,2605.8 L555.5,2606.4 L556.5,2606.8 L557.5,2607.1 L558.0,2607.1 L558.5,2607.1 L559.5,2606.8 L560.5,2606.4 L561.5,2605.8 L562.5,2605.2 L563.5,2604.6 L564.5,2604.1 L565.5,2603.7 L566.5,2603.4 L567.5,2603.3 L568.5,2603.2 L569.5,2603.4 L570.5,2603.6 L571.5,2604.0 L572.5,2604.5 L573.5,2605.0 L574.5,2605.6 L575.5,2606.2 L576.5,2606.7 L577.5,2607.1 L578.3,2607.2 L578.5,2607.2 L579.5,2606.9 L580.5,2606.5 L581.5,2605.9 L582.5,2605.3 L583.5,2604.7 L584.5,2604.2 L585.5,2603.7 L586.5,2603.4 L587.5,2603.2 L588.5,2603.1 L589.5,2603.2 L590.5,2603.4 L591.5,2603.7 L592.5,2604.2 L593.5,2604.8 L594.5,2605.4 L595.5,2606.0 L596.5,2606.6 L597.5,2607.0 L598.5,2607.2 L598.6,2607.2 L599.5,2607.1 L600.5,2606.7 L601.5,2606.1 L602.5,2605.5 L603.5,2604.8 L604.5,2604.2 L605.5,2603.7 L606.5,2603.3 L607.5,2603.1 L608.5,2603.0 L609.5,2603.0 L610.5,2603.2 L611.5,2603.5 L612.5,2604.0 L613.5,2604.5 L614.5,2605.2 L615.5,2605.8 L616.5,2606.4 L617.5,2607.0 L618.5,2607.2 L618.9,2607.3 L619.5,2607.2 L620.5,2606.8 L621.5,2606.3 L622.5,2605.6 L623.5,2604.9 L624.5,2604.3 L625.5,2603.7 L626.5,2603.3 L627.5,2603.0 L628.5,2602.9 L629.5,2602.8 L630.5,2603.0 L631.5,2603.3 L632.5,2603.7 L633.5,2604.3 L634.5,2604.9 L635.5,2605.6 L636.5,2606.3 L637.5,2606.9 L638.5,2607.2 L639.1,2607.3 L639.5,2607.3 L640.5,2607.0 L641.5,2606.4 L642.5,2605.8 L643.5,2605.1 L644.5,2604.4 L645.5,2603.8 L646.5,2603.3 L647.5,2602.9 L648.5,2602.7 L649.5,2602.7 L650.5,2602.8 L651.5,2603.0 L652.5,2603.5 L653.5,2604.0 L654.5,2604.6 L655.5,2605.3 L656.5,2606.1 L657.5,2606.7 L658.5,2607.2 L659.4,2607.4 L659.5,2607.4 L660.5,2607.2 L661.5,2606.6 L662.5,2605.9 L663.5,2605.2 L664.5,2604.5 L665.5,2603.8 L666.5,2603.3 L667.5,2602.9 L668.5,2602.6 L669.5,2602.5 L670.5,2602.6 L671.5,2602.8 L672.5,2603.2 L673.5,2603.7 L674.5,2604.3 L675.5,2605.1 L676.5,2605.8 L677.5,2606.5 L678.5,2607.1 L679.5,2607.4 L679.7,2607.4 L680.5,2607.3 L681.5,2606.8 L682.5,2606.1 L683.5,2605.4 L684.5,2604.6 L685.5,2603.9 L686.5,2603.3 L687.5,2602.8 L688.5,2602.5 L689.5,2602.4 L690.5,2602.4 L691.5,2602.6 L692.5,2602.9 L693.5,2603.4 L694.5,2604.0 L695.5,2604.8 L696.5,2605.6 L697.5,2606.3 L698.5,2607.0 L699.5,2607.4 L700.0,2607.5 L700.5,2607.4 L701.5,2607.0 L702.5,2606.4 L703.5,2605.6 L704.5,2604.7 L705.5,2604.0 L706.5,2603.3 L707.5,2602.8 L708.5,2602.4 L709.5,2602.2 L710.5,2602.2 L711.5,2602.3 L712.5,2602.6 L713.5,2603.1 L714.5,2603.7 L715.5,2604.4 L716.5,2605.3 L717.5,2606.1 L718.5,2606.9 L719.5,2607.4 L720.3,2607.6 L720.5,2607.6 L721.5,2607.2 L722.5,2606.6 L723.5,2605.7 L724.5,2604.9 L725.5,2604.1 L726.5,2603.4 L727.5,2602.8 L728.5,2602.3 L729.5,2602.0 L730.5,2602.0 L731.5,2602.0 L732.5,2602.3 L733.5,2602.8 L734.5,2603.4 L735.5,2604.1 L736.5,2604.9 L737.5,2605.8 L738.5,2606.7 L739.5,2607.3 L740.5,2607.6 L740.6,2607.6 L741.5,2607.4 L742.5,2606.8 L743.5,2606.0 L744.5,2605.1 L745.5,2604.2 L746.5,2603.4 L747.5,2602.7 L748.5,2602.2 L749.5,2601.9 L750.5,2601.8 L751.5,2601.8 L752.5,2602.0 L753.5,2602.4 L754.5,2603.0 L755.5,2603.7 L756.5,2604.6 L757.5,2605.5 L758.5,2606.4 L759.5,2607.2 L760.5,2607.7 L760.9,2607.7 L761.5,2607.6 L762.5,2607.1 L763.5,2606.2 L764.5,2605.2 L765.5,2604.3 L766.5,2603.5 L767.5,2602.7 L768.5,2602.2 L769.5,2601.8 L770.5,2601.5 L771.5,2601.5 L772.5,2601.7 L773.5,2602.1 L774.5,2602.6 L775.5,2603.3 L776.5,2604.2 L777.5,2605.1 L778.5,2606.1 L779.5,2607.0 L780.5,2607.7 L781.2,2607.8 L781.5,2607.8 L782.5,2607.3 L783.5,2606.4 L784.5,2605.5 L785.5,2604.5 L786.5,2603.5 L787.5,2602.7 L788.5,2602.1 L789.5,2601.6 L790.5,2601.3 L791.5,2601.3 L792.5,2601.4 L793.5,2601.7 L794.5,2602.2 L795.5,2602.9 L796.5,2603.8 L797.5,2604.8 L798.5,2605.8 L799.5,2606.8 L800.5,2607.6 L801.5,2607.9 L801.5,2607.9 L802.5,2607.6 L803.5,2606.7 L804.5,2605.7 L805.5,2604.6 L806.5,2603.6 L807.5,2602.8 L808.5,2602.0 L809.5,2601.5 L810.5,2601.1 L811.5,2601.0 L812.5,2601.1 L813.5,2601.3 L814.5,2601.8 L815.5,2602.5 L816.5,2603.4 L817.5,2604.3 L818.5,2605.4 L819.5,2606.5 L820.5,2607.5 L821.5,2608.0 L821.8,2608.0 L822.5,2607.8 L823.5,2607.0 L824.5,2605.9 L825.5,2604.8 L826.5,2603.7 L827.5,2602.8 L828.5,2602.0 L829.5,2601.3 L830.5,2600.9 L831.5,2600.7 L832.5,2600.7 L833.5,2600.9 L834.5,2601.4 L835.5,2602.0 L836.5,2602.9 L837.5,2603.9 L838.5,2605.0 L839.5,2606.1 L840.5,2607.2 L841.5,2608.0 L842.0,2608.1 L842.5,2608.0 L843.5,2607.3 L844.5,2606.2 L845.5,2605.0 L846.5,2603.9 L847.5,2602.8 L848.5,2601.9 L849.5,2601.2 L850.5,2600.7 L851.5,2600.4 L852.5,2600.4 L853.5,2600.5 L854.5,2600.9 L855.5,2601.6 L856.5,2602.4 L857.5,2603.4 L858.5,2604.5 L859.5,2605.7 L860.5,2606.9 L861.5,2607.9 L862.3,2608.2 L862.5,2608.2 L863.5,2607.6 L864.5,2606.5 L865.5,2605.3 L866.5,2604.0 L867.5,2602.9 L868.5,2601.9 L869.5,2601.1 L870.5,2600.5 L871.5,2600.1 L872.5,2600.0 L873.5,2600.1 L874.5,2600.5 L875.5,2601.0 L876.5,2601.8 L877.5,2602.8 L878.5,2604.0 L879.5,2605.2 L880.5,2606.5 L881.5,2607.7 L882.5,2608.3 L882.6,2608.3 L883.5,2607.9 L884.5,2606.8 L885.5,2605.5 L886.5,2604.2 L887.5,2603.0 L888.5,2601.9 L889.5,2601.0 L890.5,2600.3 L891.5,2599.8 L892.5,2599.6 L893.5,2599.7 L894.5,2600.0 L895.5,2600.5 L896.5,2601.3 L897.5,2602.3 L898.5,2603.4 L899.5,2604.7 L900.5,2606.1 L901.5,2607.4 L902.5,2608.3 L902.9,2608.5 L903.5,2608.2 L904.5,2607.2 L905.5,2605.8 L906.5,2604.4 L907.5,2603.1 L908.5,2601.9 L909.5,2600.9 L910.5,2600.1 L911.5,2599.5 L912.5,2599.2 L913.5,2599.2 L914.5,2599.4 L915.5,2599.9 L916.5,2600.7 L917.5,2601.6 L918.5,2602.8 L919.5,2604.1 L920.5,2605.6 L921.5,2607.0 L922.5,2608.2 L923.2,2608.6 L923.5,2608.5 L924.5,2607.6 L925.5,2606.1 L926.5,2604.6 L927.5,2603.2 L928.5,2601.9 L929.5,2600.8 L930.5,2599.9 L931.5,2599.2 L932.5,2598.8 L933.5,2598.7 L934.5,2598.9 L935.5,2599.3 L936.5,2600.0 L937.5,2600.9 L938.5,2602.1 L939.5,2603.5 L940.5,2605.0 L941.5,2606.5 L942.5,2608.0 L943.5,2608.7 L943.5,2608.7 L944.5,2608.0 L945.5,2606.5 L946.5,2604.9 L947.5,2603.3 L948.5,2601.9 L949.5,2600.7 L950.5,2599.7 L951.5,2598.9 L952.5,2598.4 L953.5,2598.2 L954.5,2598.3 L955.5,2598.6 L956.5,2599.3 L957.5,2600.2 L958.5,2601.4 L959.5,2602.8 L960.5,2604.3 L961.5,2606.0 L962.5,2607.6 L963.5,2608.7 L963.8,2608.8 L964.5,2608.4 L965.5,2606.9 L966.5,2605.2 L967.5,2603.5 L968.5,2602.0 L969.5,2600.6 L970.5,2599.5 L971.5,2598.6 L972.5,2598.0 L973.5,2597.7 L974.5,2597.6 L975.5,2597.9 L976.5,2598.5 L977.5,2599.4 L978.5,2600.6 L979.5,2602.0 L980.5,2603.6 L981.5,2605.3 L982.5,2607.1 L983.5,2608.6 L984.1,2609.0 L984.5,2608.7 L985.5,2607.3 L986.5,2605.5 L987.5,2603.7 L988.5,2602.0 L989.5,2600.5 L990.5,2599.2 L991.5,2598.2 L992.5,2597.5 L993.5,2597.1 L994.5,2597.0 L995.5,2597.2 L996.5,2597.7 L997.5,2598.6 L998.5,2599.7 L999.5,2601.1 L1000.5,2602.7 L1001.5,2604.5 L1002.5,2606.4 L1003.5,2608.2 L1004.4,2609.1 L1004.5,2609.1 L1005.5,2607.8 L1006.5,2605.8 L1007.5,2603.9 L1008.5,2602.1 L1009.5,2600.4 L1010.5,2599.0 L1011.5,2597.9 L1012.5,2597.0 L1013.5,2596.5 L1014.5,2596.3 L1015.5,2596.4 L1016.5,2596.9 L1017.5,2597.7 L1018.5,2598.8 L1019.5,2600.2 L1020.5,2601.8 L1021.5,2603.7 L1022.5,2605.7 L1023.5,2607.7 L1024.5,2609.2 L1024.7,2609.2 L1025.5,2608.3 L1026.5,2606.3 L1027.5,2604.2 L1028.5,2602.2 L1029.5,2600.4 L1030.5,2598.8 L1031.5,2597.5 L1032.5,2596.5 L1033.5,2595.8 L1034.5,2595.5 L1035.5,2595.5 L1036.5,2595.9 L1037.5,2596.6 L1038.5,2597.7 L1039.5,2599.1 L1040.5,2600.8 L1041.5,2602.7 L1042.5,2604.8 L1043.5,2607.0 L1044.5,2609.0 L1044.9,2609.3 L1045.5,2608.8 L1046.5,2606.7 L1047.5,2604.5 L1048.5,2602.3 L1049.5,2600.3 L1050.5,2598.6 L1051.5,2597.1 L1052.5,2595.9 L1053.5,2595.1 L1054.5,2594.6 L1055.5,2594.6 L1056.5,2594.9 L1057.5,2595.5 L1058.5,2596.6 L1059.5,2598.0 L1060.5,2599.7 L1061.5,2601.6 L1062.5,2603.8 L1063.5,2606.2 L1064.5,2608.5 L1065.2,2609.5 L1065.5,2609.3 L1066.5,2607.2 L1067.5,2604.8 L1068.5,2602.5 L1069.5,2600.3 L1070.5,2598.3 L1071.5,2596.7 L1072.5,2595.3 L1073.5,2594.3 L1074.5,2593.7 L1075.5,2593.5 L1076.5,2593.7 L1077.5,2594.3 L1078.5,2595.3 L1079.5,2596.7 L1080.5,2598.4 L1081.5,2600.4 L1082.5,2602.7 L1083.5,2605.2 L1084.5,2607.7 L1085.5,2609.6 L1085.5,2609.6 L1086.5,2607.8 L1087.5,2605.2 L1088.5,2602.7 L1089.5,2600.3 L1090.5,2598.1 L1091.5,2596.2 L1092.5,2594.7 L1093.5,2593.5 L1094.5,2592.7 L1095.5,2592.4 L1096.5,2592.4 L1097.5,2593.0 L1098.5,2593.9 L1099.5,2595.3 L1100.5,2597.0 L1101.5,2599.1 L1102.5,2601.4 L1103.5,2604.0 L1104.5,2606.8 L1105.5,2609.4 L1105.8,2609.7 L1106.5,2608.4 L1107.5,2605.7 L1108.5,2602.9 L1109.5,2600.3 L1110.5,2597.8 L1111.5,2595.7 L1112.5,2593.9 L1113.5,2592.6 L1114.5,2591.6 L1115.5,2591.1 L1116.5,2591.0 L1117.5,2591.4 L1118.5,2592.3 L1119.5,2593.7 L1120.5,2595.4 L1121.5,2597.5 L1122.5,2600.0 L1123.5,2602.7 L1124.5,2605.6 L1125.5,2608.6 L1126.1,2609.8 L1126.5,2609.2 L1127.5,2606.2 L1128.5,2603.2 L1129.5,2600.3 L1130.5,2597.6 L1131.5,2595.2 L1132.5,2593.2 L1133.5,2591.5 L1134.5,2590.3 L1135.5,2589.6 L1136.5,2589.4 L1137.5,2589.7 L1138.5,2590.5 L1139.5,2591.8 L1140.5,2593.6 L1141.5,2595.8 L1142.5,2598.3 L1143.5,2601.2 L1144.5,2604.3 L1145.5,2607.6 L1146.4,2609.9 L1146.5,2609.9 L1147.5,2606.8 L1148.5,2603.5 L1149.5,2600.3 L1150.5,2597.3 L1151.5,2594.6 L1152.5,2592.3 L1153.5,2590.3 L1154.5,2588.9 L1155.5,2588.0 L1156.5,2587.6 L1157.5,2587.7 L1158.5,2588.5 L1159.5,2589.7 L1160.5,2591.5 L1161.5,2593.7 L1162.5,2596.4 L1163.5,2599.4 L1164.5,2602.8 L1165.5,2606.3 L1166.5,2609.8 L1166.7,2610.1 L1167.5,2607.6 L1168.5,2603.9 L1169.5,2600.3 L1170.5,2597.0 L1171.5,2593.9 L1172.5,2591.2 L1173.5,2589.0 L1174.5,2587.3 L1175.5,2586.1 L1176.5,2585.5 L1177.5,2585.4 L1178.5,2586.0 L1179.5,2587.2 L1180.5,2589.0 L1181.5,2591.3 L1182.5,2594.1 L1183.5,2597.3 L1184.5,2600.9 L1185.5,2604.7 L1186.5,2608.7 L1187.0,2610.2 L1187.5,2608.4 L1188.5,2604.4 L1189.5,2600.4 L1190.5,2596.6 L1191.5,2593.2 L1192.0,2591.5 L1192.5,2590.1 L1193.0,2588.7 L1193.5,2587.4 L1194.0,2586.3 L1194.5,2585.3 L1195.0,2584.5 L1195.5,2583.8 L1196.0,2583.3 L1196.5,2582.9 L1197.0,2582.7 L1197.5,2582.7 L1198.0,2582.9 L1198.5,2583.2 L1199.0,2583.6 L1199.5,2584.3 L1200.0,2585.1 L1200.5,2586.0 L1201.0,2587.2 L1201.5,2588.4 L1202.0,2589.8 L1202.5,2591.4 L1203.0,2593.0 L1203.5,2594.8 L1204.0,2596.7 L1204.5,2598.6 L1205.0,2600.7 L1205.5,2602.8 L1206.0,2605.0 L1206.5,2607.2 L1207.0,2609.4 L1207.3,2610.3 L1207.5,2609.5 L1208.0,2607.3 L1208.5,2605.0 L1209.0,2602.8 L1209.5,2600.5 L1210.0,2598.4 L1210.5,2596.2 L1211.0,2594.2 L1211.5,2592.2 L1212.0,2590.4 L1212.5,2588.6 L1213.0,2587.0 L1213.5,2585.5 L1214.0,2584.2 L1214.5,2583.0 L1215.0,2582.0 L1215.5,2581.1 L1216.0,2580.4 L1216.5,2579.9 L1217.0,2579.6 L1217.5,2579.4 L1218.0,2579.5 L1218.5,2579.7 L1219.0,2580.1 L1219.5,2580.7 L1220.0,2581.5 L1220.5,2582.4 L1221.0,2583.6 L1221.5,2584.9 L1222.0,2586.4 L1222.5,2588.0 L1223.0,2589.8 L1223.5,2591.7 L1224.0,2593.7 L1224.5,2595.9 L1225.0,2598.1 L1225.5,2600.5 L1226.0,2602.9 L1226.5,2605.3 L1227.0,2607.9 L1227.5,2610.3 L1227.5,2610.3 L1228.0,2608.4 L1228.5,2605.8 L1229.0,2603.2 L1229.5,2600.7 L1230.0,2598.2 L1230.5,2595.8 L1231.0,2593.4 L1231.5,2591.1 L1232.0,2589.0 L1232.5,2586.9 L1233.0,2585.0 L1233.5,2583.2 L1234.0,2581.6 L1234.5,2580.2 L1235.0,2578.9 L1235.5,2577.8 L1236.0,2576.9 L1236.5,2576.1 L1237.0,2575.6 L1237.5,2575.3 L1238.0,2575.2 L1238.5,2575.4 L1239.0,2575.7 L1239.5,2576.2 L1240.0,2577.0 L1240.5,2578.0 L1241.0,2579.1 L1241.5,2580.5 L1242.0,2582.0 L1242.5,2583.8 L1243.0,2585.7 L1243.5,2587.8 L1244.0,2590.0 L1244.5,2592.4 L1245.0,2594.9 L1245.5,2597.5 L1246.0,2600.2 L1246.5,2602.9 L1247.0,2605.8 L1247.5,2608.7 L1247.8,2610.4 L1248.0,2609.7 L1248.5,2606.8 L1249.0,2603.9 L1249.5,2600.9 L1250.0,2598.0 L1250.5,2595.2 L1251.0,2592.4 L1251.5,2589.8 L1252.0,2587.2 L1252.5,2584.8 L1253.0,2582.5 L1253.5,2580.3 L1254.0,2578.3 L1254.5,2576.5 L1255.0,2574.9 L1255.5,2573.5 L1256.0,2572.3 L1256.5,2571.3 L1257.0,2570.6 L1257.5,2570.1 L1258.0,2569.8 L1258.5,2569.8 L1259.0,2570.0 L1259.5,2570.5 L1260.0,2571.2 L1260.5,2572.1 L1261.0,2573.3 L1261.5,2574.8 L1262.0,2576.4 L1262.5,2578.3 L1263.0,2580.4 L1263.5,2582.7 L1264.0,2585.1 L1264.5,2587.8 L1265.0,2590.6 L1265.5,2593.5 L1266.0,2596.6 L1266.5,2599.8 L1267.0,2603.1 L1267.5,2606.4 L1268.0,2609.8 L1268.1,2610.5 L1268.5,2608.1 L1269.0,2604.7 L1269.5,2601.3 L1270.0,2597.9 L1270.5,2594.5 L1271.0,2591.2 L1271.5,2588.0 L1272.0,2584.9 L1272.5,2581.9 L1273.0,2579.1 L1273.5,2576.5 L1274.0,2574.0 L1274.5,2571.7 L1275.0,2569.7 L1275.5,2567.8 L1276.0,2566.3 L1276.5,2564.9 L1277.0,2563.9 L1277.5,2563.1 L1278.0,2562.5 L1278.5,2562.3 L1279.0,2562.4 L1279.5,2562.7 L1280.0,2563.4 L1280.5,2564.3 L1281.0,2565.5 L1281.5,2567.0 L1282.0,2568.8 L1282.5,2570.8 L1283.0,2573.2 L1283.5,2575.7 L1284.0,2578.5 L1284.5,2581.5 L1285.0,2584.7 L1285.5,2588.1 L1286.0,2591.7 L1286.5,2595.4 L1287.0,2599.3 L1287.5,2603.2 L1288.0,2607.3 L1288.4,2610.6 L1288.5,2610.0 L1289.0,2605.9 L1289.5,2601.8 L1290.0,2597.6 L1290.5,2593.5 L1291.0,2589.5 L1291.5,2585.5 L1292.0,2581.7 L1292.5,2578.0 L1293.0,2574.4 L1293.5,2571.1 L1294.0,2567.9 L1294.5,2565.0 L1295.0,2562.3 L1295.5,2559.9 L1296.0,2557.7 L1296.5,2555.9 L1297.0,2554.3 L1297.5,2553.1 L1298.0,2552.2 L1298.5,2551.7 L1299.0,2551.5 L1299.5,2551.7 L1300.0,2552.2 L1300.5,2553.1 L1301.0,2554.3 L1301.5,2555.9 L1302.0,2557.8 L1302.5,2560.1 L1303.0,2562.7 L1303.5,2565.6 L1304.0,2568.9 L1304.5,2572.4 L1305.0,2576.2 L1305.5,2580.2 L1306.0,2584.5 L1306.5,2589.0 L1307.0,2593.7 L1307.5,2598.5 L1308.0,2603.5 L1308.5,2608.5 L1308.7,2610.6 L1309.0,2607.7 L1309.5,2602.5 L1310.0,2597.3 L1310.5,2592.1 L1311.0,2587.0 L1311.5,2581.9 L1312.0,2576.9 L1312.5,2572.1 L1313.0,2567.5 L1313.5,2563.0 L1314.0,2558.8 L1314.5,2554.8 L1315.0,2551.1 L1315.5,2547.8 L1316.0,2544.7 L1316.5,2542.0 L1317.0,2539.7 L1317.5,2537.8 L1318.0,2536.3 L1318.5,2535.3 L1319.0,2534.6 L1319.5,2534.5 L1320.0,2534.7 L1320.5,2535.5 L1321.0,2536.7 L1321.2,2537.5 L1321.5,2538.4 L1321.8,2539.4 L1322.0,2540.5 L1322.2,2541.7 L1322.5,2543.1 L1322.8,2544.5 L1323.0,2546.1 L1323.2,2547.8 L1323.5,2549.6 L1323.8,2551.5 L1324.0,2553.5 L1324.2,2555.6 L1324.5,2557.8 L1324.8,2560.1 L1325.0,2562.4 L1325.2,2564.9 L1325.5,2567.5 L1325.8,2570.1 L1326.0,2572.9 L1326.2,2575.7 L1326.5,2578.6 L1326.8,2581.5 L1327.0,2584.6 L1327.2,2587.7 L1327.5,2590.8 L1327.8,2594.0 L1328.0,2597.3 L1328.2,2600.6 L1328.5,2603.9 L1328.8,2607.3 L1329.0,2610.6 L1329.2,2607.3 L1329.5,2603.8 L1329.8,2600.3 L1330.0,2596.8 L1330.2,2593.3 L1330.5,2589.8 L1330.8,2586.3 L1331.0,2582.8 L1331.2,2579.3 L1331.5,2575.8 L1331.8,2572.4 L1332.0,2569.0 L1332.2,2565.6 L1332.5,2562.2 L1332.8,2558.9 L1333.0,2555.7 L1333.2,2552.5 L1333.5,2549.3 L1333.8,2546.2 L1334.0,2543.2 L1334.2,2540.3 L1334.5,2537.4 L1334.8,2534.7 L1335.0,2532.0 L1335.2,2529.4 L1335.5,2526.9 L1335.8,2524.5 L1336.0,2522.2 L1336.2,2520.1 L1336.5,2518.0 L1336.8,2516.1 L1337.0,2514.3 L1337.2,2512.6 L1337.5,2511.1 L1337.8,2509.6 L1338.0,2508.4 L1338.2,2507.2 L1338.5,2506.3 L1338.8,2505.4 L1339.0,2504.7 L1339.2,2504.2 L1339.5,2503.8 L1339.8,2503.6 L1340.0,2503.5 L1340.2,2503.6 L1340.5,2503.9 L1340.8,2504.3 L1341.0,2504.9 L1341.2,2505.6 L1341.5,2506.5 L1341.8,2507.6 L1342.0,2508.9 L1342.2,2510.3 L1342.5,2511.9 L1342.8,2513.6 L1343.0,2515.5 L1343.2,2517.6 L1343.5,2519.8 L1343.8,2522.2 L1344.0,2524.8 L1344.2,2527.5 L1344.5,2530.4 L1344.8,2533.4 L1345.0,2536.6 L1345.2,2539.9 L1345.5,2543.4 L1345.8,2547.0 L1346.0,2550.7 L1346.2,2554.6 L1346.5,2558.6 L1346.8,2562.7 L1347.0,2567.0 L1347.2,2571.3 L1347.5,2575.8 L1347.8,2580.4 L1348.0,2585.1 L1348.2,2589.9 L1348.5,2594.7 L1348.8,2599.7 L1349.0,2604.7 L1349.2,2609.8 L1349.3,2610.6 L1349.5,2606.4 L1349.8,2601.2 L1350.0,2596.0 L1350.2,2590.6 L1350.5,2585.3 L1350.8,2579.9 L1351.0,2574.5 L1351.2,2569.1 L1351.5,2563.7 L1351.8,2558.2 L1352.0,2552.8 L1352.2,2547.4 L1352.5,2542.0 L1352.8,2536.7 L1353.0,2531.4 L1353.2,2526.1 L1353.5,2520.9 L1353.8,2515.8 L1354.0,2510.7 L1354.2,2505.7 L1354.5,2500.8 L1354.8,2496.0 L1355.0,2491.3 L1355.2,2486.7 L1355.5,2482.2 L1355.8,2477.9 L1356.0,2473.7 L1356.2,2469.6 L1356.5,2465.7 L1356.8,2461.9 L1357.0,2458.3 L1357.2,2454.9 L1357.5,2451.7 L1357.8,2448.7 L1358.0,2445.8 L1358.2,2443.2 L1358.5,2440.7 L1358.8,2438.5 L1359.0,2436.5 L1359.2,2434.8 L1359.5,2433.3 L1359.8,2432.0 L1360.0,2430.9 L1360.2,2430.1 L1360.5,2429.6 L1360.8,2429.4 L1361.0,2429.4 L1361.2,2429.6 L1361.5,2430.2 L1361.8,2431.0 L1362.0,2432.2 L1362.2,2433.6 L1362.5,2435.3 L1362.8,2437.3 L1363.0,2439.5 L1363.2,2442.1 L1363.5,2445.0 L1363.8,2448.2 L1364.0,2451.7 L1364.2,2455.5 L1364.5,2459.6 L1364.8,2464.0 L1365.0,2468.8 L1365.2,2473.8 L1365.5,2479.1 L1365.8,2484.8 L1366.0,2490.7 L1366.2,2497.0 L1366.5,2503.5 L1366.8,2510.4 L1367.0,2517.5 L1367.2,2525.0 L1367.5,2532.7 L1367.8,2540.7 L1368.0,2549.1 L1368.2,2557.6 L1368.5,2566.5 L1368.8,2575.6 L1369.0,2585.0 L1369.2,2594.7 L1369.5,2604.6 L1369.6,2607.8 L1369.8,2606.6 L1370.0,2596.2 L1370.2,2585.6 L1370.5,2574.7 L1370.8,2563.6 L1371.0,2552.3 L1371.2,2540.8 L1371.5,2529.0 L1371.8,2517.1 L1372.0,2505.0 L1372.2,2492.8 L1372.5,2480.3 L1372.8,2467.7 L1373.0,2455.0 L1373.2,2442.1 L1373.5,2429.1 L1373.8,2415.9 L1374.0,2402.7 L1374.2,2389.3 L1374.5,2375.9 L1374.8,2362.4 L1375.0,2348.8 L1375.2,2335.1 L1375.5,2321.4 L1375.8,2307.7 L1376.0,2293.9 L1376.2,2280.1 L1376.5,2266.3 L1376.8,2252.5 L1377.0,2238.7 L1377.2,2225.0 L1377.5,2211.3 L1377.8,2197.6 L1378.0,2184.0 L1378.2,2170.4 L1378.5,2157.0 L1378.8,2143.6 L1379.0,2130.3 L1379.2,2117.2 L1379.5,2104.1 L1379.8,2091.2 L1380.0,2078.4 L1380.2,2065.8 L1380.5,2053.4 L1380.8,2041.1 L1381.0,2029.0 L1381.2,2017.0 L1381.5,2005.3 L1381.8,1993.8 L1382.0,1982.5 L1382.2,1971.5 L1382.5,1960.6 L1382.8,1950.0 L1383.0,1939.7 L1383.2,1929.6 L1383.5,1919.8 L1383.8,1910.2 L1384.0,1901.0 L1384.2,1892.0 L1384.5,1883.3 L1384.8,1874.9 L1385.0,1866.9 L1385.2,1859.1 L1385.5,1851.6 L1385.8,1844.5 L1386.0,1837.7 L1386.2,1831.3 L1386.5,1825.1 L1386.8,1819.3 L1387.0,1813.9 L1387.2,1808.8 L1387.5,1804.1 L1387.8,1799.7 L1388.0,1795.7 L1388.2,1792.0 L1388.5,1788.8 L1388.8,1785.8 L1389.0,1783.3 L1389.2,1781.1 L1389.5,1779.3 L1389.8,1777.9 L1390.0,1776.8 L1390.2,1776.1 L1390.5,1775.8 L1390.8,1775.9 L1391.0,1776.3 L1391.2,1777.1 L1391.5,1778.3 L1391.8,1779.9 L1392.0,1781.8 L1392.2,1784.2 L1392.5,1786.8 L1392.8,1789.9 L1393.0,1793.3 L1393.2,1797.1 L1393.5,1801.3 L1393.8,1805.8 L1394.0,1810.6 L1394.2,1815.8 L1394.5,1821.4 L1394.8,1827.3 L1395.0,1833.6 L1395.2,1840.1 L1395.5,1847.1 L1395.8,1854.3 L1396.0,1861.9 L1396.2,1869.7 L1396.5,1877.9 L1396.8,1886.4 L1397.0,1895.2 L1397.2,1904.3 L1397.5,1913.7 L1397.8,1923.3 L1398.0,1933.2 L1398.2,1943.4 L1398.5,1953.8 L1398.8,1964.5 L1399.0,1975.4 L1399.2,1986.6 L1399.5,1998.0 L1399.8,2009.5 L1400.0,2021.3 L1400.2,2033.3 L1400.5,2045.5 L1400.8,2057.8 L1401.0,2070.4 L1401.2,2083.0 L1401.5,2095.9 L1401.8,2108.8 L1402.0,2121.9 L1402.2,2135.1 L1402.5,2148.4 L1402.8,2161.8 L1403.0,2175.3 L1403.2,2188.9 L1403.5,2202.5 L1403.8,2216.2 L1404.0,2229.9 L1404.2,2243.7 L1404.5,2257.5 L1404.8,2271.3 L1405.0,2285.1 L1405.2,2298.9 L1405.5,2312.6 L1405.8,2326.4 L1406.0,2340.0 L1406.2,2353.7 L1406.5,2367.3 L1406.8,2380.7 L1407.0,2394.2 L1407.2,2407.5 L1407.5,2420.7 L1407.8,2433.8 L1408.0,2446.8 L1408.2,2459.6 L1408.5,2472.3 L1408.8,2484.8 L1409.0,2497.2 L1409.2,2509.4 L1409.5,2521.5 L1409.8,2533.3 L1410.0,2545.0 L1410.2,2556.4 L1410.5,2567.6 L1410.8,2578.7 L1411.0,2589.4 L1411.2,2600.0 L1411.5,2610.3 L1411.6,2607.8 L1411.8,2601.0 L1412.0,2591.2 L1412.2,2581.6 L1412.5,2572.3 L1412.8,2563.3 L1413.0,2554.5 L1413.2,2546.0 L1413.5,2537.8 L1413.8,2529.9 L1414.0,2522.3 L1414.2,2514.9 L1414.5,2507.9 L1414.8,2501.1 L1415.0,2494.7 L1415.2,2488.6 L1415.5,2482.7 L1415.8,2477.2 L1416.0,2472.0 L1416.2,2467.0 L1416.5,2462.4 L1416.8,2458.1 L1417.0,2454.1 L1417.2,2450.4 L1417.5,2447.0 L1417.8,2443.9 L1418.0,2441.2 L1418.2,2438.7 L1418.5,2436.5 L1418.8,2434.6 L1419.0,2433.0 L1419.2,2431.7 L1419.5,2430.7 L1419.8,2430.0 L1420.0,2429.5 L1420.2,2429.3 L1420.5,2429.4 L1420.8,2429.8 L1421.0,2430.4 L1421.2,2431.3 L1421.5,2432.4 L1421.8,2433.8 L1422.0,2435.4 L1422.2,2437.2 L1422.5,2439.3 L1422.8,2441.6 L1423.0,2444.1 L1423.2,2446.8 L1423.5,2449.7 L1423.8,2452.8 L1424.0,2456.1 L1424.2,2459.6 L1424.5,2463.3 L1424.8,2467.1 L1425.0,2471.0 L1425.2,2475.2 L1425.5,2479.4 L1425.8,2483.8 L1426.0,2488.3 L1426.2,2493.0 L1426.5,2497.7 L1426.8,2502.6 L1427.0,2507.5 L1427.2,2512.5 L1427.5,2517.6 L1427.8,2522.8 L1428.0,2528.0 L1428.2,2533.3 L1428.5,2538.6 L1428.8,2544.0 L1429.0,2549.4 L1429.2,2554.8 L1429.5,2560.2 L1429.8,2565.6 L1430.0,2571.0 L1430.2,2576.5 L1430.5,2581.9 L1430.8,2587.2 L1431.0,2592.6 L1431.2,2597.9 L1431.5,2603.1 L1431.8,2608.3 L1431.9,2610.6 L1432.0,2607.9 L1432.2,2602.9 L1432.5,2597.9 L1432.8,2593.0 L1433.0,2588.1 L1433.2,2583.4 L1433.5,2578.7 L1433.8,2574.2 L1434.0,2569.8 L1434.2,2565.4 L1434.5,2561.2 L1434.8,2557.1 L1435.0,2553.2 L1435.2,2549.4 L1435.5,2545.7 L1435.8,2542.1 L1436.0,2538.7 L1436.2,2535.4 L1436.5,2532.3 L1436.8,2529.3 L1437.0,2526.5 L1437.2,2523.9 L1437.5,2521.4 L1437.8,2519.0 L1438.0,2516.8 L1438.2,2514.8 L1438.5,2513.0 L1438.8,2511.3 L1439.0,2509.8 L1439.2,2508.4 L1439.5,2507.2 L1439.8,2506.2 L1440.0,2505.3 L1440.2,2504.6 L1440.5,2504.1 L1440.8,2503.8 L1441.0,2503.6 L1441.2,2503.5 L1441.5,2503.6 L1441.8,2503.9 L1442.0,2504.4 L1442.2,2505.0 L1442.5,2505.7 L1442.8,2506.6 L1443.0,2507.6 L1443.2,2508.8 L1443.5,2510.1 L1443.8,2511.6 L1444.0,2513.2 L1444.2,2514.9 L1444.5,2516.8 L1444.8,2518.7 L1445.0,2520.8 L1445.2,2523.1 L1445.5,2525.4 L1445.8,2527.8 L1446.0,2530.3 L1446.2,2532.9 L1446.5,2535.7 L1446.8,2538.5 L1447.0,2541.3 L1447.2,2544.3 L1447.5,2547.3 L1447.8,2550.4 L1448.0,2553.6 L1448.2,2556.8 L1448.5,2560.1 L1448.8,2563.4 L1449.0,2566.8 L1449.2,2570.2 L1449.5,2573.6 L1449.8,2577.1 L1450.0,2580.6 L1450.2,2584.1 L1450.5,2587.6 L1450.8,2591.1 L1451.0,2594.6 L1451.2,2598.1 L1451.5,2601.6 L1451.8,2605.0 L1452.0,2608.5 L1452.2,2610.6 L1452.2,2609.5 L1452.5,2606.1 L1452.8,2602.7 L1453.0,2599.4 L1453.2,2596.1 L1453.5,2592.8 L1453.8,2589.7 L1454.0,2586.5 L1454.2,2583.5 L1454.5,2580.5 L1454.8,2577.5 L1455.0,2574.7 L1455.2,2571.9 L1455.5,2569.2 L1455.8,2566.6 L1456.0,2564.0 L1456.2,2561.6 L1456.5,2559.2 L1456.8,2557.0 L1457.0,2554.8 L1457.2,2552.7 L1457.5,2550.8 L1457.8,2548.9 L1458.0,2547.2 L1458.2,2545.5 L1458.5,2544.0 L1458.8,2542.6 L1459.0,2541.3 L1459.2,2540.1 L1459.5,2539.0 L1459.8,2538.0 L1460.0,2537.2 L1460.2,2536.4 L1460.5,2535.8 L1460.8,2535.3 L1461.2,2534.6 L1461.8,2534.5 L1462.2,2534.7 L1462.8,2535.4 L1463.2,2536.6 L1463.8,2538.1 L1464.2,2540.1 L1464.8,2542.5 L1465.2,2545.2 L1465.8,2548.3 L1466.2,2551.8 L1466.8,2555.5 L1467.2,2559.5 L1467.8,2563.8 L1468.2,2568.3 L1468.8,2573.0 L1469.2,2577.8 L1469.8,2582.8 L1470.2,2587.9 L1470.8,2593.0 L1471.2,2598.2 L1471.8,2603.5 L1472.2,2608.6 L1472.5,2610.6 L1472.8,2607.6 L1473.2,2602.6 L1473.8,2597.6 L1474.2,2592.8 L1474.8,2588.2 L1475.2,2583.7 L1475.8,2579.5 L1476.2,2575.5 L1476.8,2571.7 L1477.2,2568.3 L1477.8,2565.1 L1478.2,2562.2 L1478.8,2559.7 L1479.2,2557.4 L1479.8,2555.6 L1480.2,2554.0 L1480.8,2552.9 L1481.2,2552.1 L1481.8,2551.6 L1482.2,2551.5 L1482.8,2551.8 L1483.2,2552.4 L1483.8,2553.3 L1484.2,2554.6 L1484.8,2556.2 L1485.2,2558.1 L1485.8,2560.3 L1486.2,2562.8 L1486.8,2565.5 L1487.2,2568.5 L1487.8,2571.7 L1488.2,2575.1 L1488.8,2578.7 L1489.2,2582.4 L1489.8,2586.2 L1490.2,2590.2 L1490.8,2594.3 L1491.2,2598.4 L1491.8,2602.5 L1492.2,2606.6 L1492.7,2610.6 L1492.8,2610.5 L1493.2,2606.5 L1493.8,2602.5 L1494.2,2598.6 L1494.8,2594.7 L1495.2,2591.0 L1495.8,2587.5 L1496.2,2584.1 L1496.8,2581.0 L1497.2,2578.0 L1497.8,2575.2 L1498.2,2572.7 L1498.8,2570.5 L1499.2,2568.5 L1499.8,2566.7 L1500.2,2565.3 L1500.8,2564.1 L1501.2,2563.2 L1501.8,2562.6 L1502.2,2562.3 L1502.8,2562.3 L1503.2,2562.6 L1503.8,2563.2 L1504.2,2564.0 L1504.8,2565.1 L1505.2,2566.5 L1505.8,2568.1 L1506.2,2570.0 L1506.8,2572.1 L1507.2,2574.4 L1507.8,2576.9 L1508.2,2579.6 L1508.8,2582.5 L1509.2,2585.4 L1509.8,2588.6 L1510.2,2591.8 L1510.8,2595.1 L1511.2,2598.5 L1511.8,2601.9 L1512.2,2605.3 L1512.8,2608.8 L1513.0,2610.5 L1513.2,2609.2 L1513.8,2605.8 L1514.2,2602.5 L1514.8,2599.2 L1515.2,2596.0 L1515.8,2593.0 L1516.2,2590.1 L1516.8,2587.3 L1517.2,2584.7 L1517.8,2582.2 L1518.2,2580.0 L1518.8,2577.9 L1519.2,2576.1 L1519.8,2574.5 L1520.2,2573.1 L1520.8,2571.9 L1521.2,2571.0 L1521.8,2570.4 L1522.2,2569.9 L1522.8,2569.8 L1523.2,2569.8 L1523.8,2570.2 L1524.2,2570.7 L1524.8,2571.5 L1525.2,2572.5 L1525.8,2573.7 L1526.2,2575.2 L1526.8,2576.8 L1527.2,2578.7 L1527.8,2580.7 L1528.2,2582.9 L1528.8,2585.2 L1529.2,2587.7 L1529.8,2590.3 L1530.2,2592.9 L1530.8,2595.7 L1531.2,2598.6 L1531.8,2601.5 L1532.2,2604.4 L1532.8,2607.3 L1533.2,2610.2 L1533.3,2610.4 L1533.8,2608.2 L1534.2,2605.3 L1534.8,2602.4 L1535.2,2599.7 L1535.8,2597.0 L1536.2,2594.4 L1536.8,2591.9 L1537.2,2589.6 L1537.8,2587.4 L1538.2,2585.3 L1538.8,2583.4 L1539.2,2581.7 L1539.8,2580.2 L1540.2,2578.9 L1540.8,2577.8 L1541.2,2576.8 L1541.8,2576.1 L1542.2,2575.6 L1542.8,2575.3 L1543.2,2575.2 L1543.8,2575.4 L1544.2,2575.7 L1544.8,2576.3 L1545.2,2577.0 L1545.8,2577.9 L1546.2,2579.1 L1546.8,2580.4 L1547.2,2581.9 L1547.8,2583.5 L1548.2,2585.3 L1548.8,2587.3 L1549.2,2589.4 L1549.8,2591.5 L1550.2,2593.8 L1550.8,2596.2 L1551.2,2598.6 L1551.8,2601.1 L1552.2,2603.7 L1552.8,2606.3 L1553.2,2608.8 L1553.6,2610.3 L1553.8,2609.9 L1554.2,2607.4 L1554.8,2604.9 L1555.2,2602.4 L1555.8,2600.0 L1556.2,2597.7 L1556.8,2595.5 L1557.2,2593.3 L1557.8,2591.3 L1558.2,2589.4 L1558.8,2587.7 L1559.2,2586.1 L1559.8,2584.6 L1560.2,2583.4 L1560.8,2582.3 L1561.2,2581.3 L1561.8,2580.6 L1562.2,2580.0 L1562.8,2579.6 L1563.2,2579.4 L1563.8,2579.4 L1564.2,2579.6 L1564.8,2580.0 L1565.2,2580.5 L1565.8,2581.3 L1566.2,2582.1 L1566.8,2583.2 L1567.2,2584.4 L1567.8,2585.8 L1568.2,2587.3 L1568.8,2589.0 L1569.2,2590.7 L1569.8,2592.6 L1570.2,2594.6 L1570.8,2596.6 L1571.2,2598.7 L1571.8,2600.9 L1572.2,2603.2 L1572.8,2605.4 L1573.2,2607.7 L1573.8,2609.9 L1573.9,2610.3 L1574.2,2609.0 L1574.8,2606.8 L1575.2,2604.6 L1575.8,2602.4 L1576.2,2600.3 L1576.8,2598.3 L1577.2,2596.3 L1577.8,2594.5 L1578.2,2592.7 L1578.8,2591.1 L1579.2,2589.6 L1579.8,2588.2 L1580.2,2586.9 L1580.8,2585.9 L1581.2,2584.9 L1581.8,2584.2 L1582.2,2583.5 L1582.8,2583.1 L1583.2,2582.8 L1583.8,2582.7 L1584.2,2582.8 L1584.8,2583.0 L1585.2,2583.4 L1585.8,2583.9 L1586.2,2584.6 L1586.8,2585.5 L1587.2,2586.5 L1587.8,2587.6 L1588.2,2588.9 L1588.8,2590.3 L1589.2,2591.8 L1589.8,2593.5 L1590.2,2595.2 L1590.8,2597.0 L1591.8,2600.8 L1592.8,2604.8 L1593.8,2608.8 L1594.2,2610.2 L1594.8,2608.3 L1595.8,2604.4 L1596.8,2600.6 L1597.8,2597.0 L1598.8,2593.8 L1599.8,2591.1 L1600.8,2588.8 L1601.8,2587.1 L1602.8,2586.0 L1603.8,2585.4 L1604.8,2585.5 L1605.8,2586.1 L1606.8,2587.4 L1607.8,2589.2 L1608.8,2591.5 L1609.8,2594.2 L1610.8,2597.3 L1611.8,2600.6 L1612.8,2604.2 L1613.8,2607.9 L1614.5,2610.1 L1614.8,2609.5 L1615.8,2606.0 L1616.8,2602.4 L1617.8,2599.1 L1618.8,2596.1 L1619.8,2593.5 L1620.8,2591.3 L1621.8,2589.6 L1622.8,2588.4 L1623.8,2587.7 L1624.8,2587.6 L1625.8,2588.0 L1626.8,2589.0 L1627.8,2590.5 L1628.8,2592.5 L1629.8,2594.8 L1630.8,2597.6 L1631.8,2600.6 L1632.8,2603.8 L1633.8,2607.1 L1634.8,2609.9 L1634.8,2609.9 L1635.8,2607.3 L1636.8,2604.0 L1637.8,2600.9 L1638.8,2598.1 L1639.8,2595.6 L1640.8,2593.4 L1641.8,2591.7 L1642.8,2590.4 L1643.8,2589.7 L1644.8,2589.4 L1645.8,2589.7 L1646.8,2590.4 L1647.8,2591.6 L1648.8,2593.3 L1649.8,2595.4 L1650.8,2597.8 L1651.8,2600.5 L1652.8,2603.4 L1653.8,2606.5 L1654.8,2609.4 L1655.1,2609.8 L1655.8,2608.4 L1656.8,2605.4 L1657.8,2602.5 L1658.8,2599.8 L1659.8,2597.3 L1660.8,2595.2 L1661.8,2593.5 L1662.8,2592.2 L1663.8,2591.4 L1664.8,2591.0 L1665.8,2591.1 L1666.8,2591.7 L1667.8,2592.7 L1668.8,2594.1 L1669.8,2595.9 L1670.8,2598.1 L1671.8,2600.5 L1672.8,2603.1 L1673.8,2605.9 L1674.8,2608.7 L1675.3,2609.7 L1675.8,2609.2 L1676.8,2606.5 L1677.8,2603.8 L1678.8,2601.2 L1679.8,2598.9 L1680.8,2596.8 L1681.8,2595.1 L1682.8,2593.8 L1683.8,2592.9 L1684.8,2592.4 L1685.8,2592.4 L1686.8,2592.8 L1687.8,2593.6 L1688.8,2594.8 L1689.8,2596.4 L1690.8,2598.3 L1691.8,2600.5 L1692.8,2602.9 L1693.8,2605.4 L1694.8,2608.0 L1695.6,2609.6 L1695.8,2609.5 L1696.8,2607.5 L1697.8,2604.9 L1698.8,2602.5 L1699.8,2600.2 L1700.8,2598.3 L1701.8,2596.6 L1702.8,2595.2 L1703.8,2594.3 L1704.8,2593.7 L1705.8,2593.5 L1706.8,2593.8 L1707.8,2594.4 L1708.8,2595.4 L1709.8,2596.8 L1710.8,2598.5 L1711.8,2600.5 L1712.8,2602.7 L1713.8,2605.0 L1714.8,2607.4 L1715.8,2609.4 L1715.9,2609.5 L1716.8,2608.3 L1717.8,2605.9 L1718.8,2603.6 L1719.8,2601.5 L1720.8,2599.5 L1721.8,2597.8 L1722.8,2596.5 L1723.8,2595.5 L1724.8,2594.8 L1725.8,2594.5 L1726.8,2594.7 L1727.8,2595.2 L1728.8,2596.0 L1729.8,2597.2 L1730.8,2598.7 L1731.8,2600.5 L1732.8,2602.5 L1733.8,2604.7 L1734.8,2606.9 L1735.8,2608.9 L1736.2,2609.3 L1736.8,2608.8 L1737.8,2606.8 L1738.8,2604.6 L1739.8,2602.5 L1740.8,2600.6 L1741.8,2599.0 L1742.8,2597.6 L1743.8,2596.6 L1744.8,2595.9 L1745.8,2595.5 L1746.8,2595.5 L1747.8,2595.8 L1748.8,2596.6 L1749.8,2597.6 L1750.8,2598.9 L1751.8,2600.5 L1752.8,2602.4 L1753.8,2604.4 L1754.8,2606.4 L1755.8,2608.4 L1756.5,2609.2 L1756.8,2609.1 L1757.8,2607.5 L1758.8,2605.5 L1759.8,2603.5 L1760.8,2601.7 L1761.8,2600.0 L1762.8,2598.7 L1763.8,2597.6 L1764.8,2596.8 L1765.8,2596.4 L1766.8,2596.3 L1767.8,2596.5 L1768.8,2597.1 L1769.8,2598.0 L1770.8,2599.1 L1771.8,2600.6 L1772.8,2602.3 L1773.8,2604.1 L1774.8,2606.0 L1775.8,2607.9 L1776.8,2609.1 L1776.8,2609.1 L1777.8,2608.1 L1778.8,2606.3 L1779.8,2604.4 L1780.8,2602.6 L1781.8,2601.0 L1782.8,2599.6 L1783.8,2598.5 L1784.8,2597.7 L1785.8,2597.2 L1786.8,2597.0 L1787.8,2597.1 L1788.8,2597.5 L1789.8,2598.3 L1790.8,2599.3 L1791.8,2600.6 L1792.8,2602.2 L1793.8,2603.9 L1794.8,2605.7 L1795.8,2607.4 L1796.8,2608.8 L1797.1,2609.0 L1797.8,2608.5 L1798.8,2606.9 L1799.8,2605.1 L1800.8,2603.4 L1801.8,2601.8 L1802.8,2600.5 L1803.8,2599.3 L1804.8,2598.5 L1805.8,2597.9 L1806.8,2597.6 L1807.8,2597.7 L1808.8,2598.0 L1809.8,2598.6 L1810.8,2599.5 L1811.8,2600.7 L1812.8,2602.1 L1813.8,2603.6 L1814.8,2605.3 L1815.8,2607.0 L1816.8,2608.5 L1817.4,2608.8 L1817.8,2608.7 L1818.8,2607.4 L1819.8,2605.8 L1820.8,2604.2 L1821.8,2602.6 L1822.8,2601.3 L1823.8,2600.1 L1824.8,2599.2 L1825.8,2598.6 L1826.8,2598.3 L1827.8,2598.2 L1828.8,2598.4 L1829.8,2599.0 L1830.8,2599.8 L1831.8,2600.8 L1832.8,2602.0 L1833.8,2603.5 L1834.8,2605.0 L1835.8,2606.6 L1836.8,2608.1 L1837.7,2608.7 L1837.8,2608.7 L1838.8,2607.9 L1839.8,2606.4 L1840.8,2604.8 L1841.8,2603.3 L1842.8,2602.0 L1843.8,2600.9 L1844.8,2599.9 L1845.8,2599.3 L1846.8,2598.8 L1847.8,2598.7 L1848.8,2598.9 L1849.8,2599.3 L1850.8,2600.0 L1851.8,2600.9 L1852.8,2602.0 L1853.8,2603.3 L1854.8,2604.8 L1855.8,2606.3 L1856.8,2607.7 L1857.8,2608.5 L1858.0,2608.6 L1858.8,2608.1 L1859.8,2606.9 L1860.8,2605.4 L1861.8,2604.0 L1862.8,2602.7 L1863.8,2601.5 L1864.8,2600.6 L1865.8,2599.9 L1866.8,2599.4 L1867.8,2599.2 L1868.8,2599.3 L1869.8,2599.6 L1870.8,2600.2 L1871.8,2601.0 L1872.8,2602.0 L1873.8,2603.2 L1874.8,2604.5 L1875.8,2605.9 L1876.8,2607.3 L1877.8,2608.3 L1878.2,2608.5 L1878.8,2608.3 L1879.8,2607.3 L1880.8,2606.0 L1881.8,2604.6 L1882.8,2603.3 L1883.8,2602.2 L1884.8,2601.2 L1885.8,2600.4 L1886.8,2599.9 L1887.8,2599.7 L1888.8,2599.6 L1889.8,2599.9 L1890.8,2600.4 L1891.8,2601.1 L1892.8,2602.0 L1893.8,2603.1 L1894.8,2604.3 L1895.8,2605.6 L1896.8,2607.0 L1897.8,2608.0 L1898.5,2608.3 L1898.8,2608.3 L1899.8,2607.6 L1900.8,2606.4 L1901.8,2605.1 L1902.8,2603.9 L1903.8,2602.7 L1904.8,2601.8 L1905.8,2601.0 L1906.8,2600.4 L1907.8,2600.1 L1908.8,2600.0 L1909.8,2600.2 L1910.8,2600.6 L1911.8,2601.2 L1912.8,2602.0 L1913.8,2603.0 L1914.8,2604.1 L1915.8,2605.4 L1916.8,2606.6 L1917.8,2607.7 L1918.8,2608.2 L1918.8,2608.2 L1919.8,2607.8 L1920.8,2606.8 L1921.8,2605.6 L1922.8,2604.4 L1923.8,2603.3 L1924.8,2602.3 L1925.8,2601.5 L1926.8,2600.9 L1927.8,2600.5 L1928.8,2600.4 L1929.8,2600.4 L1930.8,2600.8 L1931.8,2601.3 L1932.8,2602.0 L1933.8,2602.9 L1934.8,2604.0 L1935.8,2605.1 L1936.8,2606.3 L1937.8,2607.4 L1938.8,2608.1 L1939.1,2608.1 L1939.8,2607.9 L1940.8,2607.1 L1941.8,2606.0 L1942.8,2604.9 L1943.8,2603.8 L1944.8,2602.8 L1945.8,2602.0 L1946.8,2601.3 L1947.8,2600.9 L1948.8,2600.7 L1949.8,2600.7 L1950.8,2601.0 L1951.8,2601.4 L1952.8,2602.0 L1953.8,2602.9 L1954.8,2603.8 L1955.8,2604.9 L1956.8,2606.0 L1957.8,2607.1 L1958.8,2607.8 L1959.4,2608.0 L1959.8,2608.0 L1960.8,2607.4 L1961.8,2606.4 L1962.8,2605.3 L1963.8,2604.2 L1964.8,2603.3 L1965.8,2602.4 L1966.8,2601.8 L1967.8,2601.3 L1968.8,2601.0 L1969.8,2601.0 L1970.8,2601.2 L1971.8,2601.5 L1972.8,2602.1 L1973.8,2602.8 L1974.8,2603.7 L1975.8,2604.7 L1976.8,2605.8 L1977.8,2606.8 L1978.8,2607.6 L1979.7,2607.9 L1979.8,2607.9 L1980.8,2607.5 L1981.8,2606.7 L1982.8,2605.7 L1983.8,2604.7 L1984.8,2603.7 L1985.8,2602.9 L1986.8,2602.2 L1987.8,2601.7 L1988.8,2601.4 L1989.8,2601.3 L1990.8,2601.4 L1991.8,2601.7 L1992.8,2602.1 L1993.8,2602.8 L1994.8,2603.6 L1995.8,2604.6 L1996.8,2605.5 L1997.8,2606.5 L1998.8,2607.4 L1999.8,2607.8 L2000.0,2607.8 L2000.8,2607.6 L2001.8,2607.0 L2002.8,2606.0 L2003.8,2605.1 L2004.8,2604.1 L2005.8,2603.3 L2006.8,2602.6 L2007.8,2602.0 L2008.8,2601.7 L2009.8,2601.5 L2010.8,2601.6 L2011.8,2601.8 L2012.8,2602.2 L2013.8,2602.8 L2014.8,2603.5 L2015.8,2604.4 L2016.8,2605.3 L2017.8,2606.3 L2018.8,2607.1 L2019.8,2607.7 L2020.3,2607.7 L2020.8,2607.7 L2021.8,2607.2 L2022.8,2606.3 L2023.8,2605.4 L2024.8,2604.5 L2025.8,2603.7 L2026.8,2602.9 L2027.8,2602.4 L2028.8,2602.0 L2029.8,2601.8 L2030.8,2601.8 L2031.8,2601.9 L2032.8,2602.3 L2033.8,2602.8 L2034.8,2603.5 L2035.8,2604.3 L2036.8,2605.1 L2037.8,2606.0 L2038.8,2606.9 L2039.8,2607.5 L2040.6,2607.6 L2040.8,2607.6 L2041.8,2607.3 L2042.8,2606.6 L2043.8,2605.7 L2044.8,2604.9 L2045.8,2604.0 L2046.8,2603.3 L2047.8,2602.7 L2048.8,2602.3 L2049.8,2602.0 L2050.8,2602.0 L2051.8,2602.1 L2052.8,2602.4 L2053.8,2602.8 L2054.8,2603.4 L2055.8,2604.1 L2056.8,2605.0 L2057.8,2605.8 L2058.8,2606.6 L2059.8,2607.3 L2060.8,2607.6 L2060.9,2607.6 L2061.8,2607.4 L2062.8,2606.8 L2063.8,2606.0 L2064.8,2605.2 L2065.8,2604.4 L2066.8,2603.6 L2067.8,2603.0 L2068.8,2602.6 L2069.8,2602.3 L2070.8,2602.2 L2071.8,2602.2 L2072.8,2602.4 L2073.8,2602.8 L2074.8,2603.4 L2075.8,2604.0 L2076.8,2604.8 L2077.8,2605.6 L2078.8,2606.4 L2079.8,2607.1 L2080.8,2607.5 L2081.2,2607.5 L2081.8,2607.4 L2082.8,2607.0 L2083.8,2606.3 L2084.8,2605.5 L2085.8,2604.7 L2086.8,2604.0 L2087.8,2603.3 L2088.8,2602.9 L2089.8,2602.5 L2090.8,2602.4 L2091.8,2602.4 L2092.8,2602.5 L2093.8,2602.9 L2094.8,2603.3 L2095.8,2604.0 L2096.8,2604.7 L2097.8,2605.4 L2098.8,2606.2 L2099.8,2606.9 L2100.8,2607.3 L2101.4,2607.4 L2101.8,2607.4 L2102.8,2607.1 L2103.8,2606.5 L2104.8,2605.8 L2105.8,2605.0 L2106.8,2604.3 L2107.8,2603.6 L2108.8,2603.1 L2109.8,2602.8 L2110.8,2602.6 L2111.8,2602.5 L2112.8,2602.6 L2113.8,2602.9 L2114.8,2603.3 L2115.8,2603.9 L2116.8,2604.5 L2117.8,2605.3 L2118.8,2606.0 L2119.8,2606.7 L2120.8,2607.2 L2121.7,2607.4 L2121.8,2607.4 L2122.8,2607.2 L2123.8,2606.7 L2124.8,2606.0 L2125.8,2605.3 L2126.8,2604.6 L2127.8,2603.9 L2128.8,2603.4 L2129.8,2603.0 L2130.8,2602.8 L2131.8,2602.7 L2132.8,2602.7 L2133.8,2603.0 L2134.8,2603.3 L2135.8,2603.8 L2136.8,2604.4 L2137.8,2605.1 L2138.8,2605.8 L2139.8,2606.5 L2140.8,2607.0 L2141.8,2607.3 L2142.0,2607.3 L2142.8,2607.2 L2143.8,2606.8 L2144.8,2606.2 L2145.8,2605.5 L2146.8,2604.8 L2147.8,2604.2 L2148.8,2603.7 L2149.8,2603.3 L2150.8,2603.0 L2151.8,2602.8 L2152.8,2602.9 L2153.8,2603.0 L2154.8,2603.3 L2155.8,2603.8 L2156.8,2604.3 L2157.8,2605.0 L2158.8,2605.7 L2159.8,2606.3 L2160.8,2606.9 L2161.8,2607.2 L2162.3,2607.3 L2162.8,2607.2 L2163.8,2606.9 L2164.8,2606.4 L2165.8,2605.8 L2166.8,2605.1 L2167.8,2604.5 L2168.8,2603.9 L2169.8,2603.5 L2170.8,2603.2 L2171.8,2603.0 L2172.8,2603.0 L2173.8,2603.1 L2174.8,2603.4 L2175.8,2603.8 L2176.8,2604.3 L2177.8,2604.9 L2178.8,2605.5 L2179.8,2606.1 L2180.8,2606.7 L2181.8,2607.1 L2182.6,2607.2 L2182.8,2607.2 L2183.8,2607.0 L2184.8,2606.6 L2185.8,2606.0 L2186.8,2605.3 L2187.8,2604.7 L2188.8,2604.2 L2189.8,2603.7 L2190.8,2603.4 L2191.8,2603.2 L2192.8,2603.1 L2193.8,2603.2 L2194.8,2603.4 L2195.8,2603.7 L2196.8,2604.2 L2197.8,2604.8 L2198.8,2605.4 L2199.8,2606.0 L2200.8,2606.6 L2201.8,2607.0 L2202.8,2607.2 L2202.9,2607.2 L2203.8,2607.0 L2204.8,2606.7 L2205.8,2606.2 L2206.8,2605.6 L2207.8,2605.0 L2208.8,2604.4 L2209.8,2603.9 L2210.8,2603.6 L2211.8,2603.3 L2212.8,2603.2 L2213.8,2603.3 L2214.8,2603.4 L2215.8,2603.7 L2216.8,2604.2 L2217.8,2604.7 L2218.8,2605.2 L2219.8,2605.8 L2220.8,2606.4 L2221.8,2606.8 L2222.8,2607.1 L2223.2,2607.1 L2223.8,2607.1 L2224.8,2606.8 L2225.8,2606.3 L2226.8,2605.8 L2227.8,2605.2 L2228.8,2604.6 L2229.8,2604.2 L2230.8,2603.8 L2231.8,2603.5 L2232.8,2603.4 L2233.8,2603.4 L2234.8,2603.5 L2235.8,2603.8 L2236.8,2604.1 L2237.8,2604.6 L2238.8,2605.1 L2239.8,2605.7 L2240.8,2606.2 L2241.8,2606.7 L2242.8,2607.0 L2243.5,2607.1 L2243.8,2607.1 L2244.8,2606.9 L2245.8,2606.5 L2246.8,2606.0 L2247.8,2605.4 L2248.8,2604.9 L2249.8,2604.4 L2250.8,2604.0 L2251.8,2603.7 L2252.8,2603.5 L2253.8,2603.5 L2254.8,2603.6 L2255.8,2603.8 L2256.8,2604.1 L2257.8,2604.5 L2258.8,2605.0 L2259.8,2605.6 L2260.8,2606.1 L2261.8,2606.6 L2262.8,2606.9 L2263.8,2607.0 L2263.8,2607.0 L2264.8,2606.9 L2265.8,2606.6 L2266.8,2606.1 L2267.8,2605.6 L2268.8,2605.1 L2269.8,2604.6 L2270.8,2604.2 L2271.8,2603.8 L2272.8,2603.7 L2273.8,2603.6 L2274.8,2603.6 L2275.8,2603.8 L2276.8,2604.1 L2277.8,2604.5 L2278.8,2604.9 L2279.8,2605.4 L2280.8,2606.0 L2281.8,2606.5 L2282.8,2606.8 L2283.8,2607.0 L2284.1,2607.0 L2284.8,2607.0 L2285.8,2606.7 L2286.8,2606.3 L2287.8,2605.8 L2288.8,2605.3 L2289.8,2604.8 L2290.8,2604.4 L2291.8,2604.0 L2292.8,2603.8 L2293.8,2603.7 L2294.8,2603.7 L2295.8,2603.8 L2296.8,2604.1 L2297.8,2604.4 L2298.8,2604.9 L2299.8,2605.3 L2300.8,2605.8 L2301.8,2606.3 L2302.8,2606.7 L2303.8,2607.0 L2304.3,2607.0 L2304.8,2607.0 L2305.8,2606.8 L2306.8,2606.4 L2307.8,2605.9 L2308.8,2605.4 L2309.8,2605.0 L2310.8,2604.5 L2311.8,2604.2 L2312.8,2603.9 L2313.8,2603.8 L2314.8,2603.8 L2315.8,2603.9 L2316.8,2604.1 L2317.8,2604.4 L2318.8,2604.8 L2319.8,2605.2 L2320.8,2605.7 L2321.8,2606.2 L2322.8,2606.6 L2323.8,2606.9 L2324.6,2607.0 L2324.8,2607.0 L2325.8,2606.8 L2326.8,2606.5 L2327.8,2606.1 L2328.8,2605.6 L2329.8,2605.2 L2330.8,2604.7 L2331.8,2604.4 L2332.8,2604.1 L2333.8,2603.9 L2334.8,2603.9 L2335.8,2603.9 L2336.8,2604.1 L2337.8,2604.4 L2338.8,2604.7 L2339.8,2605.2 L2340.8,2605.6 L2341.8,2606.1 L2342.8,2606.5 L2343.8,2606.8 L2344.8,2606.9 L2344.9,2606.9 L2345.8,2606.9 L2346.8,2606.6 L2347.8,2606.2 L2348.8,2605.8 L2349.8,2605.3 L2350.8,2604.9 L2351.8,2604.5 L2352.8,2604.2 L2353.8,2604.0 L2354.8,2604.0 L2355.8,2604.0 L2356.8,2604.1 L2357.8,2604.4 L2358.8,2604.7 L2359.8,2605.1 L2360.8,2605.5 L2361.8,2606.0 L2362.8,2606.4 L2363.8,2606.7 L2364.8,2606.9 L2365.2,2606.9 L2365.8,2606.9 L2366.8,2606.7 L2367.8,2606.4 L2368.8,2606.0 L2369.8,2605.5 L2370.8,2605.1 L2371.8,2604.7 L2372.8,2604.4 L2373.8,2604.2 L2374.8,2604.1 L2375.8,2604.0 L2376.8,2604.1 L2377.8,2604.4 L2378.8,2604.6 L2379.8,2605.0 L2380.8,2605.4 L2381.8,2605.9 L2382.8,2606.3 L2383.8,2606.6 L2384.8,2606.9 L2385.5,2606.9 L2385.8,2606.9 L2386.8,2606.8 L2387.8,2606.5 L2388.8,2606.1 L2389.8,2605.7 L2390.8,2605.2 L2390.8,2605.2" stroke="#00f" stroke-width="7.2"/>
</g>
<rect x="363.5" y="1606.5" width="2027.3000000000002" height="1004.1999999999998" fill="none" stroke="#000" stroke-width="5"/>
<rect x="1428.3" y="1606.5" width="961.7" height="216.5" fill="#fff" stroke="#000" stroke-width="5"/>
<path d="M1439,1678.8 H1495.5" stroke="#f00" stroke-width="7.2"/>
<path d="M1439,1784.7 H1495.5" stroke="#00f" stroke-width="7.2"/>
<text transform="translate(1516.50,1664.80)" font-size="61.8">the distance when there are100</text>
<text transform="translate(1516.50,1733.00)" font-size="61.8">incorrect extreme points</text>
<text transform="translate(1516.50,1804.20)" font-size="61.8">the ideal distance</text>
<text transform="translate(561.53,2664.50) scale(0.9850,1.0450)" font-size="54.5" text-anchor="middle">4300</text>
<text transform="translate(764.43,2664.50) scale(0.9850,1.0450)" font-size="54.5" text-anchor="middle">4350</text>
<text transform="translate(967.33,2664.50) scale(0.9850,1.0450)" font-size="54.5" text-anchor="middle">4400</text>
<text transform="translate(1170.23,2664.50) scale(0.9850,1.0450)" font-size="54.5" text-anchor="middle">4450</text>
<text transform="translate(1373.13,2664.50) scale(0.9850,1.0450)" font-size="54.5" text-anchor="middle">4500</text>
<text transform="translate(1576.03,2664.50) scale(0.9850,1.0450)" font-size="54.5" text-anchor="middle">4550</text>
<text transform="translate(1778.93,2664.50) scale(0.9850,1.0450)" font-size="54.5" text-anchor="middle">4600</text>
<text transform="translate(1981.83,2664.50) scale(0.9850,1.0450)" font-size="54.5" text-anchor="middle">4650</text>
<text transform="translate(2184.73,2664.50) scale(0.9850,1.0450)" font-size="54.5" text-anchor="middle">4700</text>
<text transform="translate(2387.63,2664.50) scale(0.9850,1.0450)" font-size="54.5" text-anchor="middle">4750</text>
<text transform="translate(356.50,2629.60) scale(0.9850,1.0450)" font-size="54.5" text-anchor="end">0</text>
<text transform="translate(356.50,2378.55) scale(0.9850,1.0450)" font-size="54.5" text-anchor="end">179.9612</text>
<text transform="translate(356.50,2127.50) scale(0.9850,1.0450)" font-size="54.5" text-anchor="end">359.9224</text>
<text transform="translate(356.50,1876.45) scale(0.9850,1.0450)" font-size="54.5" text-anchor="end">539.8835</text>
<text transform="translate(356.50,1625.40) scale(0.9850,1.0450)" font-size="54.5" text-anchor="end">719.8447</text>
<text transform="translate(1374.80,1559.00)" font-size="92" text-anchor="middle">b</text>
<text transform="translate(1375.70,2730.50)" font-size="73" text-anchor="middle">Measured distance/mm</text>
<text transform="translate(106.80,2062.70) rotate(-90)" font-size="74" text-anchor="middle">Amptitude</text>
<text class="cap" transform="translate(1331.5,2839.2) scale(1.05,1)" text-anchor="middle" font-size="87"><tspan font-size="76.2" dy="-8.2">(</tspan><tspan dy="8.2">b</tspan><tspan font-size="76.2" dy="-8.2">)</tspan></text>
</g>
</svg>
</body></html>
